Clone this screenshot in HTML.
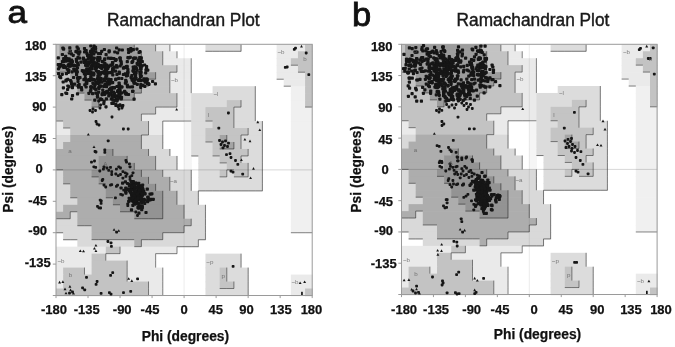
<!DOCTYPE html>
<html><head><meta charset="utf-8"><title>Ramachandran Plot</title>
<style>
html,body{margin:0;padding:0;background:#fff;}
body{width:675px;height:347px;position:relative;overflow:hidden;font-family:"Liberation Sans",sans-serif;color:#111;}
</style></head><body>
<svg width="675" height="347" viewBox="0 0 675 347" style="position:absolute;left:0;top:0;filter:grayscale(1) blur(0.4px)">
<rect x="56.00" y="44.30" width="78.88" height="7.68" fill="#9c9c9c"/>
<rect x="134.28" y="44.30" width="21.95" height="7.68" fill="#c3c3c3"/>
<rect x="155.63" y="44.30" width="14.83" height="7.68" fill="#eaeaea"/>
<rect x="205.45" y="44.30" width="36.18" height="7.68" fill="#dcdcdc"/>
<rect x="276.62" y="44.30" width="29.07" height="7.68" fill="#eaeaea"/>
<rect x="305.08" y="44.30" width="7.72" height="7.68" fill="#c3c3c3"/>
<rect x="56.00" y="51.28" width="86.00" height="7.68" fill="#9c9c9c"/>
<rect x="141.40" y="51.28" width="21.95" height="7.68" fill="#c3c3c3"/>
<rect x="162.75" y="51.28" width="14.83" height="7.68" fill="#eaeaea"/>
<rect x="276.62" y="51.28" width="21.95" height="7.68" fill="#eaeaea"/>
<rect x="297.97" y="51.28" width="14.83" height="7.68" fill="#c3c3c3"/>
<rect x="56.00" y="58.26" width="86.00" height="7.68" fill="#9c9c9c"/>
<rect x="141.40" y="58.26" width="21.95" height="7.68" fill="#c3c3c3"/>
<rect x="162.75" y="58.26" width="29.07" height="7.68" fill="#eaeaea"/>
<rect x="276.62" y="58.26" width="14.83" height="7.68" fill="#eaeaea"/>
<rect x="290.85" y="58.26" width="21.95" height="7.68" fill="#c3c3c3"/>
<rect x="56.00" y="65.23" width="86.00" height="7.68" fill="#9c9c9c"/>
<rect x="141.40" y="65.23" width="36.18" height="7.68" fill="#c3c3c3"/>
<rect x="176.98" y="65.23" width="14.83" height="7.68" fill="#eaeaea"/>
<rect x="276.62" y="65.23" width="21.95" height="7.68" fill="#eaeaea"/>
<rect x="297.97" y="65.23" width="14.83" height="7.68" fill="#c3c3c3"/>
<rect x="56.00" y="72.21" width="14.83" height="7.68" fill="#c3c3c3"/>
<rect x="70.23" y="72.21" width="86.00" height="7.68" fill="#9c9c9c"/>
<rect x="155.63" y="72.21" width="14.83" height="7.68" fill="#c3c3c3"/>
<rect x="169.87" y="72.21" width="21.95" height="7.68" fill="#eaeaea"/>
<rect x="276.62" y="72.21" width="29.07" height="7.68" fill="#eaeaea"/>
<rect x="305.08" y="72.21" width="7.72" height="7.68" fill="#c3c3c3"/>
<rect x="56.00" y="79.19" width="14.83" height="7.68" fill="#c3c3c3"/>
<rect x="70.23" y="79.19" width="78.88" height="7.68" fill="#9c9c9c"/>
<rect x="148.52" y="79.19" width="21.95" height="7.68" fill="#c3c3c3"/>
<rect x="169.87" y="79.19" width="21.95" height="7.68" fill="#eaeaea"/>
<rect x="283.73" y="79.19" width="21.95" height="7.68" fill="#eaeaea"/>
<rect x="305.08" y="79.19" width="7.72" height="7.68" fill="#c3c3c3"/>
<rect x="56.00" y="86.17" width="21.95" height="7.68" fill="#c3c3c3"/>
<rect x="77.35" y="86.17" width="64.65" height="7.68" fill="#9c9c9c"/>
<rect x="141.40" y="86.17" width="29.07" height="7.68" fill="#c3c3c3"/>
<rect x="169.87" y="86.17" width="21.95" height="7.68" fill="#eaeaea"/>
<rect x="212.57" y="86.17" width="43.30" height="7.68" fill="#dcdcdc"/>
<rect x="290.85" y="86.17" width="14.83" height="7.68" fill="#f0f0f0"/>
<rect x="305.08" y="86.17" width="7.72" height="7.68" fill="#c3c3c3"/>
<rect x="56.00" y="93.14" width="29.07" height="7.68" fill="#c3c3c3"/>
<rect x="84.47" y="93.14" width="50.42" height="7.68" fill="#9c9c9c"/>
<rect x="134.28" y="93.14" width="43.30" height="7.68" fill="#c3c3c3"/>
<rect x="176.98" y="93.14" width="14.83" height="7.68" fill="#eaeaea"/>
<rect x="191.22" y="93.14" width="64.65" height="7.68" fill="#dcdcdc"/>
<rect x="290.85" y="93.14" width="14.83" height="7.68" fill="#f0f0f0"/>
<rect x="305.08" y="93.14" width="7.72" height="7.68" fill="#c3c3c3"/>
<rect x="56.00" y="100.12" width="36.18" height="7.68" fill="#c3c3c3"/>
<rect x="91.58" y="100.12" width="7.72" height="7.68" fill="#9c9c9c"/>
<rect x="98.70" y="100.12" width="78.88" height="7.68" fill="#c3c3c3"/>
<rect x="176.98" y="100.12" width="14.83" height="7.68" fill="#eaeaea"/>
<rect x="191.22" y="100.12" width="36.18" height="7.68" fill="#dcdcdc"/>
<rect x="226.80" y="100.12" width="14.83" height="7.68" fill="#c4c4c4"/>
<rect x="241.03" y="100.12" width="14.83" height="7.68" fill="#dcdcdc"/>
<rect x="290.85" y="100.12" width="14.83" height="7.68" fill="#f0f0f0"/>
<rect x="305.08" y="100.12" width="7.72" height="7.68" fill="#c3c3c3"/>
<rect x="56.00" y="107.10" width="100.23" height="7.68" fill="#c3c3c3"/>
<rect x="155.63" y="107.10" width="36.18" height="7.68" fill="#eaeaea"/>
<rect x="191.22" y="107.10" width="14.83" height="7.68" fill="#dcdcdc"/>
<rect x="205.45" y="107.10" width="29.07" height="7.68" fill="#c4c4c4"/>
<rect x="233.92" y="107.10" width="21.95" height="7.68" fill="#dcdcdc"/>
<rect x="290.85" y="107.10" width="21.95" height="7.68" fill="#f0f0f0"/>
<rect x="56.00" y="114.08" width="86.00" height="7.68" fill="#c3c3c3"/>
<rect x="141.40" y="114.08" width="50.42" height="7.68" fill="#eaeaea"/>
<rect x="191.22" y="114.08" width="14.83" height="7.68" fill="#dcdcdc"/>
<rect x="205.45" y="114.08" width="29.07" height="7.68" fill="#c4c4c4"/>
<rect x="233.92" y="114.08" width="21.95" height="7.68" fill="#dcdcdc"/>
<rect x="290.85" y="114.08" width="21.95" height="7.68" fill="#f0f0f0"/>
<rect x="56.00" y="121.06" width="7.72" height="7.68" fill="#eaeaea"/>
<rect x="63.12" y="121.06" width="86.00" height="7.68" fill="#c3c3c3"/>
<rect x="148.52" y="121.06" width="14.83" height="7.68" fill="#eaeaea"/>
<rect x="184.10" y="121.06" width="7.72" height="7.68" fill="#f5f5f5"/>
<rect x="191.22" y="121.06" width="21.95" height="7.68" fill="#dcdcdc"/>
<rect x="212.57" y="121.06" width="21.95" height="7.68" fill="#c4c4c4"/>
<rect x="233.92" y="121.06" width="29.07" height="7.68" fill="#dcdcdc"/>
<rect x="290.85" y="121.06" width="21.95" height="7.68" fill="#f0f0f0"/>
<rect x="56.00" y="128.03" width="14.83" height="7.68" fill="#eaeaea"/>
<rect x="70.23" y="128.03" width="78.88" height="7.68" fill="#c3c3c3"/>
<rect x="148.52" y="128.03" width="14.83" height="7.68" fill="#eaeaea"/>
<rect x="184.10" y="128.03" width="7.72" height="7.68" fill="#f5f5f5"/>
<rect x="191.22" y="128.03" width="14.83" height="7.68" fill="#dcdcdc"/>
<rect x="205.45" y="128.03" width="43.30" height="7.68" fill="#c4c4c4"/>
<rect x="248.15" y="128.03" width="14.83" height="7.68" fill="#dcdcdc"/>
<rect x="290.85" y="128.03" width="21.95" height="7.68" fill="#f0f0f0"/>
<rect x="56.00" y="135.01" width="14.83" height="7.68" fill="#d9d9d9"/>
<rect x="70.23" y="135.01" width="71.77" height="7.68" fill="#adadad"/>
<rect x="141.40" y="135.01" width="21.95" height="7.68" fill="#d9d9d9"/>
<rect x="184.10" y="135.01" width="7.72" height="7.68" fill="#f5f5f5"/>
<rect x="191.22" y="135.01" width="14.83" height="7.68" fill="#dcdcdc"/>
<rect x="205.45" y="135.01" width="14.83" height="7.68" fill="#c4c4c4"/>
<rect x="219.68" y="135.01" width="7.72" height="7.68" fill="#a4a4a4"/>
<rect x="226.80" y="135.01" width="14.83" height="7.68" fill="#c4c4c4"/>
<rect x="241.03" y="135.01" width="21.95" height="7.68" fill="#dcdcdc"/>
<rect x="290.85" y="135.01" width="21.95" height="7.68" fill="#f0f0f0"/>
<rect x="56.00" y="141.99" width="7.72" height="7.68" fill="#d9d9d9"/>
<rect x="63.12" y="141.99" width="78.88" height="7.68" fill="#adadad"/>
<rect x="141.40" y="141.99" width="21.95" height="7.68" fill="#d9d9d9"/>
<rect x="184.10" y="141.99" width="7.72" height="7.68" fill="#f5f5f5"/>
<rect x="191.22" y="141.99" width="21.95" height="7.68" fill="#dcdcdc"/>
<rect x="212.57" y="141.99" width="7.72" height="7.68" fill="#c4c4c4"/>
<rect x="219.68" y="141.99" width="14.83" height="7.68" fill="#a4a4a4"/>
<rect x="233.92" y="141.99" width="7.72" height="7.68" fill="#c4c4c4"/>
<rect x="241.03" y="141.99" width="21.95" height="7.68" fill="#dcdcdc"/>
<rect x="290.85" y="141.99" width="21.95" height="7.68" fill="#f0f0f0"/>
<rect x="56.00" y="148.97" width="50.42" height="7.68" fill="#adadad"/>
<rect x="105.82" y="148.97" width="7.72" height="7.68" fill="#939393"/>
<rect x="112.93" y="148.97" width="36.18" height="7.68" fill="#adadad"/>
<rect x="148.52" y="148.97" width="21.95" height="7.68" fill="#d9d9d9"/>
<rect x="184.10" y="148.97" width="7.72" height="7.68" fill="#f5f5f5"/>
<rect x="191.22" y="148.97" width="21.95" height="7.68" fill="#dcdcdc"/>
<rect x="212.57" y="148.97" width="36.18" height="7.68" fill="#c4c4c4"/>
<rect x="248.15" y="148.97" width="14.83" height="7.68" fill="#dcdcdc"/>
<rect x="290.85" y="148.97" width="21.95" height="7.68" fill="#f0f0f0"/>
<rect x="56.00" y="155.94" width="43.30" height="7.68" fill="#adadad"/>
<rect x="98.70" y="155.94" width="29.07" height="7.68" fill="#939393"/>
<rect x="127.17" y="155.94" width="29.07" height="7.68" fill="#adadad"/>
<rect x="155.63" y="155.94" width="21.95" height="7.68" fill="#d9d9d9"/>
<rect x="184.10" y="155.94" width="7.72" height="7.68" fill="#f5f5f5"/>
<rect x="198.33" y="155.94" width="21.95" height="7.68" fill="#dcdcdc"/>
<rect x="219.68" y="155.94" width="21.95" height="7.68" fill="#c4c4c4"/>
<rect x="241.03" y="155.94" width="21.95" height="7.68" fill="#dcdcdc"/>
<rect x="290.85" y="155.94" width="21.95" height="7.68" fill="#f0f0f0"/>
<rect x="56.00" y="162.92" width="43.30" height="7.68" fill="#adadad"/>
<rect x="98.70" y="162.92" width="36.18" height="7.68" fill="#939393"/>
<rect x="134.28" y="162.92" width="21.95" height="7.68" fill="#adadad"/>
<rect x="155.63" y="162.92" width="21.95" height="7.68" fill="#d9d9d9"/>
<rect x="184.10" y="162.92" width="7.72" height="7.68" fill="#f5f5f5"/>
<rect x="198.33" y="162.92" width="29.07" height="7.68" fill="#dcdcdc"/>
<rect x="226.80" y="162.92" width="21.95" height="7.68" fill="#c4c4c4"/>
<rect x="248.15" y="162.92" width="14.83" height="7.68" fill="#dcdcdc"/>
<rect x="290.85" y="162.92" width="21.95" height="7.68" fill="#f0f0f0"/>
<rect x="56.00" y="169.90" width="7.72" height="7.68" fill="#d9d9d9"/>
<rect x="63.12" y="169.90" width="29.07" height="7.68" fill="#adadad"/>
<rect x="91.58" y="169.90" width="50.42" height="7.68" fill="#939393"/>
<rect x="141.40" y="169.90" width="21.95" height="7.68" fill="#adadad"/>
<rect x="162.75" y="169.90" width="29.07" height="7.68" fill="#d9d9d9"/>
<rect x="198.33" y="169.90" width="21.95" height="7.68" fill="#dcdcdc"/>
<rect x="219.68" y="169.90" width="7.72" height="7.68" fill="#c4c4c4"/>
<rect x="226.80" y="169.90" width="7.72" height="7.68" fill="#dcdcdc"/>
<rect x="233.92" y="169.90" width="14.83" height="7.68" fill="#c4c4c4"/>
<rect x="248.15" y="169.90" width="14.83" height="7.68" fill="#dcdcdc"/>
<rect x="290.85" y="169.90" width="21.95" height="7.68" fill="#f0f0f0"/>
<rect x="56.00" y="176.88" width="7.72" height="7.68" fill="#d9d9d9"/>
<rect x="63.12" y="176.88" width="36.18" height="7.68" fill="#adadad"/>
<rect x="98.70" y="176.88" width="50.42" height="7.68" fill="#939393"/>
<rect x="148.52" y="176.88" width="21.95" height="7.68" fill="#adadad"/>
<rect x="169.87" y="176.88" width="21.95" height="7.68" fill="#d9d9d9"/>
<rect x="198.33" y="176.88" width="64.65" height="7.68" fill="#dcdcdc"/>
<rect x="290.85" y="176.88" width="21.95" height="7.68" fill="#f0f0f0"/>
<rect x="56.00" y="183.86" width="14.83" height="7.68" fill="#d9d9d9"/>
<rect x="70.23" y="183.86" width="36.18" height="7.68" fill="#adadad"/>
<rect x="105.82" y="183.86" width="50.42" height="7.68" fill="#939393"/>
<rect x="155.63" y="183.86" width="14.83" height="7.68" fill="#adadad"/>
<rect x="169.87" y="183.86" width="21.95" height="7.68" fill="#d9d9d9"/>
<rect x="198.33" y="183.86" width="64.65" height="7.68" fill="#dcdcdc"/>
<rect x="290.85" y="183.86" width="21.95" height="7.68" fill="#f0f0f0"/>
<rect x="56.00" y="190.83" width="14.83" height="7.68" fill="#d9d9d9"/>
<rect x="70.23" y="190.83" width="36.18" height="7.68" fill="#adadad"/>
<rect x="105.82" y="190.83" width="57.53" height="7.68" fill="#939393"/>
<rect x="162.75" y="190.83" width="14.83" height="7.68" fill="#adadad"/>
<rect x="176.98" y="190.83" width="21.95" height="7.68" fill="#d9d9d9"/>
<rect x="290.85" y="190.83" width="21.95" height="7.68" fill="#f0f0f0"/>
<rect x="56.00" y="197.81" width="21.95" height="7.68" fill="#d9d9d9"/>
<rect x="77.35" y="197.81" width="36.18" height="7.68" fill="#adadad"/>
<rect x="112.93" y="197.81" width="50.42" height="7.68" fill="#939393"/>
<rect x="162.75" y="197.81" width="14.83" height="7.68" fill="#adadad"/>
<rect x="176.98" y="197.81" width="21.95" height="7.68" fill="#d9d9d9"/>
<rect x="290.85" y="197.81" width="21.95" height="7.68" fill="#f0f0f0"/>
<rect x="56.00" y="204.79" width="7.72" height="7.68" fill="#d9d9d9"/>
<rect x="63.12" y="204.79" width="57.53" height="7.68" fill="#adadad"/>
<rect x="120.05" y="204.79" width="43.30" height="7.68" fill="#939393"/>
<rect x="162.75" y="204.79" width="21.95" height="7.68" fill="#adadad"/>
<rect x="184.10" y="204.79" width="21.95" height="7.68" fill="#d9d9d9"/>
<rect x="290.85" y="204.79" width="21.95" height="7.68" fill="#f0f0f0"/>
<rect x="56.00" y="211.77" width="14.83" height="7.68" fill="#adadad"/>
<rect x="70.23" y="211.77" width="7.72" height="7.68" fill="#d9d9d9"/>
<rect x="77.35" y="211.77" width="57.53" height="7.68" fill="#adadad"/>
<rect x="134.28" y="211.77" width="29.07" height="7.68" fill="#939393"/>
<rect x="162.75" y="211.77" width="21.95" height="7.68" fill="#adadad"/>
<rect x="184.10" y="211.77" width="21.95" height="7.68" fill="#d9d9d9"/>
<rect x="290.85" y="211.77" width="21.95" height="7.68" fill="#f0f0f0"/>
<rect x="56.00" y="218.74" width="21.95" height="7.68" fill="#d9d9d9"/>
<rect x="77.35" y="218.74" width="114.47" height="7.68" fill="#adadad"/>
<rect x="191.22" y="218.74" width="14.83" height="7.68" fill="#d9d9d9"/>
<rect x="290.85" y="218.74" width="21.95" height="7.68" fill="#f0f0f0"/>
<rect x="56.00" y="225.72" width="36.18" height="7.68" fill="#d9d9d9"/>
<rect x="91.58" y="225.72" width="93.12" height="7.68" fill="#adadad"/>
<rect x="184.10" y="225.72" width="21.95" height="7.68" fill="#d9d9d9"/>
<rect x="290.85" y="225.72" width="21.95" height="7.68" fill="#f0f0f0"/>
<rect x="63.12" y="232.70" width="29.07" height="7.68" fill="#d9d9d9"/>
<rect x="91.58" y="232.70" width="71.77" height="7.68" fill="#adadad"/>
<rect x="162.75" y="232.70" width="43.30" height="7.68" fill="#d9d9d9"/>
<rect x="77.35" y="239.68" width="57.53" height="7.68" fill="#d9d9d9"/>
<rect x="134.28" y="239.68" width="7.72" height="7.68" fill="#adadad"/>
<rect x="141.40" y="239.68" width="57.53" height="7.68" fill="#d9d9d9"/>
<rect x="56.00" y="246.66" width="50.42" height="7.68" fill="#eaeaea"/>
<rect x="105.82" y="246.66" width="14.83" height="7.68" fill="#c3c3c3"/>
<rect x="120.05" y="246.66" width="57.53" height="7.68" fill="#eaeaea"/>
<rect x="56.00" y="253.63" width="36.18" height="7.68" fill="#eaeaea"/>
<rect x="91.58" y="253.63" width="14.83" height="7.68" fill="#c3c3c3"/>
<rect x="105.82" y="253.63" width="50.42" height="7.68" fill="#eaeaea"/>
<rect x="205.45" y="253.63" width="36.18" height="7.68" fill="#dcdcdc"/>
<rect x="56.00" y="260.61" width="36.18" height="7.68" fill="#eaeaea"/>
<rect x="91.58" y="260.61" width="36.18" height="7.68" fill="#c3c3c3"/>
<rect x="127.17" y="260.61" width="29.07" height="7.68" fill="#eaeaea"/>
<rect x="205.45" y="260.61" width="36.18" height="7.68" fill="#dcdcdc"/>
<rect x="56.00" y="267.59" width="7.72" height="7.68" fill="#eaeaea"/>
<rect x="63.12" y="267.59" width="21.95" height="7.68" fill="#c3c3c3"/>
<rect x="84.47" y="267.59" width="7.72" height="7.68" fill="#eaeaea"/>
<rect x="91.58" y="267.59" width="36.18" height="7.68" fill="#c3c3c3"/>
<rect x="127.17" y="267.59" width="36.18" height="7.68" fill="#eaeaea"/>
<rect x="205.45" y="267.59" width="14.83" height="7.68" fill="#dcdcdc"/>
<rect x="219.68" y="267.59" width="7.72" height="7.68" fill="#c4c4c4"/>
<rect x="226.80" y="267.59" width="21.95" height="7.68" fill="#dcdcdc"/>
<rect x="56.00" y="274.57" width="7.72" height="7.68" fill="#eaeaea"/>
<rect x="63.12" y="274.57" width="64.65" height="7.68" fill="#c3c3c3"/>
<rect x="127.17" y="274.57" width="36.18" height="7.68" fill="#eaeaea"/>
<rect x="205.45" y="274.57" width="14.83" height="7.68" fill="#dcdcdc"/>
<rect x="219.68" y="274.57" width="7.72" height="7.68" fill="#c4c4c4"/>
<rect x="226.80" y="274.57" width="21.95" height="7.68" fill="#dcdcdc"/>
<rect x="290.85" y="274.57" width="21.95" height="7.68" fill="#eaeaea"/>
<rect x="56.00" y="281.54" width="7.72" height="7.68" fill="#eaeaea"/>
<rect x="63.12" y="281.54" width="86.00" height="7.68" fill="#c3c3c3"/>
<rect x="148.52" y="281.54" width="14.83" height="7.68" fill="#eaeaea"/>
<rect x="205.45" y="281.54" width="14.83" height="7.68" fill="#dcdcdc"/>
<rect x="219.68" y="281.54" width="14.83" height="7.68" fill="#c4c4c4"/>
<rect x="233.92" y="281.54" width="14.83" height="7.68" fill="#dcdcdc"/>
<rect x="290.85" y="281.54" width="21.95" height="7.68" fill="#eaeaea"/>
<rect x="56.00" y="288.52" width="93.12" height="7.68" fill="#c3c3c3"/>
<rect x="148.52" y="288.52" width="14.83" height="7.68" fill="#eaeaea"/>
<rect x="205.45" y="288.52" width="43.30" height="7.68" fill="#dcdcdc"/>
<rect x="290.85" y="288.52" width="14.83" height="7.68" fill="#eaeaea"/>
<rect x="305.08" y="288.52" width="7.72" height="7.68" fill="#c3c3c3"/>
<rect x="56.00" y="44.30" width="3.5" height="27.91" fill="#c3c3c3"/>
<path d="M134.28 44.30L134.28 51.28M155.63 44.30L155.63 51.28M169.87 44.30L169.87 51.28M205.45 51.28L212.57 51.28M212.57 51.28L219.68 51.28M219.68 51.28L226.80 51.28M226.80 51.28L233.92 51.28M241.03 44.30L241.03 51.28M233.92 51.28L241.03 51.28M141.40 51.28L141.40 58.26M162.75 51.28L162.75 58.26M176.98 51.28L176.98 58.26M141.40 58.26L141.40 65.23M162.75 58.26L162.75 65.23M191.22 58.26L191.22 65.23M290.85 65.23L297.97 65.23M56.00 72.21L63.12 72.21M63.12 72.21L70.23 72.21M141.40 65.23L141.40 72.21M176.98 65.23L176.98 72.21M169.87 72.21L176.98 72.21M191.22 65.23L191.22 72.21M297.97 72.21L305.08 72.21M155.63 72.21L155.63 79.19M148.52 79.19L155.63 79.19M169.87 72.21L169.87 79.19M191.22 72.21L191.22 79.19M276.62 79.19L283.73 79.19M70.23 86.17L77.35 86.17M148.52 79.19L148.52 86.17M141.40 86.17L148.52 86.17M169.87 79.19L169.87 86.17M191.22 79.19L191.22 86.17M283.73 86.17L290.85 86.17M77.35 93.14L84.47 93.14M141.40 86.17L141.40 93.14M134.28 93.14L141.40 93.14M169.87 86.17L169.87 93.14M191.22 86.17L191.22 93.14M255.27 86.17L255.27 93.14M84.47 100.12L91.58 100.12M98.70 100.12L105.82 100.12M105.82 100.12L112.93 100.12M112.93 100.12L120.05 100.12M120.05 100.12L127.17 100.12M134.28 93.14L134.28 100.12M127.17 100.12L134.28 100.12M176.98 93.14L176.98 100.12M255.27 93.14L255.27 100.12M98.70 100.12L98.70 107.10M91.58 107.10L98.70 107.10M155.63 107.10L162.75 107.10M162.75 107.10L169.87 107.10M176.98 100.12L176.98 107.10M169.87 107.10L176.98 107.10M241.03 100.12L241.03 107.10M233.92 107.10L241.03 107.10M255.27 100.12L255.27 107.10M305.08 107.10L312.20 107.10M141.40 114.08L148.52 114.08M155.63 107.10L155.63 114.08M148.52 114.08L155.63 114.08M233.92 107.10L233.92 114.08M255.27 107.10L255.27 114.08M56.00 121.06L63.12 121.06M141.40 114.08L141.40 121.06M162.75 121.06L169.87 121.06M169.87 121.06L176.98 121.06M176.98 121.06L184.10 121.06M184.10 121.06L191.22 121.06M205.45 121.06L212.57 121.06M233.92 114.08L233.92 121.06M255.27 114.08L255.27 121.06M63.12 128.03L70.23 128.03M148.52 121.06L148.52 128.03M162.75 121.06L162.75 128.03M233.92 121.06L233.92 128.03M262.38 121.06L262.38 128.03M148.52 128.03L148.52 135.01M141.40 135.01L148.52 135.01M162.75 128.03L162.75 135.01M248.15 128.03L248.15 135.01M241.03 135.01L248.15 135.01M262.38 128.03L262.38 135.01M141.40 135.01L141.40 141.99M162.75 135.01L162.75 141.99M205.45 141.99L212.57 141.99M226.80 135.01L226.80 141.99M241.03 135.01L241.03 141.99M262.38 135.01L262.38 141.99M141.40 141.99L141.40 148.97M162.75 141.99L162.75 148.97M219.68 148.97L226.80 148.97M233.92 141.99L233.92 148.97M226.80 148.97L233.92 148.97M241.03 141.99L241.03 148.97M262.38 141.99L262.38 148.97M112.93 148.97L112.93 155.94M148.52 148.97L148.52 155.94M169.87 148.97L169.87 155.94M191.22 155.94L198.33 155.94M212.57 155.94L219.68 155.94M248.15 148.97L248.15 155.94M241.03 155.94L248.15 155.94M262.38 148.97L262.38 155.94M127.17 155.94L127.17 162.92M155.63 155.94L155.63 162.92M176.98 155.94L176.98 162.92M219.68 162.92L226.80 162.92M241.03 155.94L241.03 162.92M262.38 155.94L262.38 162.92M56.00 169.90L63.12 169.90M134.28 162.92L134.28 169.90M155.63 162.92L155.63 169.90M176.98 162.92L176.98 169.90M226.80 169.90L233.92 169.90M248.15 162.92L248.15 169.90M262.38 162.92L262.38 169.90M91.58 176.88L98.70 176.88M141.40 169.90L141.40 176.88M162.75 169.90L162.75 176.88M191.22 169.90L191.22 176.88M226.80 169.90L226.80 176.88M219.68 176.88L226.80 176.88M233.92 176.88L241.03 176.88M248.15 169.90L248.15 176.88M241.03 176.88L248.15 176.88M262.38 169.90L262.38 176.88M63.12 183.86L70.23 183.86M98.70 183.86L105.82 183.86M148.52 176.88L148.52 183.86M169.87 176.88L169.87 183.86M191.22 176.88L191.22 183.86M262.38 176.88L262.38 183.86M155.63 183.86L155.63 190.83M169.87 183.86L169.87 190.83M191.22 183.86L191.22 190.83M198.33 190.83L205.45 190.83M205.45 190.83L212.57 190.83M212.57 190.83L219.68 190.83M219.68 190.83L226.80 190.83M226.80 190.83L233.92 190.83M233.92 190.83L241.03 190.83M241.03 190.83L248.15 190.83M248.15 190.83L255.27 190.83M262.38 183.86L262.38 190.83M255.27 190.83L262.38 190.83M70.23 197.81L77.35 197.81M105.82 197.81L112.93 197.81M162.75 190.83L162.75 197.81M176.98 190.83L176.98 197.81M198.33 190.83L198.33 197.81M112.93 204.79L120.05 204.79M162.75 197.81L162.75 204.79M176.98 197.81L176.98 204.79M198.33 197.81L198.33 204.79M70.23 211.77L77.35 211.77M120.05 211.77L127.17 211.77M127.17 211.77L134.28 211.77M162.75 204.79L162.75 211.77M184.10 204.79L184.10 211.77M205.45 204.79L205.45 211.77M56.00 218.74L63.12 218.74M70.23 211.77L70.23 218.74M63.12 218.74L70.23 218.74M134.28 218.74L141.40 218.74M141.40 218.74L148.52 218.74M148.52 218.74L155.63 218.74M162.75 211.77L162.75 218.74M155.63 218.74L162.75 218.74M184.10 211.77L184.10 218.74M205.45 211.77L205.45 218.74M77.35 225.72L84.47 225.72M84.47 225.72L91.58 225.72M191.22 218.74L191.22 225.72M184.10 225.72L191.22 225.72M205.45 218.74L205.45 225.72M56.00 232.70L63.12 232.70M162.75 232.70L169.87 232.70M169.87 232.70L176.98 232.70M184.10 225.72L184.10 232.70M176.98 232.70L184.10 232.70M205.45 225.72L205.45 232.70M290.85 232.70L297.97 232.70M297.97 232.70L305.08 232.70M305.08 232.70L312.20 232.70M63.12 239.68L70.23 239.68M70.23 239.68L77.35 239.68M91.58 239.68L98.70 239.68M98.70 239.68L105.82 239.68M105.82 239.68L112.93 239.68M112.93 239.68L120.05 239.68M120.05 239.68L127.17 239.68M127.17 239.68L134.28 239.68M141.40 239.68L148.52 239.68M148.52 239.68L155.63 239.68M162.75 232.70L162.75 239.68M155.63 239.68L162.75 239.68M205.45 232.70L205.45 239.68M198.33 239.68L205.45 239.68M141.40 239.68L141.40 246.66M134.28 246.66L141.40 246.66M176.98 246.66L184.10 246.66M184.10 246.66L191.22 246.66M198.33 239.68L198.33 246.66M191.22 246.66L198.33 246.66M105.82 253.63L112.93 253.63M120.05 246.66L120.05 253.63M112.93 253.63L120.05 253.63M155.63 253.63L162.75 253.63M162.75 253.63L169.87 253.63M176.98 246.66L176.98 253.63M169.87 253.63L176.98 253.63M105.82 253.63L105.82 260.61M155.63 253.63L155.63 260.61M241.03 253.63L241.03 260.61M127.17 260.61L127.17 267.59M155.63 260.61L155.63 267.59M241.03 260.61L241.03 267.59M84.47 267.59L84.47 274.57M127.17 267.59L127.17 274.57M162.75 267.59L162.75 274.57M226.80 267.59L226.80 274.57M248.15 267.59L248.15 274.57M127.17 274.57L127.17 281.54M162.75 274.57L162.75 281.54M226.80 274.57L226.80 281.54M248.15 274.57L248.15 281.54M148.52 281.54L148.52 288.52M162.75 281.54L162.75 288.52M219.68 288.52L226.80 288.52M233.92 281.54L233.92 288.52M226.80 288.52L233.92 288.52M248.15 281.54L248.15 288.52M148.52 288.52L148.52 295.50M162.75 288.52L162.75 295.50M248.15 288.52L248.15 295.50" stroke="#000" stroke-opacity="0.5" stroke-width="0.9" fill="none"/>
<path d="M184.10 44.30V295.50" stroke="#000" stroke-opacity="0.10" stroke-width="0.8" fill="none"/>
<path d="M56.00 169.90H312.20" stroke="#000" stroke-opacity="0.20" stroke-width="0.8" fill="none"/>
<rect x="56.00" y="44.30" width="256.20" height="251.20" fill="none" stroke="#9a9a9a" stroke-width="1"/>
<path d="M56.00 44.30h-3.2M56.00 295.50v2.6M56.00 75.70h-3.2M88.03 295.50v2.6M56.00 107.10h-3.2M120.05 295.50v2.6M56.00 138.50h-3.2M152.07 295.50v2.6M56.00 169.90h-3.2M184.10 295.50v2.6M56.00 201.30h-3.2M216.12 295.50v2.6M56.00 232.70h-3.2M248.15 295.50v2.6M56.00 264.10h-3.2M280.17 295.50v2.6M56.00 295.50h-3.2M312.20 295.50v2.6" stroke="#9a9a9a" stroke-width="1" fill="none"/>
<g fill="#161616">
<rect x="62.0" y="47.5" width="3.2" height="3.2" rx=".8"/>
<rect x="61.3" y="46.5" width="3.2" height="3.2" rx=".8"/>
<rect x="68.2" y="46.3" width="3.2" height="3.2" rx=".8"/>
<rect x="75.5" y="45.6" width="3.2" height="3.2" rx=".8"/>
<rect x="76.7" y="47.3" width="3.2" height="3.2" rx=".8"/>
<rect x="82.9" y="46.9" width="3.2" height="3.2" rx=".8"/>
<rect x="78.2" y="50.3" width="3.2" height="3.2" rx=".8"/>
<rect x="89.2" y="44.4" width="3.2" height="3.2" rx=".8"/>
<rect x="84.5" y="49.0" width="3.2" height="3.2" rx=".8"/>
<rect x="93.9" y="47.4" width="3.2" height="3.2" rx=".8"/>
<rect x="92.1" y="46.6" width="3.2" height="3.2" rx=".8"/>
<rect x="90.6" y="47.8" width="3.2" height="3.2" rx=".8"/>
<rect x="92.5" y="44.6" width="3.2" height="3.2" rx=".8"/>
<rect x="93.9" y="45.8" width="3.2" height="3.2" rx=".8"/>
<rect x="102.8" y="47.9" width="3.2" height="3.2" rx=".8"/>
<rect x="115.0" y="46.4" width="3.2" height="3.2" rx=".8"/>
<rect x="117.6" y="48.2" width="3.2" height="3.2" rx=".8"/>
<rect x="120.7" y="48.4" width="3.2" height="3.2" rx=".8"/>
<rect x="129.9" y="48.5" width="3.2" height="3.2" rx=".8"/>
<rect x="129.1" y="49.5" width="3.2" height="3.2" rx=".8"/>
<rect x="126.8" y="47.9" width="3.2" height="3.2" rx=".8"/>
<rect x="129.2" y="46.9" width="3.2" height="3.2" rx=".8"/>
<rect x="138.4" y="50.1" width="3.2" height="3.2" rx=".8"/>
<rect x="135.3" y="47.6" width="3.2" height="3.2" rx=".8"/>
<rect x="131.7" y="48.0" width="3.2" height="3.2" rx=".8"/>
<rect x="67.8" y="51.4" width="3.2" height="3.2" rx=".8"/>
<rect x="64.0" y="54.7" width="3.2" height="3.2" rx=".8"/>
<rect x="60.8" y="52.9" width="3.2" height="3.2" rx=".8"/>
<rect x="68.7" y="49.5" width="3.2" height="3.2" rx=".8"/>
<rect x="74.3" y="50.1" width="3.2" height="3.2" rx=".8"/>
<rect x="69.8" y="52.3" width="3.2" height="3.2" rx=".8"/>
<rect x="75.2" y="49.6" width="3.2" height="3.2" rx=".8"/>
<rect x="71.6" y="53.7" width="3.2" height="3.2" rx=".8"/>
<rect x="81.8" y="56.4" width="3.2" height="3.2" rx=".8"/>
<rect x="77.2" y="52.5" width="3.2" height="3.2" rx=".8"/>
<rect x="77.9" y="56.6" width="3.2" height="3.2" rx=".8"/>
<rect x="83.0" y="50.3" width="3.2" height="3.2" rx=".8"/>
<rect x="76.3" y="51.0" width="3.2" height="3.2" rx=".8"/>
<rect x="86.0" y="54.0" width="3.2" height="3.2" rx=".8"/>
<rect x="84.1" y="49.0" width="3.2" height="3.2" rx=".8"/>
<rect x="85.4" y="52.1" width="3.2" height="3.2" rx=".8"/>
<rect x="86.7" y="57.2" width="3.2" height="3.2" rx=".8"/>
<rect x="87.8" y="53.4" width="3.2" height="3.2" rx=".8"/>
<rect x="87.1" y="54.8" width="3.2" height="3.2" rx=".8"/>
<rect x="96.6" y="55.7" width="3.2" height="3.2" rx=".8"/>
<rect x="96.4" y="55.9" width="3.2" height="3.2" rx=".8"/>
<rect x="92.2" y="52.4" width="3.2" height="3.2" rx=".8"/>
<rect x="89.7" y="54.4" width="3.2" height="3.2" rx=".8"/>
<rect x="89.4" y="49.5" width="3.2" height="3.2" rx=".8"/>
<rect x="90.7" y="50.4" width="3.2" height="3.2" rx=".8"/>
<rect x="91.8" y="49.4" width="3.2" height="3.2" rx=".8"/>
<rect x="88.9" y="50.3" width="3.2" height="3.2" rx=".8"/>
<rect x="89.7" y="52.1" width="3.2" height="3.2" rx=".8"/>
<rect x="89.1" y="56.5" width="3.2" height="3.2" rx=".8"/>
<rect x="94.2" y="50.2" width="3.2" height="3.2" rx=".8"/>
<rect x="98.9" y="52.1" width="3.2" height="3.2" rx=".8"/>
<rect x="97.0" y="56.3" width="3.2" height="3.2" rx=".8"/>
<rect x="104.5" y="53.0" width="3.2" height="3.2" rx=".8"/>
<rect x="100.1" y="49.7" width="3.2" height="3.2" rx=".8"/>
<rect x="96.8" y="51.9" width="3.2" height="3.2" rx=".8"/>
<rect x="98.2" y="56.1" width="3.2" height="3.2" rx=".8"/>
<rect x="103.1" y="57.2" width="3.2" height="3.2" rx=".8"/>
<rect x="107.5" y="50.2" width="3.2" height="3.2" rx=".8"/>
<rect x="107.6" y="49.2" width="3.2" height="3.2" rx=".8"/>
<rect x="118.5" y="56.4" width="3.2" height="3.2" rx=".8"/>
<rect x="116.0" y="51.2" width="3.2" height="3.2" rx=".8"/>
<rect x="113.2" y="50.4" width="3.2" height="3.2" rx=".8"/>
<rect x="128.7" y="55.7" width="3.2" height="3.2" rx=".8"/>
<rect x="127.0" y="50.9" width="3.2" height="3.2" rx=".8"/>
<rect x="139.7" y="56.3" width="3.2" height="3.2" rx=".8"/>
<rect x="138.1" y="56.0" width="3.2" height="3.2" rx=".8"/>
<rect x="137.5" y="50.9" width="3.2" height="3.2" rx=".8"/>
<rect x="56.7" y="56.3" width="3.2" height="3.2" rx=".8"/>
<rect x="61.9" y="59.9" width="3.2" height="3.2" rx=".8"/>
<rect x="61.7" y="64.5" width="3.2" height="3.2" rx=".8"/>
<rect x="61.9" y="59.2" width="3.2" height="3.2" rx=".8"/>
<rect x="59.0" y="63.8" width="3.2" height="3.2" rx=".8"/>
<rect x="60.9" y="60.1" width="3.2" height="3.2" rx=".8"/>
<rect x="59.2" y="62.9" width="3.2" height="3.2" rx=".8"/>
<rect x="66.4" y="63.9" width="3.2" height="3.2" rx=".8"/>
<rect x="67.4" y="62.5" width="3.2" height="3.2" rx=".8"/>
<rect x="64.8" y="57.5" width="3.2" height="3.2" rx=".8"/>
<rect x="67.5" y="58.9" width="3.2" height="3.2" rx=".8"/>
<rect x="67.6" y="64.4" width="3.2" height="3.2" rx=".8"/>
<rect x="64.1" y="59.5" width="3.2" height="3.2" rx=".8"/>
<rect x="68.8" y="62.3" width="3.2" height="3.2" rx=".8"/>
<rect x="62.1" y="57.1" width="3.2" height="3.2" rx=".8"/>
<rect x="62.0" y="63.8" width="3.2" height="3.2" rx=".8"/>
<rect x="67.6" y="57.3" width="3.2" height="3.2" rx=".8"/>
<rect x="67.8" y="64.5" width="3.2" height="3.2" rx=".8"/>
<rect x="66.3" y="59.0" width="3.2" height="3.2" rx=".8"/>
<rect x="65.4" y="57.1" width="3.2" height="3.2" rx=".8"/>
<rect x="76.1" y="61.6" width="3.2" height="3.2" rx=".8"/>
<rect x="72.3" y="64.1" width="3.2" height="3.2" rx=".8"/>
<rect x="71.5" y="63.5" width="3.2" height="3.2" rx=".8"/>
<rect x="74.8" y="57.8" width="3.2" height="3.2" rx=".8"/>
<rect x="69.9" y="58.5" width="3.2" height="3.2" rx=".8"/>
<rect x="69.8" y="61.1" width="3.2" height="3.2" rx=".8"/>
<rect x="69.9" y="59.6" width="3.2" height="3.2" rx=".8"/>
<rect x="68.8" y="63.9" width="3.2" height="3.2" rx=".8"/>
<rect x="70.8" y="60.0" width="3.2" height="3.2" rx=".8"/>
<rect x="72.7" y="63.8" width="3.2" height="3.2" rx=".8"/>
<rect x="82.7" y="60.3" width="3.2" height="3.2" rx=".8"/>
<rect x="79.4" y="60.5" width="3.2" height="3.2" rx=".8"/>
<rect x="74.9" y="59.8" width="3.2" height="3.2" rx=".8"/>
<rect x="76.3" y="56.0" width="3.2" height="3.2" rx=".8"/>
<rect x="81.7" y="57.5" width="3.2" height="3.2" rx=".8"/>
<rect x="88.1" y="60.8" width="3.2" height="3.2" rx=".8"/>
<rect x="84.6" y="60.5" width="3.2" height="3.2" rx=".8"/>
<rect x="86.6" y="62.8" width="3.2" height="3.2" rx=".8"/>
<rect x="82.7" y="60.8" width="3.2" height="3.2" rx=".8"/>
<rect x="83.9" y="58.4" width="3.2" height="3.2" rx=".8"/>
<rect x="88.5" y="60.4" width="3.2" height="3.2" rx=".8"/>
<rect x="86.7" y="62.6" width="3.2" height="3.2" rx=".8"/>
<rect x="89.7" y="59.8" width="3.2" height="3.2" rx=".8"/>
<rect x="87.1" y="60.4" width="3.2" height="3.2" rx=".8"/>
<rect x="86.2" y="62.0" width="3.2" height="3.2" rx=".8"/>
<rect x="85.7" y="60.6" width="3.2" height="3.2" rx=".8"/>
<rect x="85.9" y="64.1" width="3.2" height="3.2" rx=".8"/>
<rect x="96.4" y="64.1" width="3.2" height="3.2" rx=".8"/>
<rect x="91.1" y="60.8" width="3.2" height="3.2" rx=".8"/>
<rect x="97.0" y="63.3" width="3.2" height="3.2" rx=".8"/>
<rect x="90.0" y="57.1" width="3.2" height="3.2" rx=".8"/>
<rect x="92.7" y="56.6" width="3.2" height="3.2" rx=".8"/>
<rect x="90.9" y="56.6" width="3.2" height="3.2" rx=".8"/>
<rect x="94.6" y="62.8" width="3.2" height="3.2" rx=".8"/>
<rect x="96.6" y="57.3" width="3.2" height="3.2" rx=".8"/>
<rect x="95.0" y="61.7" width="3.2" height="3.2" rx=".8"/>
<rect x="90.1" y="63.6" width="3.2" height="3.2" rx=".8"/>
<rect x="97.2" y="57.9" width="3.2" height="3.2" rx=".8"/>
<rect x="97.1" y="59.4" width="3.2" height="3.2" rx=".8"/>
<rect x="93.1" y="64.6" width="3.2" height="3.2" rx=".8"/>
<rect x="96.1" y="57.4" width="3.2" height="3.2" rx=".8"/>
<rect x="92.6" y="60.5" width="3.2" height="3.2" rx=".8"/>
<rect x="91.8" y="57.7" width="3.2" height="3.2" rx=".8"/>
<rect x="91.6" y="62.2" width="3.2" height="3.2" rx=".8"/>
<rect x="100.7" y="59.8" width="3.2" height="3.2" rx=".8"/>
<rect x="96.1" y="58.9" width="3.2" height="3.2" rx=".8"/>
<rect x="101.3" y="60.4" width="3.2" height="3.2" rx=".8"/>
<rect x="96.5" y="64.5" width="3.2" height="3.2" rx=".8"/>
<rect x="102.7" y="64.4" width="3.2" height="3.2" rx=".8"/>
<rect x="96.8" y="58.3" width="3.2" height="3.2" rx=".8"/>
<rect x="96.2" y="62.7" width="3.2" height="3.2" rx=".8"/>
<rect x="98.2" y="57.1" width="3.2" height="3.2" rx=".8"/>
<rect x="99.6" y="63.9" width="3.2" height="3.2" rx=".8"/>
<rect x="103.0" y="58.2" width="3.2" height="3.2" rx=".8"/>
<rect x="110.9" y="60.9" width="3.2" height="3.2" rx=".8"/>
<rect x="109.0" y="56.8" width="3.2" height="3.2" rx=".8"/>
<rect x="103.4" y="62.0" width="3.2" height="3.2" rx=".8"/>
<rect x="106.6" y="56.6" width="3.2" height="3.2" rx=".8"/>
<rect x="111.1" y="61.5" width="3.2" height="3.2" rx=".8"/>
<rect x="109.9" y="56.7" width="3.2" height="3.2" rx=".8"/>
<rect x="110.6" y="63.5" width="3.2" height="3.2" rx=".8"/>
<rect x="113.9" y="58.9" width="3.2" height="3.2" rx=".8"/>
<rect x="114.8" y="64.0" width="3.2" height="3.2" rx=".8"/>
<rect x="112.3" y="57.1" width="3.2" height="3.2" rx=".8"/>
<rect x="114.6" y="58.1" width="3.2" height="3.2" rx=".8"/>
<rect x="118.4" y="56.4" width="3.2" height="3.2" rx=".8"/>
<rect x="118.8" y="58.7" width="3.2" height="3.2" rx=".8"/>
<rect x="119.7" y="62.6" width="3.2" height="3.2" rx=".8"/>
<rect x="119.6" y="60.3" width="3.2" height="3.2" rx=".8"/>
<rect x="127.1" y="56.2" width="3.2" height="3.2" rx=".8"/>
<rect x="126.3" y="56.1" width="3.2" height="3.2" rx=".8"/>
<rect x="130.4" y="60.8" width="3.2" height="3.2" rx=".8"/>
<rect x="125.7" y="60.1" width="3.2" height="3.2" rx=".8"/>
<rect x="132.2" y="56.9" width="3.2" height="3.2" rx=".8"/>
<rect x="131.2" y="59.7" width="3.2" height="3.2" rx=".8"/>
<rect x="138.4" y="59.4" width="3.2" height="3.2" rx=".8"/>
<rect x="135.5" y="61.9" width="3.2" height="3.2" rx=".8"/>
<rect x="139.6" y="59.0" width="3.2" height="3.2" rx=".8"/>
<rect x="138.3" y="62.1" width="3.2" height="3.2" rx=".8"/>
<rect x="136.7" y="59.5" width="3.2" height="3.2" rx=".8"/>
<rect x="134.2" y="56.5" width="3.2" height="3.2" rx=".8"/>
<rect x="132.3" y="56.6" width="3.2" height="3.2" rx=".8"/>
<rect x="137.6" y="58.2" width="3.2" height="3.2" rx=".8"/>
<rect x="132.6" y="56.7" width="3.2" height="3.2" rx=".8"/>
<rect x="138.4" y="63.5" width="3.2" height="3.2" rx=".8"/>
<rect x="137.0" y="58.4" width="3.2" height="3.2" rx=".8"/>
<rect x="140.7" y="60.0" width="3.2" height="3.2" rx=".8"/>
<rect x="139.6" y="59.9" width="3.2" height="3.2" rx=".8"/>
<rect x="140.5" y="64.3" width="3.2" height="3.2" rx=".8"/>
<rect x="58.3" y="65.2" width="3.2" height="3.2" rx=".8"/>
<rect x="62.0" y="65.7" width="3.2" height="3.2" rx=".8"/>
<rect x="56.7" y="63.1" width="3.2" height="3.2" rx=".8"/>
<rect x="56.9" y="67.2" width="3.2" height="3.2" rx=".8"/>
<rect x="57.9" y="64.8" width="3.2" height="3.2" rx=".8"/>
<rect x="58.0" y="63.1" width="3.2" height="3.2" rx=".8"/>
<rect x="57.1" y="63.4" width="3.2" height="3.2" rx=".8"/>
<rect x="63.3" y="65.1" width="3.2" height="3.2" rx=".8"/>
<rect x="65.7" y="67.6" width="3.2" height="3.2" rx=".8"/>
<rect x="67.1" y="68.7" width="3.2" height="3.2" rx=".8"/>
<rect x="66.8" y="70.7" width="3.2" height="3.2" rx=".8"/>
<rect x="64.0" y="65.9" width="3.2" height="3.2" rx=".8"/>
<rect x="69.2" y="64.3" width="3.2" height="3.2" rx=".8"/>
<rect x="66.9" y="68.6" width="3.2" height="3.2" rx=".8"/>
<rect x="74.9" y="70.8" width="3.2" height="3.2" rx=".8"/>
<rect x="73.1" y="69.4" width="3.2" height="3.2" rx=".8"/>
<rect x="74.7" y="64.3" width="3.2" height="3.2" rx=".8"/>
<rect x="72.2" y="67.4" width="3.2" height="3.2" rx=".8"/>
<rect x="74.9" y="70.0" width="3.2" height="3.2" rx=".8"/>
<rect x="74.8" y="68.1" width="3.2" height="3.2" rx=".8"/>
<rect x="80.7" y="69.0" width="3.2" height="3.2" rx=".8"/>
<rect x="76.7" y="63.3" width="3.2" height="3.2" rx=".8"/>
<rect x="75.9" y="66.2" width="3.2" height="3.2" rx=".8"/>
<rect x="75.7" y="70.3" width="3.2" height="3.2" rx=".8"/>
<rect x="87.2" y="68.5" width="3.2" height="3.2" rx=".8"/>
<rect x="87.7" y="67.3" width="3.2" height="3.2" rx=".8"/>
<rect x="81.8" y="70.0" width="3.2" height="3.2" rx=".8"/>
<rect x="88.3" y="67.4" width="3.2" height="3.2" rx=".8"/>
<rect x="86.4" y="68.8" width="3.2" height="3.2" rx=".8"/>
<rect x="82.4" y="69.4" width="3.2" height="3.2" rx=".8"/>
<rect x="84.0" y="63.7" width="3.2" height="3.2" rx=".8"/>
<rect x="84.1" y="69.4" width="3.2" height="3.2" rx=".8"/>
<rect x="83.6" y="69.4" width="3.2" height="3.2" rx=".8"/>
<rect x="90.2" y="67.3" width="3.2" height="3.2" rx=".8"/>
<rect x="85.1" y="67.2" width="3.2" height="3.2" rx=".8"/>
<rect x="87.7" y="69.7" width="3.2" height="3.2" rx=".8"/>
<rect x="94.4" y="63.7" width="3.2" height="3.2" rx=".8"/>
<rect x="90.1" y="65.2" width="3.2" height="3.2" rx=".8"/>
<rect x="95.3" y="65.7" width="3.2" height="3.2" rx=".8"/>
<rect x="93.8" y="63.2" width="3.2" height="3.2" rx=".8"/>
<rect x="89.4" y="65.4" width="3.2" height="3.2" rx=".8"/>
<rect x="94.7" y="69.0" width="3.2" height="3.2" rx=".8"/>
<rect x="94.7" y="65.6" width="3.2" height="3.2" rx=".8"/>
<rect x="93.3" y="67.1" width="3.2" height="3.2" rx=".8"/>
<rect x="92.9" y="64.1" width="3.2" height="3.2" rx=".8"/>
<rect x="96.6" y="64.8" width="3.2" height="3.2" rx=".8"/>
<rect x="97.3" y="71.1" width="3.2" height="3.2" rx=".8"/>
<rect x="89.0" y="67.0" width="3.2" height="3.2" rx=".8"/>
<rect x="104.3" y="66.9" width="3.2" height="3.2" rx=".8"/>
<rect x="98.2" y="64.9" width="3.2" height="3.2" rx=".8"/>
<rect x="104.1" y="64.9" width="3.2" height="3.2" rx=".8"/>
<rect x="100.9" y="64.3" width="3.2" height="3.2" rx=".8"/>
<rect x="100.4" y="71.3" width="3.2" height="3.2" rx=".8"/>
<rect x="97.0" y="70.1" width="3.2" height="3.2" rx=".8"/>
<rect x="100.3" y="70.7" width="3.2" height="3.2" rx=".8"/>
<rect x="102.0" y="65.1" width="3.2" height="3.2" rx=".8"/>
<rect x="103.7" y="67.3" width="3.2" height="3.2" rx=".8"/>
<rect x="96.1" y="63.1" width="3.2" height="3.2" rx=".8"/>
<rect x="100.2" y="66.9" width="3.2" height="3.2" rx=".8"/>
<rect x="98.5" y="64.3" width="3.2" height="3.2" rx=".8"/>
<rect x="98.9" y="65.8" width="3.2" height="3.2" rx=".8"/>
<rect x="103.2" y="63.1" width="3.2" height="3.2" rx=".8"/>
<rect x="102.4" y="70.3" width="3.2" height="3.2" rx=".8"/>
<rect x="96.9" y="71.1" width="3.2" height="3.2" rx=".8"/>
<rect x="102.1" y="70.8" width="3.2" height="3.2" rx=".8"/>
<rect x="106.2" y="66.4" width="3.2" height="3.2" rx=".8"/>
<rect x="111.6" y="68.1" width="3.2" height="3.2" rx=".8"/>
<rect x="106.1" y="66.8" width="3.2" height="3.2" rx=".8"/>
<rect x="105.3" y="63.5" width="3.2" height="3.2" rx=".8"/>
<rect x="103.8" y="70.3" width="3.2" height="3.2" rx=".8"/>
<rect x="105.4" y="71.1" width="3.2" height="3.2" rx=".8"/>
<rect x="105.1" y="65.3" width="3.2" height="3.2" rx=".8"/>
<rect x="107.4" y="64.7" width="3.2" height="3.2" rx=".8"/>
<rect x="106.2" y="71.3" width="3.2" height="3.2" rx=".8"/>
<rect x="110.6" y="70.1" width="3.2" height="3.2" rx=".8"/>
<rect x="108.4" y="71.0" width="3.2" height="3.2" rx=".8"/>
<rect x="111.1" y="67.8" width="3.2" height="3.2" rx=".8"/>
<rect x="109.2" y="63.5" width="3.2" height="3.2" rx=".8"/>
<rect x="113.9" y="69.6" width="3.2" height="3.2" rx=".8"/>
<rect x="115.6" y="65.5" width="3.2" height="3.2" rx=".8"/>
<rect x="110.4" y="71.1" width="3.2" height="3.2" rx=".8"/>
<rect x="111.1" y="67.1" width="3.2" height="3.2" rx=".8"/>
<rect x="113.0" y="65.6" width="3.2" height="3.2" rx=".8"/>
<rect x="125.5" y="65.3" width="3.2" height="3.2" rx=".8"/>
<rect x="122.7" y="65.7" width="3.2" height="3.2" rx=".8"/>
<rect x="121.9" y="66.5" width="3.2" height="3.2" rx=".8"/>
<rect x="118.5" y="64.4" width="3.2" height="3.2" rx=".8"/>
<rect x="131.9" y="67.3" width="3.2" height="3.2" rx=".8"/>
<rect x="126.0" y="70.9" width="3.2" height="3.2" rx=".8"/>
<rect x="132.7" y="66.9" width="3.2" height="3.2" rx=".8"/>
<rect x="125.3" y="64.7" width="3.2" height="3.2" rx=".8"/>
<rect x="124.9" y="66.0" width="3.2" height="3.2" rx=".8"/>
<rect x="124.9" y="65.1" width="3.2" height="3.2" rx=".8"/>
<rect x="126.3" y="68.0" width="3.2" height="3.2" rx=".8"/>
<rect x="131.8" y="69.5" width="3.2" height="3.2" rx=".8"/>
<rect x="134.7" y="67.6" width="3.2" height="3.2" rx=".8"/>
<rect x="134.4" y="66.0" width="3.2" height="3.2" rx=".8"/>
<rect x="131.7" y="65.5" width="3.2" height="3.2" rx=".8"/>
<rect x="139.5" y="64.1" width="3.2" height="3.2" rx=".8"/>
<rect x="135.5" y="68.5" width="3.2" height="3.2" rx=".8"/>
<rect x="138.6" y="64.9" width="3.2" height="3.2" rx=".8"/>
<rect x="133.5" y="65.2" width="3.2" height="3.2" rx=".8"/>
<rect x="134.6" y="66.9" width="3.2" height="3.2" rx=".8"/>
<rect x="139.4" y="70.4" width="3.2" height="3.2" rx=".8"/>
<rect x="138.7" y="63.2" width="3.2" height="3.2" rx=".8"/>
<rect x="131.4" y="69.2" width="3.2" height="3.2" rx=".8"/>
<rect x="138.9" y="67.1" width="3.2" height="3.2" rx=".8"/>
<rect x="136.2" y="63.1" width="3.2" height="3.2" rx=".8"/>
<rect x="134.5" y="71.1" width="3.2" height="3.2" rx=".8"/>
<rect x="138.3" y="70.4" width="3.2" height="3.2" rx=".8"/>
<rect x="139.6" y="65.2" width="3.2" height="3.2" rx=".8"/>
<rect x="139.5" y="67.6" width="3.2" height="3.2" rx=".8"/>
<rect x="144.1" y="71.2" width="3.2" height="3.2" rx=".8"/>
<rect x="144.4" y="68.6" width="3.2" height="3.2" rx=".8"/>
<rect x="144.8" y="67.0" width="3.2" height="3.2" rx=".8"/>
<rect x="143.0" y="63.4" width="3.2" height="3.2" rx=".8"/>
<rect x="145.0" y="65.1" width="3.2" height="3.2" rx=".8"/>
<rect x="146.2" y="68.6" width="3.2" height="3.2" rx=".8"/>
<rect x="59.1" y="76.1" width="3.2" height="3.2" rx=".8"/>
<rect x="58.1" y="75.1" width="3.2" height="3.2" rx=".8"/>
<rect x="57.0" y="72.0" width="3.2" height="3.2" rx=".8"/>
<rect x="60.7" y="72.7" width="3.2" height="3.2" rx=".8"/>
<rect x="64.6" y="78.4" width="3.2" height="3.2" rx=".8"/>
<rect x="66.2" y="77.7" width="3.2" height="3.2" rx=".8"/>
<rect x="64.8" y="72.1" width="3.2" height="3.2" rx=".8"/>
<rect x="76.0" y="76.2" width="3.2" height="3.2" rx=".8"/>
<rect x="70.4" y="70.3" width="3.2" height="3.2" rx=".8"/>
<rect x="72.0" y="75.9" width="3.2" height="3.2" rx=".8"/>
<rect x="77.0" y="75.9" width="3.2" height="3.2" rx=".8"/>
<rect x="82.8" y="72.1" width="3.2" height="3.2" rx=".8"/>
<rect x="75.0" y="73.0" width="3.2" height="3.2" rx=".8"/>
<rect x="78.4" y="76.0" width="3.2" height="3.2" rx=".8"/>
<rect x="76.5" y="77.0" width="3.2" height="3.2" rx=".8"/>
<rect x="86.2" y="71.9" width="3.2" height="3.2" rx=".8"/>
<rect x="90.2" y="72.8" width="3.2" height="3.2" rx=".8"/>
<rect x="88.9" y="72.1" width="3.2" height="3.2" rx=".8"/>
<rect x="83.7" y="76.7" width="3.2" height="3.2" rx=".8"/>
<rect x="84.4" y="78.3" width="3.2" height="3.2" rx=".8"/>
<rect x="86.1" y="71.7" width="3.2" height="3.2" rx=".8"/>
<rect x="83.7" y="73.7" width="3.2" height="3.2" rx=".8"/>
<rect x="97.1" y="71.4" width="3.2" height="3.2" rx=".8"/>
<rect x="92.3" y="71.9" width="3.2" height="3.2" rx=".8"/>
<rect x="97.3" y="71.3" width="3.2" height="3.2" rx=".8"/>
<rect x="89.3" y="70.6" width="3.2" height="3.2" rx=".8"/>
<rect x="92.3" y="77.9" width="3.2" height="3.2" rx=".8"/>
<rect x="96.5" y="76.4" width="3.2" height="3.2" rx=".8"/>
<rect x="97.5" y="78.2" width="3.2" height="3.2" rx=".8"/>
<rect x="91.7" y="71.7" width="3.2" height="3.2" rx=".8"/>
<rect x="96.9" y="76.6" width="3.2" height="3.2" rx=".8"/>
<rect x="89.1" y="75.8" width="3.2" height="3.2" rx=".8"/>
<rect x="92.1" y="73.3" width="3.2" height="3.2" rx=".8"/>
<rect x="91.7" y="71.6" width="3.2" height="3.2" rx=".8"/>
<rect x="88.9" y="72.5" width="3.2" height="3.2" rx=".8"/>
<rect x="91.9" y="78.4" width="3.2" height="3.2" rx=".8"/>
<rect x="89.9" y="78.4" width="3.2" height="3.2" rx=".8"/>
<rect x="90.6" y="73.2" width="3.2" height="3.2" rx=".8"/>
<rect x="96.0" y="77.2" width="3.2" height="3.2" rx=".8"/>
<rect x="96.3" y="74.2" width="3.2" height="3.2" rx=".8"/>
<rect x="99.1" y="78.1" width="3.2" height="3.2" rx=".8"/>
<rect x="97.6" y="73.3" width="3.2" height="3.2" rx=".8"/>
<rect x="103.7" y="70.4" width="3.2" height="3.2" rx=".8"/>
<rect x="99.5" y="77.1" width="3.2" height="3.2" rx=".8"/>
<rect x="102.5" y="70.5" width="3.2" height="3.2" rx=".8"/>
<rect x="96.2" y="70.6" width="3.2" height="3.2" rx=".8"/>
<rect x="103.9" y="72.3" width="3.2" height="3.2" rx=".8"/>
<rect x="102.4" y="77.9" width="3.2" height="3.2" rx=".8"/>
<rect x="98.8" y="72.5" width="3.2" height="3.2" rx=".8"/>
<rect x="104.2" y="75.4" width="3.2" height="3.2" rx=".8"/>
<rect x="98.2" y="76.3" width="3.2" height="3.2" rx=".8"/>
<rect x="105.3" y="70.1" width="3.2" height="3.2" rx=".8"/>
<rect x="109.5" y="78.0" width="3.2" height="3.2" rx=".8"/>
<rect x="108.4" y="78.3" width="3.2" height="3.2" rx=".8"/>
<rect x="103.2" y="72.1" width="3.2" height="3.2" rx=".8"/>
<rect x="107.1" y="78.4" width="3.2" height="3.2" rx=".8"/>
<rect x="111.2" y="73.4" width="3.2" height="3.2" rx=".8"/>
<rect x="105.1" y="73.8" width="3.2" height="3.2" rx=".8"/>
<rect x="107.2" y="78.1" width="3.2" height="3.2" rx=".8"/>
<rect x="104.5" y="77.0" width="3.2" height="3.2" rx=".8"/>
<rect x="117.1" y="76.8" width="3.2" height="3.2" rx=".8"/>
<rect x="115.3" y="72.9" width="3.2" height="3.2" rx=".8"/>
<rect x="120.2" y="76.9" width="3.2" height="3.2" rx=".8"/>
<rect x="117.7" y="71.8" width="3.2" height="3.2" rx=".8"/>
<rect x="123.6" y="72.2" width="3.2" height="3.2" rx=".8"/>
<rect x="117.6" y="70.4" width="3.2" height="3.2" rx=".8"/>
<rect x="121.8" y="72.9" width="3.2" height="3.2" rx=".8"/>
<rect x="131.7" y="78.6" width="3.2" height="3.2" rx=".8"/>
<rect x="126.4" y="70.8" width="3.2" height="3.2" rx=".8"/>
<rect x="124.9" y="74.4" width="3.2" height="3.2" rx=".8"/>
<rect x="130.2" y="74.0" width="3.2" height="3.2" rx=".8"/>
<rect x="126.1" y="73.7" width="3.2" height="3.2" rx=".8"/>
<rect x="129.5" y="75.9" width="3.2" height="3.2" rx=".8"/>
<rect x="130.6" y="77.4" width="3.2" height="3.2" rx=".8"/>
<rect x="132.2" y="77.4" width="3.2" height="3.2" rx=".8"/>
<rect x="133.7" y="75.0" width="3.2" height="3.2" rx=".8"/>
<rect x="134.4" y="76.5" width="3.2" height="3.2" rx=".8"/>
<rect x="132.9" y="72.2" width="3.2" height="3.2" rx=".8"/>
<rect x="133.3" y="71.4" width="3.2" height="3.2" rx=".8"/>
<rect x="138.8" y="75.1" width="3.2" height="3.2" rx=".8"/>
<rect x="134.0" y="73.5" width="3.2" height="3.2" rx=".8"/>
<rect x="139.7" y="74.5" width="3.2" height="3.2" rx=".8"/>
<rect x="133.2" y="77.1" width="3.2" height="3.2" rx=".8"/>
<rect x="136.8" y="78.7" width="3.2" height="3.2" rx=".8"/>
<rect x="142.3" y="77.2" width="3.2" height="3.2" rx=".8"/>
<rect x="145.5" y="78.0" width="3.2" height="3.2" rx=".8"/>
<rect x="138.5" y="72.6" width="3.2" height="3.2" rx=".8"/>
<rect x="139.2" y="71.7" width="3.2" height="3.2" rx=".8"/>
<rect x="61.6" y="80.4" width="3.2" height="3.2" rx=".8"/>
<rect x="64.5" y="79.4" width="3.2" height="3.2" rx=".8"/>
<rect x="67.4" y="85.3" width="3.2" height="3.2" rx=".8"/>
<rect x="72.9" y="82.5" width="3.2" height="3.2" rx=".8"/>
<rect x="69.6" y="80.3" width="3.2" height="3.2" rx=".8"/>
<rect x="68.9" y="78.9" width="3.2" height="3.2" rx=".8"/>
<rect x="69.9" y="82.3" width="3.2" height="3.2" rx=".8"/>
<rect x="76.5" y="77.2" width="3.2" height="3.2" rx=".8"/>
<rect x="77.6" y="83.0" width="3.2" height="3.2" rx=".8"/>
<rect x="76.4" y="79.9" width="3.2" height="3.2" rx=".8"/>
<rect x="76.5" y="84.0" width="3.2" height="3.2" rx=".8"/>
<rect x="82.3" y="78.0" width="3.2" height="3.2" rx=".8"/>
<rect x="85.2" y="81.9" width="3.2" height="3.2" rx=".8"/>
<rect x="87.3" y="77.9" width="3.2" height="3.2" rx=".8"/>
<rect x="83.2" y="83.2" width="3.2" height="3.2" rx=".8"/>
<rect x="85.3" y="79.6" width="3.2" height="3.2" rx=".8"/>
<rect x="84.5" y="85.4" width="3.2" height="3.2" rx=".8"/>
<rect x="84.5" y="82.1" width="3.2" height="3.2" rx=".8"/>
<rect x="84.9" y="80.8" width="3.2" height="3.2" rx=".8"/>
<rect x="89.3" y="85.8" width="3.2" height="3.2" rx=".8"/>
<rect x="84.9" y="78.9" width="3.2" height="3.2" rx=".8"/>
<rect x="88.1" y="78.9" width="3.2" height="3.2" rx=".8"/>
<rect x="96.6" y="80.8" width="3.2" height="3.2" rx=".8"/>
<rect x="95.9" y="80.7" width="3.2" height="3.2" rx=".8"/>
<rect x="96.5" y="81.1" width="3.2" height="3.2" rx=".8"/>
<rect x="90.3" y="77.3" width="3.2" height="3.2" rx=".8"/>
<rect x="93.6" y="82.7" width="3.2" height="3.2" rx=".8"/>
<rect x="96.7" y="77.9" width="3.2" height="3.2" rx=".8"/>
<rect x="94.2" y="80.4" width="3.2" height="3.2" rx=".8"/>
<rect x="93.2" y="78.4" width="3.2" height="3.2" rx=".8"/>
<rect x="91.3" y="81.7" width="3.2" height="3.2" rx=".8"/>
<rect x="96.9" y="78.1" width="3.2" height="3.2" rx=".8"/>
<rect x="93.1" y="84.1" width="3.2" height="3.2" rx=".8"/>
<rect x="97.2" y="78.9" width="3.2" height="3.2" rx=".8"/>
<rect x="89.9" y="85.3" width="3.2" height="3.2" rx=".8"/>
<rect x="97.3" y="81.3" width="3.2" height="3.2" rx=".8"/>
<rect x="89.3" y="85.2" width="3.2" height="3.2" rx=".8"/>
<rect x="103.7" y="82.5" width="3.2" height="3.2" rx=".8"/>
<rect x="103.0" y="78.5" width="3.2" height="3.2" rx=".8"/>
<rect x="102.7" y="79.1" width="3.2" height="3.2" rx=".8"/>
<rect x="99.4" y="84.5" width="3.2" height="3.2" rx=".8"/>
<rect x="103.1" y="78.7" width="3.2" height="3.2" rx=".8"/>
<rect x="97.8" y="80.6" width="3.2" height="3.2" rx=".8"/>
<rect x="100.4" y="80.5" width="3.2" height="3.2" rx=".8"/>
<rect x="97.0" y="79.3" width="3.2" height="3.2" rx=".8"/>
<rect x="102.2" y="84.9" width="3.2" height="3.2" rx=".8"/>
<rect x="96.3" y="82.0" width="3.2" height="3.2" rx=".8"/>
<rect x="102.5" y="77.5" width="3.2" height="3.2" rx=".8"/>
<rect x="103.2" y="78.2" width="3.2" height="3.2" rx=".8"/>
<rect x="107.7" y="82.6" width="3.2" height="3.2" rx=".8"/>
<rect x="105.6" y="80.8" width="3.2" height="3.2" rx=".8"/>
<rect x="108.0" y="80.8" width="3.2" height="3.2" rx=".8"/>
<rect x="108.6" y="81.0" width="3.2" height="3.2" rx=".8"/>
<rect x="106.7" y="77.4" width="3.2" height="3.2" rx=".8"/>
<rect x="108.3" y="81.4" width="3.2" height="3.2" rx=".8"/>
<rect x="105.0" y="83.8" width="3.2" height="3.2" rx=".8"/>
<rect x="109.7" y="81.1" width="3.2" height="3.2" rx=".8"/>
<rect x="114.1" y="78.1" width="3.2" height="3.2" rx=".8"/>
<rect x="111.1" y="80.9" width="3.2" height="3.2" rx=".8"/>
<rect x="110.8" y="81.0" width="3.2" height="3.2" rx=".8"/>
<rect x="114.4" y="77.5" width="3.2" height="3.2" rx=".8"/>
<rect x="117.8" y="83.5" width="3.2" height="3.2" rx=".8"/>
<rect x="123.8" y="81.6" width="3.2" height="3.2" rx=".8"/>
<rect x="117.5" y="81.5" width="3.2" height="3.2" rx=".8"/>
<rect x="120.3" y="85.4" width="3.2" height="3.2" rx=".8"/>
<rect x="118.2" y="84.6" width="3.2" height="3.2" rx=".8"/>
<rect x="125.7" y="83.5" width="3.2" height="3.2" rx=".8"/>
<rect x="124.1" y="78.8" width="3.2" height="3.2" rx=".8"/>
<rect x="128.4" y="85.4" width="3.2" height="3.2" rx=".8"/>
<rect x="132.0" y="78.6" width="3.2" height="3.2" rx=".8"/>
<rect x="130.9" y="85.2" width="3.2" height="3.2" rx=".8"/>
<rect x="124.7" y="80.2" width="3.2" height="3.2" rx=".8"/>
<rect x="130.6" y="78.5" width="3.2" height="3.2" rx=".8"/>
<rect x="131.9" y="79.5" width="3.2" height="3.2" rx=".8"/>
<rect x="132.4" y="81.5" width="3.2" height="3.2" rx=".8"/>
<rect x="139.1" y="79.0" width="3.2" height="3.2" rx=".8"/>
<rect x="133.4" y="81.5" width="3.2" height="3.2" rx=".8"/>
<rect x="133.9" y="77.5" width="3.2" height="3.2" rx=".8"/>
<rect x="132.7" y="78.5" width="3.2" height="3.2" rx=".8"/>
<rect x="139.2" y="83.0" width="3.2" height="3.2" rx=".8"/>
<rect x="138.9" y="78.6" width="3.2" height="3.2" rx=".8"/>
<rect x="137.9" y="78.1" width="3.2" height="3.2" rx=".8"/>
<rect x="135.7" y="82.7" width="3.2" height="3.2" rx=".8"/>
<rect x="145.8" y="82.0" width="3.2" height="3.2" rx=".8"/>
<rect x="143.2" y="84.8" width="3.2" height="3.2" rx=".8"/>
<rect x="139.1" y="85.7" width="3.2" height="3.2" rx=".8"/>
<rect x="143.6" y="80.6" width="3.2" height="3.2" rx=".8"/>
<rect x="145.1" y="79.4" width="3.2" height="3.2" rx=".8"/>
<rect x="146.8" y="82.1" width="3.2" height="3.2" rx=".8"/>
<rect x="141.3" y="83.8" width="3.2" height="3.2" rx=".8"/>
<rect x="142.0" y="78.7" width="3.2" height="3.2" rx=".8"/>
<rect x="144.6" y="77.6" width="3.2" height="3.2" rx=".8"/>
<rect x="147.4" y="82.7" width="3.2" height="3.2" rx=".8"/>
<rect x="153.8" y="82.2" width="3.2" height="3.2" rx=".8"/>
<rect x="151.0" y="79.9" width="3.2" height="3.2" rx=".8"/>
<rect x="145.3" y="77.4" width="3.2" height="3.2" rx=".8"/>
<rect x="66.0" y="87.9" width="3.2" height="3.2" rx=".8"/>
<rect x="65.1" y="91.9" width="3.2" height="3.2" rx=".8"/>
<rect x="61.8" y="86.2" width="3.2" height="3.2" rx=".8"/>
<rect x="66.3" y="84.4" width="3.2" height="3.2" rx=".8"/>
<rect x="70.8" y="85.1" width="3.2" height="3.2" rx=".8"/>
<rect x="70.8" y="86.1" width="3.2" height="3.2" rx=".8"/>
<rect x="79.8" y="86.0" width="3.2" height="3.2" rx=".8"/>
<rect x="80.1" y="88.3" width="3.2" height="3.2" rx=".8"/>
<rect x="75.9" y="92.3" width="3.2" height="3.2" rx=".8"/>
<rect x="76.9" y="85.5" width="3.2" height="3.2" rx=".8"/>
<rect x="87.3" y="91.7" width="3.2" height="3.2" rx=".8"/>
<rect x="92.3" y="86.5" width="3.2" height="3.2" rx=".8"/>
<rect x="88.9" y="89.8" width="3.2" height="3.2" rx=".8"/>
<rect x="93.7" y="87.2" width="3.2" height="3.2" rx=".8"/>
<rect x="94.4" y="88.0" width="3.2" height="3.2" rx=".8"/>
<rect x="97.0" y="90.5" width="3.2" height="3.2" rx=".8"/>
<rect x="91.0" y="92.0" width="3.2" height="3.2" rx=".8"/>
<rect x="89.2" y="88.8" width="3.2" height="3.2" rx=".8"/>
<rect x="98.0" y="84.7" width="3.2" height="3.2" rx=".8"/>
<rect x="102.6" y="84.3" width="3.2" height="3.2" rx=".8"/>
<rect x="100.7" y="92.3" width="3.2" height="3.2" rx=".8"/>
<rect x="97.1" y="85.9" width="3.2" height="3.2" rx=".8"/>
<rect x="101.2" y="88.6" width="3.2" height="3.2" rx=".8"/>
<rect x="101.4" y="91.2" width="3.2" height="3.2" rx=".8"/>
<rect x="97.4" y="86.9" width="3.2" height="3.2" rx=".8"/>
<rect x="98.5" y="84.6" width="3.2" height="3.2" rx=".8"/>
<rect x="103.6" y="91.0" width="3.2" height="3.2" rx=".8"/>
<rect x="103.0" y="91.5" width="3.2" height="3.2" rx=".8"/>
<rect x="109.4" y="88.2" width="3.2" height="3.2" rx=".8"/>
<rect x="109.4" y="88.1" width="3.2" height="3.2" rx=".8"/>
<rect x="104.9" y="85.1" width="3.2" height="3.2" rx=".8"/>
<rect x="105.0" y="84.5" width="3.2" height="3.2" rx=".8"/>
<rect x="105.9" y="90.7" width="3.2" height="3.2" rx=".8"/>
<rect x="109.0" y="91.5" width="3.2" height="3.2" rx=".8"/>
<rect x="109.1" y="86.5" width="3.2" height="3.2" rx=".8"/>
<rect x="107.7" y="88.0" width="3.2" height="3.2" rx=".8"/>
<rect x="109.8" y="88.7" width="3.2" height="3.2" rx=".8"/>
<rect x="105.2" y="89.8" width="3.2" height="3.2" rx=".8"/>
<rect x="111.3" y="86.1" width="3.2" height="3.2" rx=".8"/>
<rect x="110.1" y="86.5" width="3.2" height="3.2" rx=".8"/>
<rect x="112.0" y="90.6" width="3.2" height="3.2" rx=".8"/>
<rect x="118.2" y="90.7" width="3.2" height="3.2" rx=".8"/>
<rect x="112.8" y="91.8" width="3.2" height="3.2" rx=".8"/>
<rect x="112.8" y="86.3" width="3.2" height="3.2" rx=".8"/>
<rect x="117.9" y="89.7" width="3.2" height="3.2" rx=".8"/>
<rect x="116.0" y="90.0" width="3.2" height="3.2" rx=".8"/>
<rect x="118.5" y="88.3" width="3.2" height="3.2" rx=".8"/>
<rect x="117.3" y="90.2" width="3.2" height="3.2" rx=".8"/>
<rect x="117.4" y="88.0" width="3.2" height="3.2" rx=".8"/>
<rect x="116.3" y="89.1" width="3.2" height="3.2" rx=".8"/>
<rect x="112.7" y="86.0" width="3.2" height="3.2" rx=".8"/>
<rect x="115.4" y="84.9" width="3.2" height="3.2" rx=".8"/>
<rect x="117.9" y="85.5" width="3.2" height="3.2" rx=".8"/>
<rect x="118.0" y="92.2" width="3.2" height="3.2" rx=".8"/>
<rect x="120.0" y="85.4" width="3.2" height="3.2" rx=".8"/>
<rect x="117.3" y="84.6" width="3.2" height="3.2" rx=".8"/>
<rect x="123.0" y="89.7" width="3.2" height="3.2" rx=".8"/>
<rect x="123.1" y="90.6" width="3.2" height="3.2" rx=".8"/>
<rect x="117.6" y="89.3" width="3.2" height="3.2" rx=".8"/>
<rect x="120.2" y="91.3" width="3.2" height="3.2" rx=".8"/>
<rect x="124.1" y="91.9" width="3.2" height="3.2" rx=".8"/>
<rect x="117.6" y="91.7" width="3.2" height="3.2" rx=".8"/>
<rect x="125.0" y="92.4" width="3.2" height="3.2" rx=".8"/>
<rect x="125.9" y="85.2" width="3.2" height="3.2" rx=".8"/>
<rect x="124.4" y="91.5" width="3.2" height="3.2" rx=".8"/>
<rect x="131.1" y="89.7" width="3.2" height="3.2" rx=".8"/>
<rect x="131.2" y="89.7" width="3.2" height="3.2" rx=".8"/>
<rect x="60.2" y="93.0" width="3.2" height="3.2" rx=".8"/>
<rect x="64.3" y="91.4" width="3.2" height="3.2" rx=".8"/>
<rect x="70.1" y="97.4" width="3.2" height="3.2" rx=".8"/>
<rect x="70.9" y="94.0" width="3.2" height="3.2" rx=".8"/>
<rect x="93.2" y="98.6" width="3.2" height="3.2" rx=".8"/>
<rect x="94.2" y="91.5" width="3.2" height="3.2" rx=".8"/>
<rect x="99.7" y="97.9" width="3.2" height="3.2" rx=".8"/>
<rect x="98.9" y="97.3" width="3.2" height="3.2" rx=".8"/>
<rect x="100.6" y="93.1" width="3.2" height="3.2" rx=".8"/>
<rect x="103.4" y="92.0" width="3.2" height="3.2" rx=".8"/>
<rect x="103.0" y="92.7" width="3.2" height="3.2" rx=".8"/>
<rect x="95.9" y="93.0" width="3.2" height="3.2" rx=".8"/>
<rect x="102.5" y="99.7" width="3.2" height="3.2" rx=".8"/>
<rect x="95.9" y="95.5" width="3.2" height="3.2" rx=".8"/>
<rect x="100.2" y="98.1" width="3.2" height="3.2" rx=".8"/>
<rect x="107.2" y="94.3" width="3.2" height="3.2" rx=".8"/>
<rect x="110.1" y="93.5" width="3.2" height="3.2" rx=".8"/>
<rect x="111.1" y="93.7" width="3.2" height="3.2" rx=".8"/>
<rect x="104.8" y="97.3" width="3.2" height="3.2" rx=".8"/>
<rect x="107.3" y="92.2" width="3.2" height="3.2" rx=".8"/>
<rect x="108.5" y="91.9" width="3.2" height="3.2" rx=".8"/>
<rect x="109.8" y="97.3" width="3.2" height="3.2" rx=".8"/>
<rect x="115.4" y="94.3" width="3.2" height="3.2" rx=".8"/>
<rect x="113.5" y="94.7" width="3.2" height="3.2" rx=".8"/>
<rect x="117.7" y="92.0" width="3.2" height="3.2" rx=".8"/>
<rect x="117.7" y="91.5" width="3.2" height="3.2" rx=".8"/>
<rect x="111.8" y="93.5" width="3.2" height="3.2" rx=".8"/>
<rect x="117.8" y="95.6" width="3.2" height="3.2" rx=".8"/>
<rect x="113.3" y="98.9" width="3.2" height="3.2" rx=".8"/>
<rect x="112.0" y="95.2" width="3.2" height="3.2" rx=".8"/>
<rect x="114.6" y="97.8" width="3.2" height="3.2" rx=".8"/>
<rect x="116.5" y="96.8" width="3.2" height="3.2" rx=".8"/>
<rect x="113.0" y="94.1" width="3.2" height="3.2" rx=".8"/>
<rect x="111.3" y="98.5" width="3.2" height="3.2" rx=".8"/>
<rect x="115.7" y="97.7" width="3.2" height="3.2" rx=".8"/>
<rect x="111.5" y="95.0" width="3.2" height="3.2" rx=".8"/>
<rect x="116.7" y="96.3" width="3.2" height="3.2" rx=".8"/>
<rect x="111.1" y="95.2" width="3.2" height="3.2" rx=".8"/>
<rect x="117.7" y="93.3" width="3.2" height="3.2" rx=".8"/>
<rect x="119.7" y="97.3" width="3.2" height="3.2" rx=".8"/>
<rect x="124.3" y="92.6" width="3.2" height="3.2" rx=".8"/>
<rect x="118.4" y="93.4" width="3.2" height="3.2" rx=".8"/>
<rect x="119.9" y="95.8" width="3.2" height="3.2" rx=".8"/>
<rect x="126.9" y="92.9" width="3.2" height="3.2" rx=".8"/>
<rect x="132.5" y="97.6" width="3.2" height="3.2" rx=".8"/>
<rect x="97.2" y="99.2" width="3.2" height="3.2" rx=".8"/>
<rect x="104.4" y="105.2" width="3.2" height="3.2" rx=".8"/>
<rect x="102.2" y="102.1" width="3.2" height="3.2" rx=".8"/>
<rect x="115.5" y="99.2" width="3.2" height="3.2" rx=".8"/>
<rect x="111.8" y="101.7" width="3.2" height="3.2" rx=".8"/>
<rect x="110.3" y="101.8" width="3.2" height="3.2" rx=".8"/>
<rect x="116.8" y="104.3" width="3.2" height="3.2" rx=".8"/>
<rect x="114.3" y="103.8" width="3.2" height="3.2" rx=".8"/>
<rect x="118.3" y="103.5" width="3.2" height="3.2" rx=".8"/>
<rect x="120.6" y="104.7" width="3.2" height="3.2" rx=".8"/>
<rect x="139.4" y="192.7" width="3.2" height="3.2" rx=".8"/>
<rect x="129.5" y="187.8" width="3.2" height="3.2" rx=".8"/>
<rect x="133.0" y="196.0" width="3.2" height="3.2" rx=".8"/>
<rect x="134.2" y="181.6" width="3.2" height="3.2" rx=".8"/>
<rect x="136.7" y="185.6" width="3.2" height="3.2" rx=".8"/>
<rect x="139.5" y="188.8" width="3.2" height="3.2" rx=".8"/>
<rect x="132.8" y="188.4" width="3.2" height="3.2" rx=".8"/>
<rect x="133.4" y="202.2" width="3.2" height="3.2" rx=".8"/>
<rect x="139.3" y="200.1" width="3.2" height="3.2" rx=".8"/>
<rect x="137.0" y="185.7" width="3.2" height="3.2" rx=".8"/>
<rect x="133.5" y="190.6" width="3.2" height="3.2" rx=".8"/>
<rect x="131.6" y="196.5" width="3.2" height="3.2" rx=".8"/>
<rect x="132.6" y="189.2" width="3.2" height="3.2" rx=".8"/>
<rect x="131.3" y="180.3" width="3.2" height="3.2" rx=".8"/>
<rect x="138.2" y="204.2" width="3.2" height="3.2" rx=".8"/>
<rect x="136.4" y="189.0" width="3.2" height="3.2" rx=".8"/>
<rect x="124.3" y="191.6" width="3.2" height="3.2" rx=".8"/>
<rect x="140.8" y="198.7" width="3.2" height="3.2" rx=".8"/>
<rect x="139.6" y="205.7" width="3.2" height="3.2" rx=".8"/>
<rect x="140.4" y="194.0" width="3.2" height="3.2" rx=".8"/>
<rect x="140.1" y="201.5" width="3.2" height="3.2" rx=".8"/>
<rect x="129.2" y="189.9" width="3.2" height="3.2" rx=".8"/>
<rect x="129.7" y="191.9" width="3.2" height="3.2" rx=".8"/>
<rect x="138.1" y="189.1" width="3.2" height="3.2" rx=".8"/>
<rect x="127.1" y="199.7" width="3.2" height="3.2" rx=".8"/>
<rect x="137.3" y="204.8" width="3.2" height="3.2" rx=".8"/>
<rect x="130.1" y="199.4" width="3.2" height="3.2" rx=".8"/>
<rect x="144.4" y="210.9" width="3.2" height="3.2" rx=".8"/>
<rect x="134.8" y="196.3" width="3.2" height="3.2" rx=".8"/>
<rect x="135.1" y="200.9" width="3.2" height="3.2" rx=".8"/>
<rect x="140.1" y="197.1" width="3.2" height="3.2" rx=".8"/>
<rect x="130.0" y="197.4" width="3.2" height="3.2" rx=".8"/>
<rect x="133.7" y="198.1" width="3.2" height="3.2" rx=".8"/>
<rect x="136.8" y="205.5" width="3.2" height="3.2" rx=".8"/>
<rect x="140.5" y="193.9" width="3.2" height="3.2" rx=".8"/>
<rect x="137.2" y="206.6" width="3.2" height="3.2" rx=".8"/>
<rect x="133.4" y="196.8" width="3.2" height="3.2" rx=".8"/>
<rect x="140.7" y="204.7" width="3.2" height="3.2" rx=".8"/>
<rect x="137.9" y="187.4" width="3.2" height="3.2" rx=".8"/>
<rect x="130.4" y="194.4" width="3.2" height="3.2" rx=".8"/>
<rect x="137.3" y="211.6" width="3.2" height="3.2" rx=".8"/>
<rect x="132.1" y="200.7" width="3.2" height="3.2" rx=".8"/>
<rect x="138.9" y="185.6" width="3.2" height="3.2" rx=".8"/>
<rect x="132.3" y="194.6" width="3.2" height="3.2" rx=".8"/>
<rect x="133.6" y="193.1" width="3.2" height="3.2" rx=".8"/>
<rect x="137.7" y="190.6" width="3.2" height="3.2" rx=".8"/>
<rect x="137.7" y="191.7" width="3.2" height="3.2" rx=".8"/>
<rect x="133.4" y="197.4" width="3.2" height="3.2" rx=".8"/>
<rect x="133.3" y="195.8" width="3.2" height="3.2" rx=".8"/>
<rect x="142.4" y="197.7" width="3.2" height="3.2" rx=".8"/>
<rect x="135.1" y="199.3" width="3.2" height="3.2" rx=".8"/>
<rect x="134.2" y="201.1" width="3.2" height="3.2" rx=".8"/>
<rect x="130.3" y="196.7" width="3.2" height="3.2" rx=".8"/>
<rect x="133.5" y="189.0" width="3.2" height="3.2" rx=".8"/>
<rect x="143.1" y="192.4" width="3.2" height="3.2" rx=".8"/>
<rect x="143.1" y="201.9" width="3.2" height="3.2" rx=".8"/>
<rect x="141.8" y="191.1" width="3.2" height="3.2" rx=".8"/>
<rect x="140.7" y="206.0" width="3.2" height="3.2" rx=".8"/>
<rect x="135.2" y="193.9" width="3.2" height="3.2" rx=".8"/>
<rect x="146.0" y="200.0" width="3.2" height="3.2" rx=".8"/>
<rect x="133.9" y="190.2" width="3.2" height="3.2" rx=".8"/>
<rect x="137.6" y="197.7" width="3.2" height="3.2" rx=".8"/>
<rect x="136.4" y="206.0" width="3.2" height="3.2" rx=".8"/>
<rect x="134.3" y="197.3" width="3.2" height="3.2" rx=".8"/>
<rect x="141.8" y="191.0" width="3.2" height="3.2" rx=".8"/>
<rect x="140.1" y="208.1" width="3.2" height="3.2" rx=".8"/>
<rect x="130.0" y="185.8" width="3.2" height="3.2" rx=".8"/>
<rect x="131.3" y="181.6" width="3.2" height="3.2" rx=".8"/>
<rect x="137.6" y="184.0" width="3.2" height="3.2" rx=".8"/>
<rect x="137.8" y="204.9" width="3.2" height="3.2" rx=".8"/>
<rect x="128.9" y="190.3" width="3.2" height="3.2" rx=".8"/>
<rect x="127.6" y="196.7" width="3.2" height="3.2" rx=".8"/>
<rect x="132.6" y="192.0" width="3.2" height="3.2" rx=".8"/>
<rect x="135.9" y="198.4" width="3.2" height="3.2" rx=".8"/>
<rect x="134.2" y="194.4" width="3.2" height="3.2" rx=".8"/>
<rect x="133.4" y="194.7" width="3.2" height="3.2" rx=".8"/>
<rect x="130.8" y="193.4" width="3.2" height="3.2" rx=".8"/>
<rect x="127.6" y="188.7" width="3.2" height="3.2" rx=".8"/>
<rect x="143.7" y="198.5" width="3.2" height="3.2" rx=".8"/>
<rect x="130.4" y="194.5" width="3.2" height="3.2" rx=".8"/>
<rect x="131.6" y="182.9" width="3.2" height="3.2" rx=".8"/>
<rect x="132.6" y="198.3" width="3.2" height="3.2" rx=".8"/>
<rect x="137.3" y="194.9" width="3.2" height="3.2" rx=".8"/>
<rect x="131.8" y="186.6" width="3.2" height="3.2" rx=".8"/>
<rect x="141.4" y="198.6" width="3.2" height="3.2" rx=".8"/>
<rect x="131.7" y="180.1" width="3.2" height="3.2" rx=".8"/>
<rect x="129.9" y="208.3" width="3.2" height="3.2" rx=".8"/>
<rect x="130.9" y="192.5" width="3.2" height="3.2" rx=".8"/>
<rect x="136.6" y="194.2" width="3.2" height="3.2" rx=".8"/>
<rect x="134.5" y="185.8" width="3.2" height="3.2" rx=".8"/>
<rect x="131.3" y="203.8" width="3.2" height="3.2" rx=".8"/>
<rect x="132.5" y="199.0" width="3.2" height="3.2" rx=".8"/>
<rect x="128.6" y="190.4" width="3.2" height="3.2" rx=".8"/>
<rect x="136.8" y="201.8" width="3.2" height="3.2" rx=".8"/>
<rect x="131.0" y="196.8" width="3.2" height="3.2" rx=".8"/>
<rect x="137.3" y="190.9" width="3.2" height="3.2" rx=".8"/>
<rect x="137.7" y="190.0" width="3.2" height="3.2" rx=".8"/>
<rect x="132.4" y="193.5" width="3.2" height="3.2" rx=".8"/>
<rect x="124.3" y="189.8" width="3.2" height="3.2" rx=".8"/>
<rect x="131.5" y="184.1" width="3.2" height="3.2" rx=".8"/>
<rect x="133.9" y="199.0" width="3.2" height="3.2" rx=".8"/>
<rect x="134.0" y="202.2" width="3.2" height="3.2" rx=".8"/>
<rect x="130.8" y="184.8" width="3.2" height="3.2" rx=".8"/>
<rect x="142.2" y="199.9" width="3.2" height="3.2" rx=".8"/>
<rect x="139.7" y="191.2" width="3.2" height="3.2" rx=".8"/>
<rect x="139.1" y="197.8" width="3.2" height="3.2" rx=".8"/>
<rect x="138.4" y="196.1" width="3.2" height="3.2" rx=".8"/>
<rect x="140.8" y="192.8" width="3.2" height="3.2" rx=".8"/>
<rect x="131.7" y="184.0" width="3.2" height="3.2" rx=".8"/>
<rect x="140.6" y="192.1" width="3.2" height="3.2" rx=".8"/>
<rect x="131.3" y="187.3" width="3.2" height="3.2" rx=".8"/>
<rect x="133.8" y="186.2" width="3.2" height="3.2" rx=".8"/>
<rect x="134.5" y="190.5" width="3.2" height="3.2" rx=".8"/>
<rect x="133.4" y="188.0" width="3.2" height="3.2" rx=".8"/>
<rect x="135.9" y="192.1" width="3.2" height="3.2" rx=".8"/>
<rect x="136.2" y="196.7" width="3.2" height="3.2" rx=".8"/>
<rect x="137.1" y="181.7" width="3.2" height="3.2" rx=".8"/>
<rect x="133.5" y="189.0" width="3.2" height="3.2" rx=".8"/>
<rect x="139.0" y="186.2" width="3.2" height="3.2" rx=".8"/>
<rect x="132.7" y="191.9" width="3.2" height="3.2" rx=".8"/>
<rect x="130.1" y="187.5" width="3.2" height="3.2" rx=".8"/>
<rect x="129.5" y="187.4" width="3.2" height="3.2" rx=".8"/>
<rect x="123.8" y="180.2" width="3.2" height="3.2" rx=".8"/>
<rect x="138.6" y="186.0" width="3.2" height="3.2" rx=".8"/>
<rect x="134.6" y="185.2" width="3.2" height="3.2" rx=".8"/>
<rect x="134.6" y="181.7" width="3.2" height="3.2" rx=".8"/>
<rect x="137.1" y="183.5" width="3.2" height="3.2" rx=".8"/>
<rect x="137.3" y="185.1" width="3.2" height="3.2" rx=".8"/>
<rect x="121.0" y="181.6" width="3.2" height="3.2" rx=".8"/>
<rect x="138.1" y="184.5" width="3.2" height="3.2" rx=".8"/>
<rect x="129.7" y="185.5" width="3.2" height="3.2" rx=".8"/>
<rect x="129.6" y="183.5" width="3.2" height="3.2" rx=".8"/>
<rect x="132.5" y="185.3" width="3.2" height="3.2" rx=".8"/>
<rect x="140.2" y="185.0" width="3.2" height="3.2" rx=".8"/>
<rect x="142.2" y="189.6" width="3.2" height="3.2" rx=".8"/>
<rect x="141.3" y="187.7" width="3.2" height="3.2" rx=".8"/>
<rect x="132.6" y="185.3" width="3.2" height="3.2" rx=".8"/>
<rect x="131.1" y="183.0" width="3.2" height="3.2" rx=".8"/>
<rect x="131.5" y="183.2" width="3.2" height="3.2" rx=".8"/>
<rect x="140.9" y="186.3" width="3.2" height="3.2" rx=".8"/>
<rect x="129.4" y="179.9" width="3.2" height="3.2" rx=".8"/>
<rect x="131.6" y="183.8" width="3.2" height="3.2" rx=".8"/>
<rect x="125.9" y="181.9" width="3.2" height="3.2" rx=".8"/>
<rect x="119.5" y="186.4" width="3.2" height="3.2" rx=".8"/>
<rect x="131.5" y="191.6" width="3.2" height="3.2" rx=".8"/>
<rect x="131.7" y="184.5" width="3.2" height="3.2" rx=".8"/>
<rect x="139.8" y="185.2" width="3.2" height="3.2" rx=".8"/>
<rect x="132.8" y="183.9" width="3.2" height="3.2" rx=".8"/>
<rect x="128.6" y="188.8" width="3.2" height="3.2" rx=".8"/>
<rect x="137.4" y="189.4" width="3.2" height="3.2" rx=".8"/>
<rect x="130.0" y="185.0" width="3.2" height="3.2" rx=".8"/>
<rect x="127.1" y="187.4" width="3.2" height="3.2" rx=".8"/>
<rect x="124.2" y="186.4" width="3.2" height="3.2" rx=".8"/>
<rect x="137.9" y="188.6" width="3.2" height="3.2" rx=".8"/>
<rect x="126.7" y="187.7" width="3.2" height="3.2" rx=".8"/>
<rect x="128.0" y="182.9" width="3.2" height="3.2" rx=".8"/>
<rect x="124.6" y="187.9" width="3.2" height="3.2" rx=".8"/>
<rect x="141.0" y="183.4" width="3.2" height="3.2" rx=".8"/>
<rect x="127.7" y="184.0" width="3.2" height="3.2" rx=".8"/>
<rect x="145.7" y="187.5" width="3.2" height="3.2" rx=".8"/>
<rect x="149.4" y="197.7" width="3.2" height="3.2" rx=".8"/>
<rect x="146.2" y="195.5" width="3.2" height="3.2" rx=".8"/>
<rect x="151.7" y="197.7" width="3.2" height="3.2" rx=".8"/>
<rect x="148.5" y="192.5" width="3.2" height="3.2" rx=".8"/>
<rect x="147.0" y="198.3" width="3.2" height="3.2" rx=".8"/>
<rect x="146.6" y="196.2" width="3.2" height="3.2" rx=".8"/>
<rect x="148.5" y="198.4" width="3.2" height="3.2" rx=".8"/>
<rect x="150.3" y="192.2" width="3.2" height="3.2" rx=".8"/>
<rect x="143.4" y="192.0" width="3.2" height="3.2" rx=".8"/>
<rect x="88.6" y="109.1" width="2.8" height="2.8" rx=".8"/>
<rect x="91.1" y="110.6" width="2.8" height="2.8" rx=".8"/>
<rect x="94.1" y="109.1" width="2.8" height="2.8" rx=".8"/>
<rect x="91.6" y="107.6" width="2.8" height="2.8" rx=".8"/>
<rect x="99.2" y="103.6" width="2.8" height="2.8" rx=".8"/>
<rect x="98.6" y="106.6" width="2.8" height="2.8" rx=".8"/>
<rect x="110.6" y="115.6" width="2.8" height="2.8" rx=".8"/>
<rect x="94.6" y="120.1" width="2.8" height="2.8" rx=".8"/>
<rect x="97.6" y="123.6" width="2.8" height="2.8" rx=".8"/>
<rect x="95.6" y="122.6" width="2.8" height="2.8" rx=".8"/>
<rect x="114.6" y="102.6" width="2.8" height="2.8" rx=".8"/>
<rect x="116.6" y="105.1" width="2.8" height="2.8" rx=".8"/>
<rect x="118.6" y="103.6" width="2.8" height="2.8" rx=".8"/>
<rect x="120.6" y="106.6" width="2.8" height="2.8" rx=".8"/>
<rect x="117.6" y="107.6" width="2.8" height="2.8" rx=".8"/>
<rect x="121.6" y="104.1" width="2.8" height="2.8" rx=".8"/>
<rect x="122.0" y="127.6" width="2.8" height="2.8" rx=".8"/>
<rect x="126.8" y="127.6" width="2.8" height="2.8" rx=".8"/>
<rect x="106.8" y="139.5" width="2.8" height="2.8" rx=".8"/>
<rect x="93.6" y="150.1" width="2.8" height="2.8" rx=".8"/>
<rect x="94.6" y="150.6" width="2.8" height="2.8" rx=".8"/>
<rect x="103.4" y="148.6" width="2.8" height="2.8" rx=".8"/>
<rect x="103.4" y="151.0" width="2.8" height="2.8" rx=".8"/>
<rect x="90.1" y="160.7" width="2.8" height="2.8" rx=".8"/>
<rect x="93.1" y="159.6" width="2.8" height="2.8" rx=".8"/>
<rect x="92.5" y="165.4" width="2.8" height="2.8" rx=".8"/>
<rect x="94.3" y="166.0" width="2.8" height="2.8" rx=".8"/>
<rect x="98.4" y="169.6" width="2.8" height="2.8" rx=".8"/>
<rect x="102.0" y="167.8" width="2.8" height="2.8" rx=".8"/>
<rect x="102.6" y="165.4" width="2.8" height="2.8" rx=".8"/>
<rect x="105.6" y="166.6" width="2.8" height="2.8" rx=".8"/>
<rect x="109.1" y="166.0" width="2.8" height="2.8" rx=".8"/>
<rect x="107.3" y="169.0" width="2.8" height="2.8" rx=".8"/>
<rect x="110.3" y="170.2" width="2.8" height="2.8" rx=".8"/>
<rect x="110.3" y="173.1" width="2.8" height="2.8" rx=".8"/>
<rect x="115.0" y="167.8" width="2.8" height="2.8" rx=".8"/>
<rect x="117.4" y="165.4" width="2.8" height="2.8" rx=".8"/>
<rect x="119.1" y="166.6" width="2.8" height="2.8" rx=".8"/>
<rect x="114.4" y="172.6" width="2.8" height="2.8" rx=".8"/>
<rect x="116.8" y="174.3" width="2.8" height="2.8" rx=".8"/>
<rect x="119.1" y="173.1" width="2.8" height="2.8" rx=".8"/>
<rect x="121.5" y="170.2" width="2.8" height="2.8" rx=".8"/>
<rect x="123.9" y="171.4" width="2.8" height="2.8" rx=".8"/>
<rect x="125.6" y="172.6" width="2.8" height="2.8" rx=".8"/>
<rect x="124.5" y="174.9" width="2.8" height="2.8" rx=".8"/>
<rect x="121.5" y="176.7" width="2.8" height="2.8" rx=".8"/>
<rect x="128.6" y="175.5" width="2.8" height="2.8" rx=".8"/>
<rect x="130.4" y="174.3" width="2.8" height="2.8" rx=".8"/>
<rect x="131.6" y="171.4" width="2.8" height="2.8" rx=".8"/>
<rect x="128.6" y="177.9" width="2.8" height="2.8" rx=".8"/>
<rect x="124.5" y="158.9" width="2.8" height="2.8" rx=".8"/>
<rect x="125.1" y="160.7" width="2.8" height="2.8" rx=".8"/>
<rect x="128.0" y="162.5" width="2.8" height="2.8" rx=".8"/>
<rect x="128.6" y="165.4" width="2.8" height="2.8" rx=".8"/>
<rect x="101.4" y="177.9" width="2.8" height="2.8" rx=".8"/>
<rect x="100.8" y="179.1" width="2.8" height="2.8" rx=".8"/>
<rect x="102.6" y="183.8" width="2.8" height="2.8" rx=".8"/>
<rect x="104.3" y="185.6" width="2.8" height="2.8" rx=".8"/>
<rect x="109.1" y="183.8" width="2.8" height="2.8" rx=".8"/>
<rect x="110.3" y="183.2" width="2.8" height="2.8" rx=".8"/>
<rect x="115.0" y="185.0" width="2.8" height="2.8" rx=".8"/>
<rect x="116.2" y="183.8" width="2.8" height="2.8" rx=".8"/>
<rect x="114.0" y="196.5" width="2.8" height="2.8" rx=".8"/>
<rect x="119.3" y="193.0" width="2.8" height="2.8" rx=".8"/>
<rect x="121.1" y="193.6" width="2.8" height="2.8" rx=".8"/>
<rect x="126.4" y="202.4" width="2.8" height="2.8" rx=".8"/>
<rect x="126.4" y="204.2" width="2.8" height="2.8" rx=".8"/>
<rect x="122.3" y="188.8" width="2.8" height="2.8" rx=".8"/>
<rect x="124.1" y="190.0" width="2.8" height="2.8" rx=".8"/>
<rect x="99.8" y="199.5" width="2.8" height="2.8" rx=".8"/>
<rect x="99.2" y="206.6" width="2.8" height="2.8" rx=".8"/>
<rect x="134.4" y="210.6" width="2.8" height="2.8" rx=".8"/>
<rect x="136.1" y="214.1" width="2.8" height="2.8" rx=".8"/>
<rect x="98.8" y="198.8" width="2.8" height="2.8" rx=".8"/>
<rect x="99.7" y="201.9" width="2.8" height="2.8" rx=".8"/>
<rect x="96.1" y="205.0" width="2.8" height="2.8" rx=".8"/>
<rect x="97.6" y="206.5" width="2.8" height="2.8" rx=".8"/>
<rect x="115.2" y="230.7" width="2.8" height="2.8" rx=".8"/>
<rect x="106.5" y="240.1" width="2.8" height="2.8" rx=".8"/>
<rect x="109.6" y="241.4" width="2.8" height="2.8" rx=".8"/>
<rect x="110.0" y="245.0" width="2.8" height="2.8" rx=".8"/>
<rect x="111.3" y="271.2" width="2.8" height="2.8" rx=".8"/>
<rect x="109.2" y="273.9" width="2.8" height="2.8" rx=".8"/>
<rect x="85.1" y="276.0" width="2.8" height="2.8" rx=".8"/>
<rect x="95.7" y="280.1" width="2.8" height="2.8" rx=".8"/>
<rect x="94.7" y="283.0" width="2.8" height="2.8" rx=".8"/>
<rect x="136.2" y="277.4" width="2.8" height="2.8" rx=".8"/>
<rect x="81.2" y="286.4" width="2.8" height="2.8" rx=".8"/>
<rect x="83.3" y="288.4" width="2.8" height="2.8" rx=".8"/>
<rect x="99.7" y="292.0" width="2.8" height="2.8" rx=".8"/>
<rect x="108.0" y="291.3" width="2.8" height="2.8" rx=".8"/>
<rect x="109.6" y="292.8" width="2.8" height="2.8" rx=".8"/>
<rect x="122.1" y="291.3" width="2.8" height="2.8" rx=".8"/>
<rect x="129.3" y="289.9" width="2.8" height="2.8" rx=".8"/>
<rect x="68.1" y="291.8" width="2.8" height="2.8" rx=".8"/>
<rect x="71.1" y="290.6" width="2.8" height="2.8" rx=".8"/>
<rect x="227.0" y="111.6" width="2.8" height="2.8" rx=".8"/>
<rect x="217.4" y="126.7" width="2.8" height="2.8" rx=".8"/>
<rect x="218.1" y="139.1" width="2.8" height="2.8" rx=".8"/>
<rect x="221.1" y="140.6" width="2.8" height="2.8" rx=".8"/>
<rect x="224.1" y="139.4" width="2.8" height="2.8" rx=".8"/>
<rect x="219.6" y="143.1" width="2.8" height="2.8" rx=".8"/>
<rect x="223.1" y="144.1" width="2.8" height="2.8" rx=".8"/>
<rect x="226.1" y="145.1" width="2.8" height="2.8" rx=".8"/>
<rect x="227.1" y="141.8" width="2.8" height="2.8" rx=".8"/>
<rect x="221.6" y="146.4" width="2.8" height="2.8" rx=".8"/>
<rect x="225.1" y="153.2" width="2.8" height="2.8" rx=".8"/>
<rect x="228.6" y="152.2" width="2.8" height="2.8" rx=".8"/>
<rect x="229.6" y="156.1" width="2.8" height="2.8" rx=".8"/>
<rect x="234.1" y="159.1" width="2.8" height="2.8" rx=".8"/>
<rect x="236.4" y="163.0" width="2.8" height="2.8" rx=".8"/>
<rect x="229.6" y="169.8" width="2.8" height="2.8" rx=".8"/>
<rect x="231.6" y="170.8" width="2.8" height="2.8" rx=".8"/>
<rect x="241.3" y="172.8" width="2.8" height="2.8" rx=".8"/>
<rect x="292.9" y="47.9" width="2.8" height="2.8" rx=".8"/>
<rect x="294.1" y="46.8" width="2.8" height="2.8" rx=".8"/>
<rect x="304.8" y="51.6" width="2.8" height="2.8" rx=".8"/>
<rect x="283.9" y="66.0" width="2.8" height="2.8" rx=".8"/>
<rect x="285.8" y="65.6" width="2.8" height="2.8" rx=".8"/>
<rect x="307.4" y="73.3" width="2.8" height="2.8" rx=".8"/>
<rect x="231.7" y="264.9" width="2.8" height="2.8" rx=".8"/>
<path d="M88.3 133.0L89.8 135.6L86.8 135.6Z"/>
<path d="M176.7 107.9L178.1 110.5L175.2 110.5Z"/>
<path d="M94.0 145.4L95.5 148.0L92.5 148.0Z"/>
<path d="M114.1 228.2L115.5 230.8L112.6 230.8Z"/>
<path d="M118.8 229.2L120.2 231.8L117.3 231.8Z"/>
<path d="M95.9 243.9L97.4 246.5L94.5 246.5Z"/>
<path d="M94.4 247.0L95.9 249.6L93.0 249.6Z"/>
<path d="M95.9 249.5L97.4 252.1L94.5 252.1Z"/>
<path d="M80.3 249.5L81.8 252.1L78.8 252.1Z"/>
<path d="M83.5 249.7L85.0 252.3L82.0 252.3Z"/>
<path d="M128.7 277.2L130.1 279.8L127.2 279.8Z"/>
<path d="M131.8 279.3L133.2 281.9L130.4 281.9Z"/>
<path d="M59.6 280.8L61.1 283.4L58.1 283.4Z"/>
<path d="M62.9 280.3L64.3 282.9L61.4 282.9Z"/>
<path d="M65.0 287.6L66.5 290.2L63.5 290.2Z"/>
<path d="M69.9 285.1L71.4 287.7L68.5 287.7Z"/>
<path d="M70.6 288.6L72.0 291.2L69.1 291.2Z"/>
<path d="M66.0 291.7L67.5 294.3L64.5 294.3Z"/>
<path d="M73.5 292.0L75.0 294.6L72.0 294.6Z"/>
<path d="M257.8 120.6L259.2 123.2L256.4 123.2Z"/>
<path d="M259.8 128.4L261.2 131.0L258.4 131.0Z"/>
<path d="M244.9 137.9L246.3 140.5L243.5 140.5Z"/>
<path d="M250.0 139.6L251.4 142.2L248.6 142.2Z"/>
<path d="M241.4 158.5L242.8 161.1L240.0 161.1Z"/>
<path d="M253.5 167.1L254.9 169.7L252.1 169.7Z"/>
<path d="M250.6 176.5L252.0 179.1L249.2 179.1Z"/>
<path d="M301.5 44.8L302.9 47.4L300.1 47.4Z"/>
<path d="M300.1 281.4L301.6 284.0L298.7 284.0Z"/>
<path d="M304.6 280.4L306.1 283.0L303.2 283.0Z"/>
<rect x="301.1" y="291.8" width="1.7" height="3.2" fill="#161616"/>
</g>
<rect x="401.50" y="44.30" width="78.70" height="7.65" fill="#9c9c9c"/>
<rect x="479.60" y="44.30" width="21.90" height="7.65" fill="#c3c3c3"/>
<rect x="500.90" y="44.30" width="14.80" height="7.65" fill="#eaeaea"/>
<rect x="550.60" y="44.30" width="36.10" height="7.65" fill="#dcdcdc"/>
<rect x="621.60" y="44.30" width="29.00" height="7.65" fill="#eaeaea"/>
<rect x="650.00" y="44.30" width="7.70" height="7.65" fill="#c3c3c3"/>
<rect x="401.50" y="51.25" width="85.80" height="7.65" fill="#9c9c9c"/>
<rect x="486.70" y="51.25" width="21.90" height="7.65" fill="#c3c3c3"/>
<rect x="508.00" y="51.25" width="14.80" height="7.65" fill="#eaeaea"/>
<rect x="621.60" y="51.25" width="21.90" height="7.65" fill="#eaeaea"/>
<rect x="642.90" y="51.25" width="14.80" height="7.65" fill="#c3c3c3"/>
<rect x="401.50" y="58.20" width="85.80" height="7.65" fill="#9c9c9c"/>
<rect x="486.70" y="58.20" width="21.90" height="7.65" fill="#c3c3c3"/>
<rect x="508.00" y="58.20" width="29.00" height="7.65" fill="#eaeaea"/>
<rect x="621.60" y="58.20" width="14.80" height="7.65" fill="#eaeaea"/>
<rect x="635.80" y="58.20" width="21.90" height="7.65" fill="#c3c3c3"/>
<rect x="401.50" y="65.15" width="85.80" height="7.65" fill="#9c9c9c"/>
<rect x="486.70" y="65.15" width="36.10" height="7.65" fill="#c3c3c3"/>
<rect x="522.20" y="65.15" width="14.80" height="7.65" fill="#eaeaea"/>
<rect x="621.60" y="65.15" width="21.90" height="7.65" fill="#eaeaea"/>
<rect x="642.90" y="65.15" width="14.80" height="7.65" fill="#c3c3c3"/>
<rect x="401.50" y="72.10" width="14.80" height="7.65" fill="#c3c3c3"/>
<rect x="415.70" y="72.10" width="85.80" height="7.65" fill="#9c9c9c"/>
<rect x="500.90" y="72.10" width="14.80" height="7.65" fill="#c3c3c3"/>
<rect x="515.10" y="72.10" width="21.90" height="7.65" fill="#eaeaea"/>
<rect x="621.60" y="72.10" width="29.00" height="7.65" fill="#eaeaea"/>
<rect x="650.00" y="72.10" width="7.70" height="7.65" fill="#c3c3c3"/>
<rect x="401.50" y="79.05" width="14.80" height="7.65" fill="#c3c3c3"/>
<rect x="415.70" y="79.05" width="78.70" height="7.65" fill="#9c9c9c"/>
<rect x="493.80" y="79.05" width="21.90" height="7.65" fill="#c3c3c3"/>
<rect x="515.10" y="79.05" width="21.90" height="7.65" fill="#eaeaea"/>
<rect x="628.70" y="79.05" width="21.90" height="7.65" fill="#eaeaea"/>
<rect x="650.00" y="79.05" width="7.70" height="7.65" fill="#c3c3c3"/>
<rect x="401.50" y="86.00" width="21.90" height="7.65" fill="#c3c3c3"/>
<rect x="422.80" y="86.00" width="64.50" height="7.65" fill="#9c9c9c"/>
<rect x="486.70" y="86.00" width="29.00" height="7.65" fill="#c3c3c3"/>
<rect x="515.10" y="86.00" width="21.90" height="7.65" fill="#eaeaea"/>
<rect x="557.70" y="86.00" width="43.20" height="7.65" fill="#dcdcdc"/>
<rect x="635.80" y="86.00" width="14.80" height="7.65" fill="#f0f0f0"/>
<rect x="650.00" y="86.00" width="7.70" height="7.65" fill="#c3c3c3"/>
<rect x="401.50" y="92.95" width="29.00" height="7.65" fill="#c3c3c3"/>
<rect x="429.90" y="92.95" width="50.30" height="7.65" fill="#9c9c9c"/>
<rect x="479.60" y="92.95" width="43.20" height="7.65" fill="#c3c3c3"/>
<rect x="522.20" y="92.95" width="14.80" height="7.65" fill="#eaeaea"/>
<rect x="536.40" y="92.95" width="64.50" height="7.65" fill="#dcdcdc"/>
<rect x="635.80" y="92.95" width="14.80" height="7.65" fill="#f0f0f0"/>
<rect x="650.00" y="92.95" width="7.70" height="7.65" fill="#c3c3c3"/>
<rect x="401.50" y="99.90" width="36.10" height="7.65" fill="#c3c3c3"/>
<rect x="437.00" y="99.90" width="7.70" height="7.65" fill="#9c9c9c"/>
<rect x="444.10" y="99.90" width="78.70" height="7.65" fill="#c3c3c3"/>
<rect x="522.20" y="99.90" width="14.80" height="7.65" fill="#eaeaea"/>
<rect x="536.40" y="99.90" width="36.10" height="7.65" fill="#dcdcdc"/>
<rect x="571.90" y="99.90" width="14.80" height="7.65" fill="#c4c4c4"/>
<rect x="586.10" y="99.90" width="14.80" height="7.65" fill="#dcdcdc"/>
<rect x="635.80" y="99.90" width="14.80" height="7.65" fill="#f0f0f0"/>
<rect x="650.00" y="99.90" width="7.70" height="7.65" fill="#c3c3c3"/>
<rect x="401.50" y="106.85" width="100.00" height="7.65" fill="#c3c3c3"/>
<rect x="500.90" y="106.85" width="36.10" height="7.65" fill="#eaeaea"/>
<rect x="536.40" y="106.85" width="14.80" height="7.65" fill="#dcdcdc"/>
<rect x="550.60" y="106.85" width="29.00" height="7.65" fill="#c4c4c4"/>
<rect x="579.00" y="106.85" width="21.90" height="7.65" fill="#dcdcdc"/>
<rect x="635.80" y="106.85" width="21.90" height="7.65" fill="#f0f0f0"/>
<rect x="401.50" y="113.80" width="85.80" height="7.65" fill="#c3c3c3"/>
<rect x="486.70" y="113.80" width="50.30" height="7.65" fill="#eaeaea"/>
<rect x="536.40" y="113.80" width="14.80" height="7.65" fill="#dcdcdc"/>
<rect x="550.60" y="113.80" width="29.00" height="7.65" fill="#c4c4c4"/>
<rect x="579.00" y="113.80" width="21.90" height="7.65" fill="#dcdcdc"/>
<rect x="635.80" y="113.80" width="21.90" height="7.65" fill="#f0f0f0"/>
<rect x="401.50" y="120.75" width="7.70" height="7.65" fill="#eaeaea"/>
<rect x="408.60" y="120.75" width="85.80" height="7.65" fill="#c3c3c3"/>
<rect x="493.80" y="120.75" width="14.80" height="7.65" fill="#eaeaea"/>
<rect x="529.30" y="120.75" width="7.70" height="7.65" fill="#f5f5f5"/>
<rect x="536.40" y="120.75" width="21.90" height="7.65" fill="#dcdcdc"/>
<rect x="557.70" y="120.75" width="21.90" height="7.65" fill="#c4c4c4"/>
<rect x="579.00" y="120.75" width="29.00" height="7.65" fill="#dcdcdc"/>
<rect x="635.80" y="120.75" width="21.90" height="7.65" fill="#f0f0f0"/>
<rect x="401.50" y="127.70" width="14.80" height="7.65" fill="#eaeaea"/>
<rect x="415.70" y="127.70" width="78.70" height="7.65" fill="#c3c3c3"/>
<rect x="493.80" y="127.70" width="14.80" height="7.65" fill="#eaeaea"/>
<rect x="529.30" y="127.70" width="7.70" height="7.65" fill="#f5f5f5"/>
<rect x="536.40" y="127.70" width="14.80" height="7.65" fill="#dcdcdc"/>
<rect x="550.60" y="127.70" width="43.20" height="7.65" fill="#c4c4c4"/>
<rect x="593.20" y="127.70" width="14.80" height="7.65" fill="#dcdcdc"/>
<rect x="635.80" y="127.70" width="21.90" height="7.65" fill="#f0f0f0"/>
<rect x="401.50" y="134.65" width="14.80" height="7.65" fill="#d9d9d9"/>
<rect x="415.70" y="134.65" width="71.60" height="7.65" fill="#adadad"/>
<rect x="486.70" y="134.65" width="21.90" height="7.65" fill="#d9d9d9"/>
<rect x="529.30" y="134.65" width="7.70" height="7.65" fill="#f5f5f5"/>
<rect x="536.40" y="134.65" width="14.80" height="7.65" fill="#dcdcdc"/>
<rect x="550.60" y="134.65" width="14.80" height="7.65" fill="#c4c4c4"/>
<rect x="564.80" y="134.65" width="7.70" height="7.65" fill="#a4a4a4"/>
<rect x="571.90" y="134.65" width="14.80" height="7.65" fill="#c4c4c4"/>
<rect x="586.10" y="134.65" width="21.90" height="7.65" fill="#dcdcdc"/>
<rect x="635.80" y="134.65" width="21.90" height="7.65" fill="#f0f0f0"/>
<rect x="401.50" y="141.60" width="7.70" height="7.65" fill="#d9d9d9"/>
<rect x="408.60" y="141.60" width="78.70" height="7.65" fill="#adadad"/>
<rect x="486.70" y="141.60" width="21.90" height="7.65" fill="#d9d9d9"/>
<rect x="529.30" y="141.60" width="7.70" height="7.65" fill="#f5f5f5"/>
<rect x="536.40" y="141.60" width="21.90" height="7.65" fill="#dcdcdc"/>
<rect x="557.70" y="141.60" width="7.70" height="7.65" fill="#c4c4c4"/>
<rect x="564.80" y="141.60" width="14.80" height="7.65" fill="#a4a4a4"/>
<rect x="579.00" y="141.60" width="7.70" height="7.65" fill="#c4c4c4"/>
<rect x="586.10" y="141.60" width="21.90" height="7.65" fill="#dcdcdc"/>
<rect x="635.80" y="141.60" width="21.90" height="7.65" fill="#f0f0f0"/>
<rect x="401.50" y="148.55" width="50.30" height="7.65" fill="#adadad"/>
<rect x="451.20" y="148.55" width="7.70" height="7.65" fill="#939393"/>
<rect x="458.30" y="148.55" width="36.10" height="7.65" fill="#adadad"/>
<rect x="493.80" y="148.55" width="21.90" height="7.65" fill="#d9d9d9"/>
<rect x="529.30" y="148.55" width="7.70" height="7.65" fill="#f5f5f5"/>
<rect x="536.40" y="148.55" width="21.90" height="7.65" fill="#dcdcdc"/>
<rect x="557.70" y="148.55" width="36.10" height="7.65" fill="#c4c4c4"/>
<rect x="593.20" y="148.55" width="14.80" height="7.65" fill="#dcdcdc"/>
<rect x="635.80" y="148.55" width="21.90" height="7.65" fill="#f0f0f0"/>
<rect x="401.50" y="155.50" width="43.20" height="7.65" fill="#adadad"/>
<rect x="444.10" y="155.50" width="29.00" height="7.65" fill="#939393"/>
<rect x="472.50" y="155.50" width="29.00" height="7.65" fill="#adadad"/>
<rect x="500.90" y="155.50" width="21.90" height="7.65" fill="#d9d9d9"/>
<rect x="529.30" y="155.50" width="7.70" height="7.65" fill="#f5f5f5"/>
<rect x="543.50" y="155.50" width="21.90" height="7.65" fill="#dcdcdc"/>
<rect x="564.80" y="155.50" width="21.90" height="7.65" fill="#c4c4c4"/>
<rect x="586.10" y="155.50" width="21.90" height="7.65" fill="#dcdcdc"/>
<rect x="635.80" y="155.50" width="21.90" height="7.65" fill="#f0f0f0"/>
<rect x="401.50" y="162.45" width="43.20" height="7.65" fill="#adadad"/>
<rect x="444.10" y="162.45" width="36.10" height="7.65" fill="#939393"/>
<rect x="479.60" y="162.45" width="21.90" height="7.65" fill="#adadad"/>
<rect x="500.90" y="162.45" width="21.90" height="7.65" fill="#d9d9d9"/>
<rect x="529.30" y="162.45" width="7.70" height="7.65" fill="#f5f5f5"/>
<rect x="543.50" y="162.45" width="29.00" height="7.65" fill="#dcdcdc"/>
<rect x="571.90" y="162.45" width="21.90" height="7.65" fill="#c4c4c4"/>
<rect x="593.20" y="162.45" width="14.80" height="7.65" fill="#dcdcdc"/>
<rect x="635.80" y="162.45" width="21.90" height="7.65" fill="#f0f0f0"/>
<rect x="401.50" y="169.40" width="7.70" height="7.65" fill="#d9d9d9"/>
<rect x="408.60" y="169.40" width="29.00" height="7.65" fill="#adadad"/>
<rect x="437.00" y="169.40" width="50.30" height="7.65" fill="#939393"/>
<rect x="486.70" y="169.40" width="21.90" height="7.65" fill="#adadad"/>
<rect x="508.00" y="169.40" width="29.00" height="7.65" fill="#d9d9d9"/>
<rect x="543.50" y="169.40" width="21.90" height="7.65" fill="#dcdcdc"/>
<rect x="564.80" y="169.40" width="7.70" height="7.65" fill="#c4c4c4"/>
<rect x="571.90" y="169.40" width="7.70" height="7.65" fill="#dcdcdc"/>
<rect x="579.00" y="169.40" width="14.80" height="7.65" fill="#c4c4c4"/>
<rect x="593.20" y="169.40" width="14.80" height="7.65" fill="#dcdcdc"/>
<rect x="635.80" y="169.40" width="21.90" height="7.65" fill="#f0f0f0"/>
<rect x="401.50" y="176.35" width="7.70" height="7.65" fill="#d9d9d9"/>
<rect x="408.60" y="176.35" width="36.10" height="7.65" fill="#adadad"/>
<rect x="444.10" y="176.35" width="50.30" height="7.65" fill="#939393"/>
<rect x="493.80" y="176.35" width="21.90" height="7.65" fill="#adadad"/>
<rect x="515.10" y="176.35" width="21.90" height="7.65" fill="#d9d9d9"/>
<rect x="543.50" y="176.35" width="64.50" height="7.65" fill="#dcdcdc"/>
<rect x="635.80" y="176.35" width="21.90" height="7.65" fill="#f0f0f0"/>
<rect x="401.50" y="183.30" width="14.80" height="7.65" fill="#d9d9d9"/>
<rect x="415.70" y="183.30" width="36.10" height="7.65" fill="#adadad"/>
<rect x="451.20" y="183.30" width="50.30" height="7.65" fill="#939393"/>
<rect x="500.90" y="183.30" width="14.80" height="7.65" fill="#adadad"/>
<rect x="515.10" y="183.30" width="21.90" height="7.65" fill="#d9d9d9"/>
<rect x="543.50" y="183.30" width="64.50" height="7.65" fill="#dcdcdc"/>
<rect x="635.80" y="183.30" width="21.90" height="7.65" fill="#f0f0f0"/>
<rect x="401.50" y="190.25" width="14.80" height="7.65" fill="#d9d9d9"/>
<rect x="415.70" y="190.25" width="36.10" height="7.65" fill="#adadad"/>
<rect x="451.20" y="190.25" width="57.40" height="7.65" fill="#939393"/>
<rect x="508.00" y="190.25" width="14.80" height="7.65" fill="#adadad"/>
<rect x="522.20" y="190.25" width="21.90" height="7.65" fill="#d9d9d9"/>
<rect x="635.80" y="190.25" width="21.90" height="7.65" fill="#f0f0f0"/>
<rect x="401.50" y="197.20" width="21.90" height="7.65" fill="#d9d9d9"/>
<rect x="422.80" y="197.20" width="36.10" height="7.65" fill="#adadad"/>
<rect x="458.30" y="197.20" width="50.30" height="7.65" fill="#939393"/>
<rect x="508.00" y="197.20" width="14.80" height="7.65" fill="#adadad"/>
<rect x="522.20" y="197.20" width="21.90" height="7.65" fill="#d9d9d9"/>
<rect x="635.80" y="197.20" width="21.90" height="7.65" fill="#f0f0f0"/>
<rect x="401.50" y="204.15" width="7.70" height="7.65" fill="#d9d9d9"/>
<rect x="408.60" y="204.15" width="57.40" height="7.65" fill="#adadad"/>
<rect x="465.40" y="204.15" width="43.20" height="7.65" fill="#939393"/>
<rect x="508.00" y="204.15" width="21.90" height="7.65" fill="#adadad"/>
<rect x="529.30" y="204.15" width="21.90" height="7.65" fill="#d9d9d9"/>
<rect x="635.80" y="204.15" width="21.90" height="7.65" fill="#f0f0f0"/>
<rect x="401.50" y="211.10" width="14.80" height="7.65" fill="#adadad"/>
<rect x="415.70" y="211.10" width="7.70" height="7.65" fill="#d9d9d9"/>
<rect x="422.80" y="211.10" width="57.40" height="7.65" fill="#adadad"/>
<rect x="479.60" y="211.10" width="29.00" height="7.65" fill="#939393"/>
<rect x="508.00" y="211.10" width="21.90" height="7.65" fill="#adadad"/>
<rect x="529.30" y="211.10" width="21.90" height="7.65" fill="#d9d9d9"/>
<rect x="635.80" y="211.10" width="21.90" height="7.65" fill="#f0f0f0"/>
<rect x="401.50" y="218.05" width="21.90" height="7.65" fill="#d9d9d9"/>
<rect x="422.80" y="218.05" width="114.20" height="7.65" fill="#adadad"/>
<rect x="536.40" y="218.05" width="14.80" height="7.65" fill="#d9d9d9"/>
<rect x="635.80" y="218.05" width="21.90" height="7.65" fill="#f0f0f0"/>
<rect x="401.50" y="225.00" width="36.10" height="7.65" fill="#d9d9d9"/>
<rect x="437.00" y="225.00" width="92.90" height="7.65" fill="#adadad"/>
<rect x="529.30" y="225.00" width="21.90" height="7.65" fill="#d9d9d9"/>
<rect x="635.80" y="225.00" width="21.90" height="7.65" fill="#f0f0f0"/>
<rect x="408.60" y="231.95" width="29.00" height="7.65" fill="#d9d9d9"/>
<rect x="437.00" y="231.95" width="71.60" height="7.65" fill="#adadad"/>
<rect x="508.00" y="231.95" width="43.20" height="7.65" fill="#d9d9d9"/>
<rect x="422.80" y="238.90" width="57.40" height="7.65" fill="#d9d9d9"/>
<rect x="479.60" y="238.90" width="7.70" height="7.65" fill="#adadad"/>
<rect x="486.70" y="238.90" width="57.40" height="7.65" fill="#d9d9d9"/>
<rect x="401.50" y="245.85" width="50.30" height="7.65" fill="#eaeaea"/>
<rect x="451.20" y="245.85" width="14.80" height="7.65" fill="#c3c3c3"/>
<rect x="465.40" y="245.85" width="57.40" height="7.65" fill="#eaeaea"/>
<rect x="401.50" y="252.80" width="36.10" height="7.65" fill="#eaeaea"/>
<rect x="437.00" y="252.80" width="14.80" height="7.65" fill="#c3c3c3"/>
<rect x="451.20" y="252.80" width="50.30" height="7.65" fill="#eaeaea"/>
<rect x="550.60" y="252.80" width="36.10" height="7.65" fill="#dcdcdc"/>
<rect x="401.50" y="259.75" width="36.10" height="7.65" fill="#eaeaea"/>
<rect x="437.00" y="259.75" width="36.10" height="7.65" fill="#c3c3c3"/>
<rect x="472.50" y="259.75" width="29.00" height="7.65" fill="#eaeaea"/>
<rect x="550.60" y="259.75" width="36.10" height="7.65" fill="#dcdcdc"/>
<rect x="401.50" y="266.70" width="7.70" height="7.65" fill="#eaeaea"/>
<rect x="408.60" y="266.70" width="21.90" height="7.65" fill="#c3c3c3"/>
<rect x="429.90" y="266.70" width="7.70" height="7.65" fill="#eaeaea"/>
<rect x="437.00" y="266.70" width="36.10" height="7.65" fill="#c3c3c3"/>
<rect x="472.50" y="266.70" width="36.10" height="7.65" fill="#eaeaea"/>
<rect x="550.60" y="266.70" width="14.80" height="7.65" fill="#dcdcdc"/>
<rect x="564.80" y="266.70" width="7.70" height="7.65" fill="#c4c4c4"/>
<rect x="571.90" y="266.70" width="21.90" height="7.65" fill="#dcdcdc"/>
<rect x="401.50" y="273.65" width="7.70" height="7.65" fill="#eaeaea"/>
<rect x="408.60" y="273.65" width="64.50" height="7.65" fill="#c3c3c3"/>
<rect x="472.50" y="273.65" width="36.10" height="7.65" fill="#eaeaea"/>
<rect x="550.60" y="273.65" width="14.80" height="7.65" fill="#dcdcdc"/>
<rect x="564.80" y="273.65" width="7.70" height="7.65" fill="#c4c4c4"/>
<rect x="571.90" y="273.65" width="21.90" height="7.65" fill="#dcdcdc"/>
<rect x="635.80" y="273.65" width="21.90" height="7.65" fill="#eaeaea"/>
<rect x="401.50" y="280.60" width="7.70" height="7.65" fill="#eaeaea"/>
<rect x="408.60" y="280.60" width="85.80" height="7.65" fill="#c3c3c3"/>
<rect x="493.80" y="280.60" width="14.80" height="7.65" fill="#eaeaea"/>
<rect x="550.60" y="280.60" width="14.80" height="7.65" fill="#dcdcdc"/>
<rect x="564.80" y="280.60" width="14.80" height="7.65" fill="#c4c4c4"/>
<rect x="579.00" y="280.60" width="14.80" height="7.65" fill="#dcdcdc"/>
<rect x="635.80" y="280.60" width="21.90" height="7.65" fill="#eaeaea"/>
<rect x="401.50" y="287.55" width="92.90" height="7.65" fill="#c3c3c3"/>
<rect x="493.80" y="287.55" width="14.80" height="7.65" fill="#eaeaea"/>
<rect x="550.60" y="287.55" width="43.20" height="7.65" fill="#dcdcdc"/>
<rect x="635.80" y="287.55" width="14.80" height="7.65" fill="#eaeaea"/>
<rect x="650.00" y="287.55" width="7.70" height="7.65" fill="#c3c3c3"/>
<rect x="401.50" y="44.30" width="3.5" height="27.80" fill="#c3c3c3"/>
<path d="M479.60 44.30L479.60 51.25M500.90 44.30L500.90 51.25M515.10 44.30L515.10 51.25M550.60 51.25L557.70 51.25M557.70 51.25L564.80 51.25M564.80 51.25L571.90 51.25M571.90 51.25L579.00 51.25M586.10 44.30L586.10 51.25M579.00 51.25L586.10 51.25M486.70 51.25L486.70 58.20M508.00 51.25L508.00 58.20M522.20 51.25L522.20 58.20M486.70 58.20L486.70 65.15M508.00 58.20L508.00 65.15M536.40 58.20L536.40 65.15M635.80 65.15L642.90 65.15M401.50 72.10L408.60 72.10M408.60 72.10L415.70 72.10M486.70 65.15L486.70 72.10M522.20 65.15L522.20 72.10M515.10 72.10L522.20 72.10M536.40 65.15L536.40 72.10M642.90 72.10L650.00 72.10M500.90 72.10L500.90 79.05M493.80 79.05L500.90 79.05M515.10 72.10L515.10 79.05M536.40 72.10L536.40 79.05M621.60 79.05L628.70 79.05M415.70 86.00L422.80 86.00M493.80 79.05L493.80 86.00M486.70 86.00L493.80 86.00M515.10 79.05L515.10 86.00M536.40 79.05L536.40 86.00M628.70 86.00L635.80 86.00M422.80 92.95L429.90 92.95M486.70 86.00L486.70 92.95M479.60 92.95L486.70 92.95M515.10 86.00L515.10 92.95M536.40 86.00L536.40 92.95M600.30 86.00L600.30 92.95M429.90 99.90L437.00 99.90M444.10 99.90L451.20 99.90M451.20 99.90L458.30 99.90M458.30 99.90L465.40 99.90M465.40 99.90L472.50 99.90M479.60 92.95L479.60 99.90M472.50 99.90L479.60 99.90M522.20 92.95L522.20 99.90M600.30 92.95L600.30 99.90M444.10 99.90L444.10 106.85M437.00 106.85L444.10 106.85M500.90 106.85L508.00 106.85M508.00 106.85L515.10 106.85M522.20 99.90L522.20 106.85M515.10 106.85L522.20 106.85M586.10 99.90L586.10 106.85M579.00 106.85L586.10 106.85M600.30 99.90L600.30 106.85M650.00 106.85L657.10 106.85M486.70 113.80L493.80 113.80M500.90 106.85L500.90 113.80M493.80 113.80L500.90 113.80M579.00 106.85L579.00 113.80M600.30 106.85L600.30 113.80M401.50 120.75L408.60 120.75M486.70 113.80L486.70 120.75M508.00 120.75L515.10 120.75M515.10 120.75L522.20 120.75M522.20 120.75L529.30 120.75M529.30 120.75L536.40 120.75M550.60 120.75L557.70 120.75M579.00 113.80L579.00 120.75M600.30 113.80L600.30 120.75M408.60 127.70L415.70 127.70M493.80 120.75L493.80 127.70M508.00 120.75L508.00 127.70M579.00 120.75L579.00 127.70M607.40 120.75L607.40 127.70M493.80 127.70L493.80 134.65M486.70 134.65L493.80 134.65M508.00 127.70L508.00 134.65M593.20 127.70L593.20 134.65M586.10 134.65L593.20 134.65M607.40 127.70L607.40 134.65M486.70 134.65L486.70 141.60M508.00 134.65L508.00 141.60M550.60 141.60L557.70 141.60M571.90 134.65L571.90 141.60M586.10 134.65L586.10 141.60M607.40 134.65L607.40 141.60M486.70 141.60L486.70 148.55M508.00 141.60L508.00 148.55M564.80 148.55L571.90 148.55M579.00 141.60L579.00 148.55M571.90 148.55L579.00 148.55M586.10 141.60L586.10 148.55M607.40 141.60L607.40 148.55M458.30 148.55L458.30 155.50M493.80 148.55L493.80 155.50M515.10 148.55L515.10 155.50M536.40 155.50L543.50 155.50M557.70 155.50L564.80 155.50M593.20 148.55L593.20 155.50M586.10 155.50L593.20 155.50M607.40 148.55L607.40 155.50M472.50 155.50L472.50 162.45M500.90 155.50L500.90 162.45M522.20 155.50L522.20 162.45M564.80 162.45L571.90 162.45M586.10 155.50L586.10 162.45M607.40 155.50L607.40 162.45M401.50 169.40L408.60 169.40M479.60 162.45L479.60 169.40M500.90 162.45L500.90 169.40M522.20 162.45L522.20 169.40M571.90 169.40L579.00 169.40M593.20 162.45L593.20 169.40M607.40 162.45L607.40 169.40M437.00 176.35L444.10 176.35M486.70 169.40L486.70 176.35M508.00 169.40L508.00 176.35M536.40 169.40L536.40 176.35M571.90 169.40L571.90 176.35M564.80 176.35L571.90 176.35M579.00 176.35L586.10 176.35M593.20 169.40L593.20 176.35M586.10 176.35L593.20 176.35M607.40 169.40L607.40 176.35M408.60 183.30L415.70 183.30M444.10 183.30L451.20 183.30M493.80 176.35L493.80 183.30M515.10 176.35L515.10 183.30M536.40 176.35L536.40 183.30M607.40 176.35L607.40 183.30M500.90 183.30L500.90 190.25M515.10 183.30L515.10 190.25M536.40 183.30L536.40 190.25M543.50 190.25L550.60 190.25M550.60 190.25L557.70 190.25M557.70 190.25L564.80 190.25M564.80 190.25L571.90 190.25M571.90 190.25L579.00 190.25M579.00 190.25L586.10 190.25M586.10 190.25L593.20 190.25M593.20 190.25L600.30 190.25M607.40 183.30L607.40 190.25M600.30 190.25L607.40 190.25M415.70 197.20L422.80 197.20M451.20 197.20L458.30 197.20M508.00 190.25L508.00 197.20M522.20 190.25L522.20 197.20M543.50 190.25L543.50 197.20M458.30 204.15L465.40 204.15M508.00 197.20L508.00 204.15M522.20 197.20L522.20 204.15M543.50 197.20L543.50 204.15M415.70 211.10L422.80 211.10M465.40 211.10L472.50 211.10M472.50 211.10L479.60 211.10M508.00 204.15L508.00 211.10M529.30 204.15L529.30 211.10M550.60 204.15L550.60 211.10M401.50 218.05L408.60 218.05M415.70 211.10L415.70 218.05M408.60 218.05L415.70 218.05M479.60 218.05L486.70 218.05M486.70 218.05L493.80 218.05M493.80 218.05L500.90 218.05M508.00 211.10L508.00 218.05M500.90 218.05L508.00 218.05M529.30 211.10L529.30 218.05M550.60 211.10L550.60 218.05M422.80 225.00L429.90 225.00M429.90 225.00L437.00 225.00M536.40 218.05L536.40 225.00M529.30 225.00L536.40 225.00M550.60 218.05L550.60 225.00M401.50 231.95L408.60 231.95M508.00 231.95L515.10 231.95M515.10 231.95L522.20 231.95M529.30 225.00L529.30 231.95M522.20 231.95L529.30 231.95M550.60 225.00L550.60 231.95M635.80 231.95L642.90 231.95M642.90 231.95L650.00 231.95M650.00 231.95L657.10 231.95M408.60 238.90L415.70 238.90M415.70 238.90L422.80 238.90M437.00 238.90L444.10 238.90M444.10 238.90L451.20 238.90M451.20 238.90L458.30 238.90M458.30 238.90L465.40 238.90M465.40 238.90L472.50 238.90M472.50 238.90L479.60 238.90M486.70 238.90L493.80 238.90M493.80 238.90L500.90 238.90M508.00 231.95L508.00 238.90M500.90 238.90L508.00 238.90M550.60 231.95L550.60 238.90M543.50 238.90L550.60 238.90M486.70 238.90L486.70 245.85M479.60 245.85L486.70 245.85M522.20 245.85L529.30 245.85M529.30 245.85L536.40 245.85M543.50 238.90L543.50 245.85M536.40 245.85L543.50 245.85M451.20 252.80L458.30 252.80M465.40 245.85L465.40 252.80M458.30 252.80L465.40 252.80M500.90 252.80L508.00 252.80M508.00 252.80L515.10 252.80M522.20 245.85L522.20 252.80M515.10 252.80L522.20 252.80M451.20 252.80L451.20 259.75M500.90 252.80L500.90 259.75M586.10 252.80L586.10 259.75M472.50 259.75L472.50 266.70M500.90 259.75L500.90 266.70M586.10 259.75L586.10 266.70M429.90 266.70L429.90 273.65M472.50 266.70L472.50 273.65M508.00 266.70L508.00 273.65M571.90 266.70L571.90 273.65M593.20 266.70L593.20 273.65M472.50 273.65L472.50 280.60M508.00 273.65L508.00 280.60M571.90 273.65L571.90 280.60M593.20 273.65L593.20 280.60M493.80 280.60L493.80 287.55M508.00 280.60L508.00 287.55M564.80 287.55L571.90 287.55M579.00 280.60L579.00 287.55M571.90 287.55L579.00 287.55M593.20 280.60L593.20 287.55M493.80 287.55L493.80 294.50M508.00 287.55L508.00 294.50M593.20 287.55L593.20 294.50" stroke="#000" stroke-opacity="0.5" stroke-width="0.9" fill="none"/>
<path d="M529.30 44.30V294.50" stroke="#000" stroke-opacity="0.10" stroke-width="0.8" fill="none"/>
<path d="M401.50 169.40H657.10" stroke="#000" stroke-opacity="0.20" stroke-width="0.8" fill="none"/>
<rect x="401.50" y="44.30" width="255.60" height="250.20" fill="none" stroke="#9a9a9a" stroke-width="1"/>
<path d="M401.50 44.30h-3.2M401.50 294.50v2.6M401.50 75.57h-3.2M433.45 294.50v2.6M401.50 106.85h-3.2M465.40 294.50v2.6M401.50 138.12h-3.2M497.35 294.50v2.6M401.50 169.40h-3.2M529.30 294.50v2.6M401.50 200.68h-3.2M561.25 294.50v2.6M401.50 231.95h-3.2M593.20 294.50v2.6M401.50 263.22h-3.2M625.15 294.50v2.6M401.50 294.50h-3.2M657.10 294.50v2.6" stroke="#9a9a9a" stroke-width="1" fill="none"/>
<g fill="#161616">
<rect x="414.2" y="45.9" width="3.2" height="3.2" rx=".8"/>
<rect x="410.6" y="47.0" width="3.2" height="3.2" rx=".8"/>
<rect x="407.8" y="46.3" width="3.2" height="3.2" rx=".8"/>
<rect x="420.2" y="47.9" width="3.2" height="3.2" rx=".8"/>
<rect x="413.6" y="50.4" width="3.2" height="3.2" rx=".8"/>
<rect x="425.9" y="47.2" width="3.2" height="3.2" rx=".8"/>
<rect x="421.9" y="44.0" width="3.2" height="3.2" rx=".8"/>
<rect x="420.5" y="45.9" width="3.2" height="3.2" rx=".8"/>
<rect x="424.1" y="49.2" width="3.2" height="3.2" rx=".8"/>
<rect x="424.8" y="47.4" width="3.2" height="3.2" rx=".8"/>
<rect x="433.0" y="45.8" width="3.2" height="3.2" rx=".8"/>
<rect x="429.7" y="50.5" width="3.2" height="3.2" rx=".8"/>
<rect x="441.6" y="48.0" width="3.2" height="3.2" rx=".8"/>
<rect x="441.0" y="45.4" width="3.2" height="3.2" rx=".8"/>
<rect x="441.7" y="45.2" width="3.2" height="3.2" rx=".8"/>
<rect x="443.2" y="49.8" width="3.2" height="3.2" rx=".8"/>
<rect x="456.9" y="45.3" width="3.2" height="3.2" rx=".8"/>
<rect x="460.9" y="48.6" width="3.2" height="3.2" rx=".8"/>
<rect x="458.3" y="50.2" width="3.2" height="3.2" rx=".8"/>
<rect x="456.0" y="48.8" width="3.2" height="3.2" rx=".8"/>
<rect x="474.3" y="45.8" width="3.2" height="3.2" rx=".8"/>
<rect x="471.1" y="48.2" width="3.2" height="3.2" rx=".8"/>
<rect x="470.6" y="47.5" width="3.2" height="3.2" rx=".8"/>
<rect x="478.9" y="50.3" width="3.2" height="3.2" rx=".8"/>
<rect x="483.5" y="44.5" width="3.2" height="3.2" rx=".8"/>
<rect x="479.9" y="49.3" width="3.2" height="3.2" rx=".8"/>
<rect x="478.8" y="48.6" width="3.2" height="3.2" rx=".8"/>
<rect x="479.4" y="44.5" width="3.2" height="3.2" rx=".8"/>
<rect x="402.4" y="52.8" width="3.2" height="3.2" rx=".8"/>
<rect x="410.4" y="53.9" width="3.2" height="3.2" rx=".8"/>
<rect x="413.7" y="50.5" width="3.2" height="3.2" rx=".8"/>
<rect x="421.1" y="56.0" width="3.2" height="3.2" rx=".8"/>
<rect x="415.4" y="50.6" width="3.2" height="3.2" rx=".8"/>
<rect x="419.6" y="57.0" width="3.2" height="3.2" rx=".8"/>
<rect x="415.0" y="57.1" width="3.2" height="3.2" rx=".8"/>
<rect x="425.5" y="52.6" width="3.2" height="3.2" rx=".8"/>
<rect x="421.2" y="49.3" width="3.2" height="3.2" rx=".8"/>
<rect x="428.6" y="51.0" width="3.2" height="3.2" rx=".8"/>
<rect x="426.4" y="51.1" width="3.2" height="3.2" rx=".8"/>
<rect x="427.4" y="54.1" width="3.2" height="3.2" rx=".8"/>
<rect x="428.8" y="55.1" width="3.2" height="3.2" rx=".8"/>
<rect x="427.9" y="50.9" width="3.2" height="3.2" rx=".8"/>
<rect x="432.1" y="56.3" width="3.2" height="3.2" rx=".8"/>
<rect x="432.6" y="51.3" width="3.2" height="3.2" rx=".8"/>
<rect x="435.2" y="50.7" width="3.2" height="3.2" rx=".8"/>
<rect x="427.5" y="51.3" width="3.2" height="3.2" rx=".8"/>
<rect x="431.2" y="49.5" width="3.2" height="3.2" rx=".8"/>
<rect x="437.5" y="53.9" width="3.2" height="3.2" rx=".8"/>
<rect x="435.5" y="52.1" width="3.2" height="3.2" rx=".8"/>
<rect x="442.0" y="57.4" width="3.2" height="3.2" rx=".8"/>
<rect x="440.0" y="54.9" width="3.2" height="3.2" rx=".8"/>
<rect x="439.4" y="50.1" width="3.2" height="3.2" rx=".8"/>
<rect x="434.7" y="49.1" width="3.2" height="3.2" rx=".8"/>
<rect x="442.2" y="55.0" width="3.2" height="3.2" rx=".8"/>
<rect x="442.7" y="49.1" width="3.2" height="3.2" rx=".8"/>
<rect x="439.8" y="53.1" width="3.2" height="3.2" rx=".8"/>
<rect x="444.1" y="57.6" width="3.2" height="3.2" rx=".8"/>
<rect x="442.0" y="53.6" width="3.2" height="3.2" rx=".8"/>
<rect x="447.7" y="56.7" width="3.2" height="3.2" rx=".8"/>
<rect x="447.7" y="55.0" width="3.2" height="3.2" rx=".8"/>
<rect x="456.3" y="52.0" width="3.2" height="3.2" rx=".8"/>
<rect x="454.3" y="56.7" width="3.2" height="3.2" rx=".8"/>
<rect x="455.9" y="52.5" width="3.2" height="3.2" rx=".8"/>
<rect x="455.2" y="56.4" width="3.2" height="3.2" rx=".8"/>
<rect x="460.8" y="52.2" width="3.2" height="3.2" rx=".8"/>
<rect x="460.5" y="54.2" width="3.2" height="3.2" rx=".8"/>
<rect x="456.1" y="54.4" width="3.2" height="3.2" rx=".8"/>
<rect x="464.0" y="56.5" width="3.2" height="3.2" rx=".8"/>
<rect x="472.9" y="55.3" width="3.2" height="3.2" rx=".8"/>
<rect x="474.5" y="52.7" width="3.2" height="3.2" rx=".8"/>
<rect x="476.7" y="49.7" width="3.2" height="3.2" rx=".8"/>
<rect x="476.0" y="49.2" width="3.2" height="3.2" rx=".8"/>
<rect x="480.7" y="50.9" width="3.2" height="3.2" rx=".8"/>
<rect x="482.6" y="53.2" width="3.2" height="3.2" rx=".8"/>
<rect x="407.1" y="58.2" width="3.2" height="3.2" rx=".8"/>
<rect x="405.1" y="57.7" width="3.2" height="3.2" rx=".8"/>
<rect x="404.9" y="59.8" width="3.2" height="3.2" rx=".8"/>
<rect x="406.9" y="58.8" width="3.2" height="3.2" rx=".8"/>
<rect x="404.9" y="57.7" width="3.2" height="3.2" rx=".8"/>
<rect x="413.2" y="63.8" width="3.2" height="3.2" rx=".8"/>
<rect x="413.8" y="59.3" width="3.2" height="3.2" rx=".8"/>
<rect x="411.3" y="58.7" width="3.2" height="3.2" rx=".8"/>
<rect x="407.4" y="60.2" width="3.2" height="3.2" rx=".8"/>
<rect x="413.5" y="63.3" width="3.2" height="3.2" rx=".8"/>
<rect x="412.4" y="64.2" width="3.2" height="3.2" rx=".8"/>
<rect x="408.6" y="57.4" width="3.2" height="3.2" rx=".8"/>
<rect x="410.1" y="58.3" width="3.2" height="3.2" rx=".8"/>
<rect x="408.1" y="59.5" width="3.2" height="3.2" rx=".8"/>
<rect x="411.6" y="60.2" width="3.2" height="3.2" rx=".8"/>
<rect x="409.0" y="63.2" width="3.2" height="3.2" rx=".8"/>
<rect x="414.7" y="59.9" width="3.2" height="3.2" rx=".8"/>
<rect x="413.5" y="63.5" width="3.2" height="3.2" rx=".8"/>
<rect x="413.6" y="62.1" width="3.2" height="3.2" rx=".8"/>
<rect x="418.2" y="58.6" width="3.2" height="3.2" rx=".8"/>
<rect x="420.1" y="56.1" width="3.2" height="3.2" rx=".8"/>
<rect x="414.4" y="59.9" width="3.2" height="3.2" rx=".8"/>
<rect x="413.5" y="63.1" width="3.2" height="3.2" rx=".8"/>
<rect x="415.3" y="57.2" width="3.2" height="3.2" rx=".8"/>
<rect x="413.7" y="61.4" width="3.2" height="3.2" rx=".8"/>
<rect x="417.1" y="61.4" width="3.2" height="3.2" rx=".8"/>
<rect x="418.9" y="62.9" width="3.2" height="3.2" rx=".8"/>
<rect x="426.2" y="57.7" width="3.2" height="3.2" rx=".8"/>
<rect x="424.4" y="57.5" width="3.2" height="3.2" rx=".8"/>
<rect x="420.4" y="60.0" width="3.2" height="3.2" rx=".8"/>
<rect x="426.5" y="57.5" width="3.2" height="3.2" rx=".8"/>
<rect x="422.6" y="58.9" width="3.2" height="3.2" rx=".8"/>
<rect x="426.3" y="60.5" width="3.2" height="3.2" rx=".8"/>
<rect x="425.6" y="62.5" width="3.2" height="3.2" rx=".8"/>
<rect x="434.2" y="63.8" width="3.2" height="3.2" rx=".8"/>
<rect x="428.1" y="64.0" width="3.2" height="3.2" rx=".8"/>
<rect x="433.6" y="57.1" width="3.2" height="3.2" rx=".8"/>
<rect x="431.2" y="61.4" width="3.2" height="3.2" rx=".8"/>
<rect x="435.2" y="59.2" width="3.2" height="3.2" rx=".8"/>
<rect x="432.2" y="63.5" width="3.2" height="3.2" rx=".8"/>
<rect x="434.2" y="64.1" width="3.2" height="3.2" rx=".8"/>
<rect x="431.3" y="61.6" width="3.2" height="3.2" rx=".8"/>
<rect x="429.1" y="62.2" width="3.2" height="3.2" rx=".8"/>
<rect x="434.4" y="61.5" width="3.2" height="3.2" rx=".8"/>
<rect x="433.5" y="57.8" width="3.2" height="3.2" rx=".8"/>
<rect x="435.1" y="64.4" width="3.2" height="3.2" rx=".8"/>
<rect x="435.8" y="60.6" width="3.2" height="3.2" rx=".8"/>
<rect x="434.1" y="58.7" width="3.2" height="3.2" rx=".8"/>
<rect x="435.2" y="63.3" width="3.2" height="3.2" rx=".8"/>
<rect x="435.1" y="59.8" width="3.2" height="3.2" rx=".8"/>
<rect x="439.1" y="62.6" width="3.2" height="3.2" rx=".8"/>
<rect x="438.6" y="56.2" width="3.2" height="3.2" rx=".8"/>
<rect x="441.3" y="56.5" width="3.2" height="3.2" rx=".8"/>
<rect x="441.3" y="57.5" width="3.2" height="3.2" rx=".8"/>
<rect x="437.2" y="62.8" width="3.2" height="3.2" rx=".8"/>
<rect x="435.6" y="57.2" width="3.2" height="3.2" rx=".8"/>
<rect x="438.8" y="62.2" width="3.2" height="3.2" rx=".8"/>
<rect x="441.6" y="61.9" width="3.2" height="3.2" rx=".8"/>
<rect x="442.5" y="60.2" width="3.2" height="3.2" rx=".8"/>
<rect x="442.5" y="56.7" width="3.2" height="3.2" rx=".8"/>
<rect x="436.3" y="60.5" width="3.2" height="3.2" rx=".8"/>
<rect x="447.7" y="61.5" width="3.2" height="3.2" rx=".8"/>
<rect x="445.9" y="63.2" width="3.2" height="3.2" rx=".8"/>
<rect x="446.2" y="58.6" width="3.2" height="3.2" rx=".8"/>
<rect x="444.7" y="63.3" width="3.2" height="3.2" rx=".8"/>
<rect x="449.2" y="57.8" width="3.2" height="3.2" rx=".8"/>
<rect x="448.7" y="64.3" width="3.2" height="3.2" rx=".8"/>
<rect x="445.9" y="60.9" width="3.2" height="3.2" rx=".8"/>
<rect x="443.1" y="60.6" width="3.2" height="3.2" rx=".8"/>
<rect x="445.7" y="61.2" width="3.2" height="3.2" rx=".8"/>
<rect x="441.6" y="64.3" width="3.2" height="3.2" rx=".8"/>
<rect x="445.8" y="59.4" width="3.2" height="3.2" rx=".8"/>
<rect x="448.3" y="60.8" width="3.2" height="3.2" rx=".8"/>
<rect x="445.6" y="61.9" width="3.2" height="3.2" rx=".8"/>
<rect x="441.9" y="60.6" width="3.2" height="3.2" rx=".8"/>
<rect x="445.0" y="64.2" width="3.2" height="3.2" rx=".8"/>
<rect x="450.7" y="60.0" width="3.2" height="3.2" rx=".8"/>
<rect x="449.5" y="59.7" width="3.2" height="3.2" rx=".8"/>
<rect x="455.4" y="63.7" width="3.2" height="3.2" rx=".8"/>
<rect x="452.5" y="58.7" width="3.2" height="3.2" rx=".8"/>
<rect x="450.1" y="61.3" width="3.2" height="3.2" rx=".8"/>
<rect x="456.4" y="57.1" width="3.2" height="3.2" rx=".8"/>
<rect x="455.1" y="56.2" width="3.2" height="3.2" rx=".8"/>
<rect x="450.1" y="57.9" width="3.2" height="3.2" rx=".8"/>
<rect x="454.3" y="58.7" width="3.2" height="3.2" rx=".8"/>
<rect x="451.5" y="61.3" width="3.2" height="3.2" rx=".8"/>
<rect x="449.3" y="62.3" width="3.2" height="3.2" rx=".8"/>
<rect x="449.5" y="60.4" width="3.2" height="3.2" rx=".8"/>
<rect x="457.1" y="60.5" width="3.2" height="3.2" rx=".8"/>
<rect x="459.2" y="59.2" width="3.2" height="3.2" rx=".8"/>
<rect x="459.0" y="60.5" width="3.2" height="3.2" rx=".8"/>
<rect x="456.8" y="57.7" width="3.2" height="3.2" rx=".8"/>
<rect x="468.0" y="60.5" width="3.2" height="3.2" rx=".8"/>
<rect x="469.8" y="61.2" width="3.2" height="3.2" rx=".8"/>
<rect x="469.9" y="58.0" width="3.2" height="3.2" rx=".8"/>
<rect x="468.9" y="63.0" width="3.2" height="3.2" rx=".8"/>
<rect x="472.2" y="58.7" width="3.2" height="3.2" rx=".8"/>
<rect x="477.5" y="57.8" width="3.2" height="3.2" rx=".8"/>
<rect x="478.1" y="63.6" width="3.2" height="3.2" rx=".8"/>
<rect x="478.6" y="62.2" width="3.2" height="3.2" rx=".8"/>
<rect x="478.8" y="56.8" width="3.2" height="3.2" rx=".8"/>
<rect x="483.7" y="59.6" width="3.2" height="3.2" rx=".8"/>
<rect x="483.3" y="57.0" width="3.2" height="3.2" rx=".8"/>
<rect x="480.0" y="61.9" width="3.2" height="3.2" rx=".8"/>
<rect x="476.7" y="57.7" width="3.2" height="3.2" rx=".8"/>
<rect x="482.4" y="63.8" width="3.2" height="3.2" rx=".8"/>
<rect x="484.9" y="57.0" width="3.2" height="3.2" rx=".8"/>
<rect x="480.9" y="62.5" width="3.2" height="3.2" rx=".8"/>
<rect x="480.9" y="61.9" width="3.2" height="3.2" rx=".8"/>
<rect x="478.2" y="56.6" width="3.2" height="3.2" rx=".8"/>
<rect x="477.4" y="56.3" width="3.2" height="3.2" rx=".8"/>
<rect x="481.3" y="60.4" width="3.2" height="3.2" rx=".8"/>
<rect x="484.8" y="57.6" width="3.2" height="3.2" rx=".8"/>
<rect x="406.5" y="71.5" width="3.2" height="3.2" rx=".8"/>
<rect x="407.2" y="63.8" width="3.2" height="3.2" rx=".8"/>
<rect x="403.2" y="69.6" width="3.2" height="3.2" rx=".8"/>
<rect x="402.0" y="67.0" width="3.2" height="3.2" rx=".8"/>
<rect x="403.6" y="66.7" width="3.2" height="3.2" rx=".8"/>
<rect x="404.4" y="63.1" width="3.2" height="3.2" rx=".8"/>
<rect x="413.5" y="64.6" width="3.2" height="3.2" rx=".8"/>
<rect x="410.1" y="69.4" width="3.2" height="3.2" rx=".8"/>
<rect x="409.7" y="64.7" width="3.2" height="3.2" rx=".8"/>
<rect x="407.7" y="67.4" width="3.2" height="3.2" rx=".8"/>
<rect x="406.4" y="70.7" width="3.2" height="3.2" rx=".8"/>
<rect x="413.1" y="69.1" width="3.2" height="3.2" rx=".8"/>
<rect x="413.7" y="68.4" width="3.2" height="3.2" rx=".8"/>
<rect x="418.4" y="67.3" width="3.2" height="3.2" rx=".8"/>
<rect x="421.7" y="69.9" width="3.2" height="3.2" rx=".8"/>
<rect x="415.5" y="70.9" width="3.2" height="3.2" rx=".8"/>
<rect x="419.7" y="69.7" width="3.2" height="3.2" rx=".8"/>
<rect x="420.3" y="66.5" width="3.2" height="3.2" rx=".8"/>
<rect x="427.9" y="69.0" width="3.2" height="3.2" rx=".8"/>
<rect x="426.9" y="69.6" width="3.2" height="3.2" rx=".8"/>
<rect x="423.8" y="69.2" width="3.2" height="3.2" rx=".8"/>
<rect x="430.3" y="67.0" width="3.2" height="3.2" rx=".8"/>
<rect x="427.4" y="66.1" width="3.2" height="3.2" rx=".8"/>
<rect x="432.8" y="68.4" width="3.2" height="3.2" rx=".8"/>
<rect x="429.3" y="71.1" width="3.2" height="3.2" rx=".8"/>
<rect x="433.1" y="65.9" width="3.2" height="3.2" rx=".8"/>
<rect x="433.0" y="67.9" width="3.2" height="3.2" rx=".8"/>
<rect x="431.9" y="66.4" width="3.2" height="3.2" rx=".8"/>
<rect x="435.9" y="68.5" width="3.2" height="3.2" rx=".8"/>
<rect x="433.4" y="69.6" width="3.2" height="3.2" rx=".8"/>
<rect x="435.8" y="63.2" width="3.2" height="3.2" rx=".8"/>
<rect x="432.6" y="69.4" width="3.2" height="3.2" rx=".8"/>
<rect x="429.5" y="66.5" width="3.2" height="3.2" rx=".8"/>
<rect x="427.8" y="64.7" width="3.2" height="3.2" rx=".8"/>
<rect x="435.2" y="65.2" width="3.2" height="3.2" rx=".8"/>
<rect x="442.2" y="67.7" width="3.2" height="3.2" rx=".8"/>
<rect x="438.7" y="71.3" width="3.2" height="3.2" rx=".8"/>
<rect x="439.3" y="71.6" width="3.2" height="3.2" rx=".8"/>
<rect x="439.9" y="70.0" width="3.2" height="3.2" rx=".8"/>
<rect x="435.0" y="68.1" width="3.2" height="3.2" rx=".8"/>
<rect x="440.9" y="63.4" width="3.2" height="3.2" rx=".8"/>
<rect x="442.4" y="64.4" width="3.2" height="3.2" rx=".8"/>
<rect x="438.4" y="64.4" width="3.2" height="3.2" rx=".8"/>
<rect x="438.6" y="68.3" width="3.2" height="3.2" rx=".8"/>
<rect x="434.9" y="71.1" width="3.2" height="3.2" rx=".8"/>
<rect x="438.0" y="67.5" width="3.2" height="3.2" rx=".8"/>
<rect x="444.5" y="65.5" width="3.2" height="3.2" rx=".8"/>
<rect x="447.0" y="67.8" width="3.2" height="3.2" rx=".8"/>
<rect x="443.8" y="69.2" width="3.2" height="3.2" rx=".8"/>
<rect x="443.9" y="63.1" width="3.2" height="3.2" rx=".8"/>
<rect x="443.5" y="63.4" width="3.2" height="3.2" rx=".8"/>
<rect x="442.7" y="69.5" width="3.2" height="3.2" rx=".8"/>
<rect x="444.7" y="70.7" width="3.2" height="3.2" rx=".8"/>
<rect x="447.8" y="63.4" width="3.2" height="3.2" rx=".8"/>
<rect x="449.9" y="71.1" width="3.2" height="3.2" rx=".8"/>
<rect x="442.0" y="70.8" width="3.2" height="3.2" rx=".8"/>
<rect x="445.1" y="67.1" width="3.2" height="3.2" rx=".8"/>
<rect x="449.8" y="65.1" width="3.2" height="3.2" rx=".8"/>
<rect x="445.9" y="71.1" width="3.2" height="3.2" rx=".8"/>
<rect x="447.6" y="67.0" width="3.2" height="3.2" rx=".8"/>
<rect x="449.8" y="70.0" width="3.2" height="3.2" rx=".8"/>
<rect x="446.6" y="64.0" width="3.2" height="3.2" rx=".8"/>
<rect x="446.8" y="66.9" width="3.2" height="3.2" rx=".8"/>
<rect x="443.1" y="63.4" width="3.2" height="3.2" rx=".8"/>
<rect x="445.9" y="64.1" width="3.2" height="3.2" rx=".8"/>
<rect x="445.2" y="68.8" width="3.2" height="3.2" rx=".8"/>
<rect x="445.3" y="65.3" width="3.2" height="3.2" rx=".8"/>
<rect x="446.4" y="66.6" width="3.2" height="3.2" rx=".8"/>
<rect x="448.1" y="67.6" width="3.2" height="3.2" rx=".8"/>
<rect x="456.6" y="69.3" width="3.2" height="3.2" rx=".8"/>
<rect x="450.5" y="64.0" width="3.2" height="3.2" rx=".8"/>
<rect x="456.1" y="69.8" width="3.2" height="3.2" rx=".8"/>
<rect x="453.8" y="66.1" width="3.2" height="3.2" rx=".8"/>
<rect x="450.8" y="68.9" width="3.2" height="3.2" rx=".8"/>
<rect x="453.3" y="68.1" width="3.2" height="3.2" rx=".8"/>
<rect x="453.9" y="69.5" width="3.2" height="3.2" rx=".8"/>
<rect x="450.0" y="65.1" width="3.2" height="3.2" rx=".8"/>
<rect x="456.9" y="70.9" width="3.2" height="3.2" rx=".8"/>
<rect x="456.0" y="63.3" width="3.2" height="3.2" rx=".8"/>
<rect x="448.9" y="65.3" width="3.2" height="3.2" rx=".8"/>
<rect x="452.1" y="68.4" width="3.2" height="3.2" rx=".8"/>
<rect x="449.3" y="67.7" width="3.2" height="3.2" rx=".8"/>
<rect x="449.0" y="63.7" width="3.2" height="3.2" rx=".8"/>
<rect x="454.2" y="67.7" width="3.2" height="3.2" rx=".8"/>
<rect x="453.9" y="66.2" width="3.2" height="3.2" rx=".8"/>
<rect x="452.5" y="64.8" width="3.2" height="3.2" rx=".8"/>
<rect x="461.9" y="70.2" width="3.2" height="3.2" rx=".8"/>
<rect x="456.1" y="64.0" width="3.2" height="3.2" rx=".8"/>
<rect x="462.4" y="68.4" width="3.2" height="3.2" rx=".8"/>
<rect x="462.1" y="64.8" width="3.2" height="3.2" rx=".8"/>
<rect x="459.1" y="65.2" width="3.2" height="3.2" rx=".8"/>
<rect x="465.7" y="68.6" width="3.2" height="3.2" rx=".8"/>
<rect x="471.0" y="65.8" width="3.2" height="3.2" rx=".8"/>
<rect x="467.2" y="69.4" width="3.2" height="3.2" rx=".8"/>
<rect x="470.4" y="66.7" width="3.2" height="3.2" rx=".8"/>
<rect x="465.7" y="63.8" width="3.2" height="3.2" rx=".8"/>
<rect x="470.2" y="63.7" width="3.2" height="3.2" rx=".8"/>
<rect x="474.4" y="67.2" width="3.2" height="3.2" rx=".8"/>
<rect x="475.4" y="65.6" width="3.2" height="3.2" rx=".8"/>
<rect x="476.2" y="63.6" width="3.2" height="3.2" rx=".8"/>
<rect x="471.3" y="68.7" width="3.2" height="3.2" rx=".8"/>
<rect x="470.2" y="65.6" width="3.2" height="3.2" rx=".8"/>
<rect x="475.8" y="69.0" width="3.2" height="3.2" rx=".8"/>
<rect x="477.8" y="66.1" width="3.2" height="3.2" rx=".8"/>
<rect x="482.8" y="66.2" width="3.2" height="3.2" rx=".8"/>
<rect x="477.5" y="69.1" width="3.2" height="3.2" rx=".8"/>
<rect x="481.4" y="70.9" width="3.2" height="3.2" rx=".8"/>
<rect x="484.6" y="70.9" width="3.2" height="3.2" rx=".8"/>
<rect x="480.3" y="69.9" width="3.2" height="3.2" rx=".8"/>
<rect x="479.2" y="65.7" width="3.2" height="3.2" rx=".8"/>
<rect x="480.0" y="71.1" width="3.2" height="3.2" rx=".8"/>
<rect x="484.3" y="65.1" width="3.2" height="3.2" rx=".8"/>
<rect x="479.7" y="66.1" width="3.2" height="3.2" rx=".8"/>
<rect x="479.7" y="66.4" width="3.2" height="3.2" rx=".8"/>
<rect x="479.9" y="64.7" width="3.2" height="3.2" rx=".8"/>
<rect x="481.4" y="69.9" width="3.2" height="3.2" rx=".8"/>
<rect x="481.2" y="70.2" width="3.2" height="3.2" rx=".8"/>
<rect x="481.4" y="64.5" width="3.2" height="3.2" rx=".8"/>
<rect x="491.2" y="65.4" width="3.2" height="3.2" rx=".8"/>
<rect x="483.8" y="67.4" width="3.2" height="3.2" rx=".8"/>
<rect x="488.3" y="67.9" width="3.2" height="3.2" rx=".8"/>
<rect x="491.9" y="68.6" width="3.2" height="3.2" rx=".8"/>
<rect x="490.5" y="63.5" width="3.2" height="3.2" rx=".8"/>
<rect x="406.0" y="70.7" width="3.2" height="3.2" rx=".8"/>
<rect x="407.0" y="70.8" width="3.2" height="3.2" rx=".8"/>
<rect x="407.5" y="76.5" width="3.2" height="3.2" rx=".8"/>
<rect x="411.8" y="72.1" width="3.2" height="3.2" rx=".8"/>
<rect x="408.1" y="76.6" width="3.2" height="3.2" rx=".8"/>
<rect x="410.7" y="76.6" width="3.2" height="3.2" rx=".8"/>
<rect x="416.2" y="78.4" width="3.2" height="3.2" rx=".8"/>
<rect x="424.6" y="74.7" width="3.2" height="3.2" rx=".8"/>
<rect x="426.5" y="76.1" width="3.2" height="3.2" rx=".8"/>
<rect x="428.2" y="73.6" width="3.2" height="3.2" rx=".8"/>
<rect x="427.4" y="75.8" width="3.2" height="3.2" rx=".8"/>
<rect x="427.7" y="77.0" width="3.2" height="3.2" rx=".8"/>
<rect x="435.0" y="78.3" width="3.2" height="3.2" rx=".8"/>
<rect x="432.8" y="74.5" width="3.2" height="3.2" rx=".8"/>
<rect x="433.4" y="76.9" width="3.2" height="3.2" rx=".8"/>
<rect x="431.0" y="73.6" width="3.2" height="3.2" rx=".8"/>
<rect x="428.6" y="76.4" width="3.2" height="3.2" rx=".8"/>
<rect x="437.6" y="71.5" width="3.2" height="3.2" rx=".8"/>
<rect x="436.1" y="73.7" width="3.2" height="3.2" rx=".8"/>
<rect x="436.9" y="78.4" width="3.2" height="3.2" rx=".8"/>
<rect x="434.9" y="72.7" width="3.2" height="3.2" rx=".8"/>
<rect x="435.3" y="75.6" width="3.2" height="3.2" rx=".8"/>
<rect x="441.0" y="71.6" width="3.2" height="3.2" rx=".8"/>
<rect x="434.9" y="74.0" width="3.2" height="3.2" rx=".8"/>
<rect x="439.4" y="77.9" width="3.2" height="3.2" rx=".8"/>
<rect x="434.7" y="71.0" width="3.2" height="3.2" rx=".8"/>
<rect x="435.9" y="71.9" width="3.2" height="3.2" rx=".8"/>
<rect x="436.4" y="76.2" width="3.2" height="3.2" rx=".8"/>
<rect x="439.5" y="72.0" width="3.2" height="3.2" rx=".8"/>
<rect x="435.9" y="72.4" width="3.2" height="3.2" rx=".8"/>
<rect x="435.8" y="76.6" width="3.2" height="3.2" rx=".8"/>
<rect x="437.0" y="74.8" width="3.2" height="3.2" rx=".8"/>
<rect x="441.4" y="74.2" width="3.2" height="3.2" rx=".8"/>
<rect x="436.6" y="77.7" width="3.2" height="3.2" rx=".8"/>
<rect x="444.3" y="74.7" width="3.2" height="3.2" rx=".8"/>
<rect x="449.6" y="74.2" width="3.2" height="3.2" rx=".8"/>
<rect x="443.3" y="70.4" width="3.2" height="3.2" rx=".8"/>
<rect x="449.6" y="76.9" width="3.2" height="3.2" rx=".8"/>
<rect x="444.7" y="74.6" width="3.2" height="3.2" rx=".8"/>
<rect x="445.8" y="72.4" width="3.2" height="3.2" rx=".8"/>
<rect x="449.9" y="75.7" width="3.2" height="3.2" rx=".8"/>
<rect x="443.4" y="70.1" width="3.2" height="3.2" rx=".8"/>
<rect x="445.5" y="73.2" width="3.2" height="3.2" rx=".8"/>
<rect x="448.3" y="76.2" width="3.2" height="3.2" rx=".8"/>
<rect x="446.6" y="71.4" width="3.2" height="3.2" rx=".8"/>
<rect x="442.7" y="72.8" width="3.2" height="3.2" rx=".8"/>
<rect x="455.9" y="74.5" width="3.2" height="3.2" rx=".8"/>
<rect x="453.9" y="78.6" width="3.2" height="3.2" rx=".8"/>
<rect x="450.7" y="74.6" width="3.2" height="3.2" rx=".8"/>
<rect x="449.7" y="76.7" width="3.2" height="3.2" rx=".8"/>
<rect x="448.4" y="77.1" width="3.2" height="3.2" rx=".8"/>
<rect x="455.7" y="77.1" width="3.2" height="3.2" rx=".8"/>
<rect x="449.1" y="72.3" width="3.2" height="3.2" rx=".8"/>
<rect x="456.3" y="74.2" width="3.2" height="3.2" rx=".8"/>
<rect x="459.5" y="78.3" width="3.2" height="3.2" rx=".8"/>
<rect x="469.9" y="72.6" width="3.2" height="3.2" rx=".8"/>
<rect x="469.3" y="73.6" width="3.2" height="3.2" rx=".8"/>
<rect x="470.4" y="70.8" width="3.2" height="3.2" rx=".8"/>
<rect x="469.6" y="71.8" width="3.2" height="3.2" rx=".8"/>
<rect x="467.2" y="74.6" width="3.2" height="3.2" rx=".8"/>
<rect x="476.7" y="72.7" width="3.2" height="3.2" rx=".8"/>
<rect x="472.2" y="70.7" width="3.2" height="3.2" rx=".8"/>
<rect x="472.1" y="74.1" width="3.2" height="3.2" rx=".8"/>
<rect x="475.7" y="73.1" width="3.2" height="3.2" rx=".8"/>
<rect x="477.4" y="73.4" width="3.2" height="3.2" rx=".8"/>
<rect x="480.5" y="78.4" width="3.2" height="3.2" rx=".8"/>
<rect x="483.7" y="75.7" width="3.2" height="3.2" rx=".8"/>
<rect x="476.6" y="73.3" width="3.2" height="3.2" rx=".8"/>
<rect x="482.7" y="72.1" width="3.2" height="3.2" rx=".8"/>
<rect x="481.4" y="74.0" width="3.2" height="3.2" rx=".8"/>
<rect x="476.6" y="78.6" width="3.2" height="3.2" rx=".8"/>
<rect x="483.4" y="71.8" width="3.2" height="3.2" rx=".8"/>
<rect x="481.8" y="72.5" width="3.2" height="3.2" rx=".8"/>
<rect x="479.8" y="74.7" width="3.2" height="3.2" rx=".8"/>
<rect x="479.1" y="72.9" width="3.2" height="3.2" rx=".8"/>
<rect x="479.9" y="75.8" width="3.2" height="3.2" rx=".8"/>
<rect x="485.3" y="76.3" width="3.2" height="3.2" rx=".8"/>
<rect x="486.4" y="78.2" width="3.2" height="3.2" rx=".8"/>
<rect x="488.4" y="76.3" width="3.2" height="3.2" rx=".8"/>
<rect x="486.4" y="77.2" width="3.2" height="3.2" rx=".8"/>
<rect x="491.8" y="70.8" width="3.2" height="3.2" rx=".8"/>
<rect x="407.8" y="80.5" width="3.2" height="3.2" rx=".8"/>
<rect x="418.4" y="77.8" width="3.2" height="3.2" rx=".8"/>
<rect x="415.2" y="78.4" width="3.2" height="3.2" rx=".8"/>
<rect x="423.8" y="77.7" width="3.2" height="3.2" rx=".8"/>
<rect x="428.2" y="80.7" width="3.2" height="3.2" rx=".8"/>
<rect x="424.7" y="82.6" width="3.2" height="3.2" rx=".8"/>
<rect x="426.9" y="84.1" width="3.2" height="3.2" rx=".8"/>
<rect x="430.2" y="80.6" width="3.2" height="3.2" rx=".8"/>
<rect x="427.5" y="80.5" width="3.2" height="3.2" rx=".8"/>
<rect x="433.4" y="85.5" width="3.2" height="3.2" rx=".8"/>
<rect x="434.1" y="82.7" width="3.2" height="3.2" rx=".8"/>
<rect x="432.6" y="77.2" width="3.2" height="3.2" rx=".8"/>
<rect x="430.2" y="80.0" width="3.2" height="3.2" rx=".8"/>
<rect x="432.9" y="78.0" width="3.2" height="3.2" rx=".8"/>
<rect x="430.6" y="81.4" width="3.2" height="3.2" rx=".8"/>
<rect x="434.1" y="84.2" width="3.2" height="3.2" rx=".8"/>
<rect x="435.7" y="83.7" width="3.2" height="3.2" rx=".8"/>
<rect x="442.1" y="81.8" width="3.2" height="3.2" rx=".8"/>
<rect x="437.4" y="81.4" width="3.2" height="3.2" rx=".8"/>
<rect x="435.6" y="83.2" width="3.2" height="3.2" rx=".8"/>
<rect x="442.9" y="81.5" width="3.2" height="3.2" rx=".8"/>
<rect x="440.5" y="84.3" width="3.2" height="3.2" rx=".8"/>
<rect x="436.1" y="85.2" width="3.2" height="3.2" rx=".8"/>
<rect x="439.8" y="78.8" width="3.2" height="3.2" rx=".8"/>
<rect x="435.1" y="79.2" width="3.2" height="3.2" rx=".8"/>
<rect x="439.3" y="83.1" width="3.2" height="3.2" rx=".8"/>
<rect x="437.2" y="85.1" width="3.2" height="3.2" rx=".8"/>
<rect x="437.5" y="81.0" width="3.2" height="3.2" rx=".8"/>
<rect x="435.4" y="85.5" width="3.2" height="3.2" rx=".8"/>
<rect x="435.5" y="84.9" width="3.2" height="3.2" rx=".8"/>
<rect x="439.0" y="81.9" width="3.2" height="3.2" rx=".8"/>
<rect x="439.2" y="79.3" width="3.2" height="3.2" rx=".8"/>
<rect x="442.2" y="85.6" width="3.2" height="3.2" rx=".8"/>
<rect x="446.6" y="78.1" width="3.2" height="3.2" rx=".8"/>
<rect x="448.5" y="79.5" width="3.2" height="3.2" rx=".8"/>
<rect x="449.1" y="79.1" width="3.2" height="3.2" rx=".8"/>
<rect x="446.3" y="84.2" width="3.2" height="3.2" rx=".8"/>
<rect x="443.0" y="81.8" width="3.2" height="3.2" rx=".8"/>
<rect x="442.0" y="77.3" width="3.2" height="3.2" rx=".8"/>
<rect x="442.9" y="85.6" width="3.2" height="3.2" rx=".8"/>
<rect x="449.5" y="82.7" width="3.2" height="3.2" rx=".8"/>
<rect x="444.0" y="82.8" width="3.2" height="3.2" rx=".8"/>
<rect x="447.7" y="80.3" width="3.2" height="3.2" rx=".8"/>
<rect x="446.5" y="84.0" width="3.2" height="3.2" rx=".8"/>
<rect x="441.5" y="78.8" width="3.2" height="3.2" rx=".8"/>
<rect x="449.6" y="80.4" width="3.2" height="3.2" rx=".8"/>
<rect x="453.3" y="78.5" width="3.2" height="3.2" rx=".8"/>
<rect x="452.9" y="79.3" width="3.2" height="3.2" rx=".8"/>
<rect x="453.3" y="79.9" width="3.2" height="3.2" rx=".8"/>
<rect x="453.9" y="77.4" width="3.2" height="3.2" rx=".8"/>
<rect x="454.2" y="78.3" width="3.2" height="3.2" rx=".8"/>
<rect x="456.7" y="82.2" width="3.2" height="3.2" rx=".8"/>
<rect x="459.0" y="82.4" width="3.2" height="3.2" rx=".8"/>
<rect x="461.4" y="83.6" width="3.2" height="3.2" rx=".8"/>
<rect x="461.9" y="81.2" width="3.2" height="3.2" rx=".8"/>
<rect x="464.0" y="84.3" width="3.2" height="3.2" rx=".8"/>
<rect x="466.0" y="80.8" width="3.2" height="3.2" rx=".8"/>
<rect x="467.4" y="84.9" width="3.2" height="3.2" rx=".8"/>
<rect x="467.0" y="81.6" width="3.2" height="3.2" rx=".8"/>
<rect x="466.2" y="84.9" width="3.2" height="3.2" rx=".8"/>
<rect x="465.2" y="77.5" width="3.2" height="3.2" rx=".8"/>
<rect x="468.7" y="84.8" width="3.2" height="3.2" rx=".8"/>
<rect x="468.8" y="82.2" width="3.2" height="3.2" rx=".8"/>
<rect x="472.1" y="82.2" width="3.2" height="3.2" rx=".8"/>
<rect x="470.1" y="78.1" width="3.2" height="3.2" rx=".8"/>
<rect x="473.4" y="81.4" width="3.2" height="3.2" rx=".8"/>
<rect x="472.9" y="77.5" width="3.2" height="3.2" rx=".8"/>
<rect x="481.1" y="79.1" width="3.2" height="3.2" rx=".8"/>
<rect x="479.2" y="80.5" width="3.2" height="3.2" rx=".8"/>
<rect x="478.6" y="77.6" width="3.2" height="3.2" rx=".8"/>
<rect x="484.4" y="85.4" width="3.2" height="3.2" rx=".8"/>
<rect x="482.3" y="84.5" width="3.2" height="3.2" rx=".8"/>
<rect x="480.2" y="84.0" width="3.2" height="3.2" rx=".8"/>
<rect x="478.4" y="83.5" width="3.2" height="3.2" rx=".8"/>
<rect x="491.4" y="77.9" width="3.2" height="3.2" rx=".8"/>
<rect x="490.4" y="78.1" width="3.2" height="3.2" rx=".8"/>
<rect x="488.2" y="85.3" width="3.2" height="3.2" rx=".8"/>
<rect x="483.6" y="79.2" width="3.2" height="3.2" rx=".8"/>
<rect x="486.1" y="79.9" width="3.2" height="3.2" rx=".8"/>
<rect x="498.3" y="84.1" width="3.2" height="3.2" rx=".8"/>
<rect x="494.0" y="80.1" width="3.2" height="3.2" rx=".8"/>
<rect x="406.6" y="84.3" width="3.2" height="3.2" rx=".8"/>
<rect x="414.0" y="86.7" width="3.2" height="3.2" rx=".8"/>
<rect x="410.5" y="92.1" width="3.2" height="3.2" rx=".8"/>
<rect x="414.7" y="88.2" width="3.2" height="3.2" rx=".8"/>
<rect x="408.0" y="86.6" width="3.2" height="3.2" rx=".8"/>
<rect x="421.0" y="85.8" width="3.2" height="3.2" rx=".8"/>
<rect x="423.3" y="88.2" width="3.2" height="3.2" rx=".8"/>
<rect x="421.8" y="91.7" width="3.2" height="3.2" rx=".8"/>
<rect x="429.1" y="89.5" width="3.2" height="3.2" rx=".8"/>
<rect x="429.0" y="91.7" width="3.2" height="3.2" rx=".8"/>
<rect x="427.8" y="85.0" width="3.2" height="3.2" rx=".8"/>
<rect x="437.1" y="91.8" width="3.2" height="3.2" rx=".8"/>
<rect x="441.9" y="90.2" width="3.2" height="3.2" rx=".8"/>
<rect x="435.5" y="90.1" width="3.2" height="3.2" rx=".8"/>
<rect x="442.4" y="87.9" width="3.2" height="3.2" rx=".8"/>
<rect x="435.0" y="86.0" width="3.2" height="3.2" rx=".8"/>
<rect x="437.0" y="90.2" width="3.2" height="3.2" rx=".8"/>
<rect x="436.0" y="85.6" width="3.2" height="3.2" rx=".8"/>
<rect x="436.4" y="89.8" width="3.2" height="3.2" rx=".8"/>
<rect x="441.2" y="87.3" width="3.2" height="3.2" rx=".8"/>
<rect x="449.0" y="89.2" width="3.2" height="3.2" rx=".8"/>
<rect x="443.4" y="86.7" width="3.2" height="3.2" rx=".8"/>
<rect x="449.4" y="89.8" width="3.2" height="3.2" rx=".8"/>
<rect x="443.8" y="89.6" width="3.2" height="3.2" rx=".8"/>
<rect x="442.2" y="92.6" width="3.2" height="3.2" rx=".8"/>
<rect x="453.0" y="88.7" width="3.2" height="3.2" rx=".8"/>
<rect x="448.8" y="89.3" width="3.2" height="3.2" rx=".8"/>
<rect x="450.9" y="86.2" width="3.2" height="3.2" rx=".8"/>
<rect x="455.3" y="84.8" width="3.2" height="3.2" rx=".8"/>
<rect x="450.9" y="90.6" width="3.2" height="3.2" rx=".8"/>
<rect x="450.5" y="86.5" width="3.2" height="3.2" rx=".8"/>
<rect x="453.1" y="85.7" width="3.2" height="3.2" rx=".8"/>
<rect x="456.2" y="92.6" width="3.2" height="3.2" rx=".8"/>
<rect x="448.7" y="88.1" width="3.2" height="3.2" rx=".8"/>
<rect x="454.9" y="87.4" width="3.2" height="3.2" rx=".8"/>
<rect x="456.4" y="88.4" width="3.2" height="3.2" rx=".8"/>
<rect x="450.0" y="88.9" width="3.2" height="3.2" rx=".8"/>
<rect x="458.5" y="89.8" width="3.2" height="3.2" rx=".8"/>
<rect x="462.2" y="88.5" width="3.2" height="3.2" rx=".8"/>
<rect x="459.8" y="91.4" width="3.2" height="3.2" rx=".8"/>
<rect x="461.3" y="88.6" width="3.2" height="3.2" rx=".8"/>
<rect x="463.7" y="85.6" width="3.2" height="3.2" rx=".8"/>
<rect x="462.2" y="85.5" width="3.2" height="3.2" rx=".8"/>
<rect x="460.7" y="86.1" width="3.2" height="3.2" rx=".8"/>
<rect x="459.2" y="90.8" width="3.2" height="3.2" rx=".8"/>
<rect x="462.2" y="90.9" width="3.2" height="3.2" rx=".8"/>
<rect x="457.5" y="88.3" width="3.2" height="3.2" rx=".8"/>
<rect x="457.3" y="89.1" width="3.2" height="3.2" rx=".8"/>
<rect x="459.7" y="84.4" width="3.2" height="3.2" rx=".8"/>
<rect x="468.6" y="89.0" width="3.2" height="3.2" rx=".8"/>
<rect x="470.0" y="85.6" width="3.2" height="3.2" rx=".8"/>
<rect x="463.8" y="84.2" width="3.2" height="3.2" rx=".8"/>
<rect x="466.8" y="87.8" width="3.2" height="3.2" rx=".8"/>
<rect x="466.3" y="86.3" width="3.2" height="3.2" rx=".8"/>
<rect x="469.4" y="84.7" width="3.2" height="3.2" rx=".8"/>
<rect x="470.3" y="89.0" width="3.2" height="3.2" rx=".8"/>
<rect x="467.2" y="90.9" width="3.2" height="3.2" rx=".8"/>
<rect x="464.5" y="85.3" width="3.2" height="3.2" rx=".8"/>
<rect x="469.9" y="86.8" width="3.2" height="3.2" rx=".8"/>
<rect x="474.9" y="88.6" width="3.2" height="3.2" rx=".8"/>
<rect x="471.8" y="89.2" width="3.2" height="3.2" rx=".8"/>
<rect x="483.6" y="85.6" width="3.2" height="3.2" rx=".8"/>
<rect x="478.7" y="85.5" width="3.2" height="3.2" rx=".8"/>
<rect x="482.5" y="91.3" width="3.2" height="3.2" rx=".8"/>
<rect x="406.8" y="94.7" width="3.2" height="3.2" rx=".8"/>
<rect x="415.1" y="99.5" width="3.2" height="3.2" rx=".8"/>
<rect x="413.6" y="95.3" width="3.2" height="3.2" rx=".8"/>
<rect x="419.8" y="99.6" width="3.2" height="3.2" rx=".8"/>
<rect x="438.3" y="97.5" width="3.2" height="3.2" rx=".8"/>
<rect x="434.7" y="93.2" width="3.2" height="3.2" rx=".8"/>
<rect x="442.0" y="92.3" width="3.2" height="3.2" rx=".8"/>
<rect x="437.7" y="93.7" width="3.2" height="3.2" rx=".8"/>
<rect x="442.0" y="91.4" width="3.2" height="3.2" rx=".8"/>
<rect x="450.0" y="97.7" width="3.2" height="3.2" rx=".8"/>
<rect x="447.7" y="93.1" width="3.2" height="3.2" rx=".8"/>
<rect x="443.6" y="95.9" width="3.2" height="3.2" rx=".8"/>
<rect x="443.5" y="95.1" width="3.2" height="3.2" rx=".8"/>
<rect x="449.4" y="94.3" width="3.2" height="3.2" rx=".8"/>
<rect x="444.3" y="99.6" width="3.2" height="3.2" rx=".8"/>
<rect x="446.7" y="91.5" width="3.2" height="3.2" rx=".8"/>
<rect x="444.9" y="96.7" width="3.2" height="3.2" rx=".8"/>
<rect x="441.9" y="94.1" width="3.2" height="3.2" rx=".8"/>
<rect x="447.4" y="98.6" width="3.2" height="3.2" rx=".8"/>
<rect x="446.5" y="98.8" width="3.2" height="3.2" rx=".8"/>
<rect x="451.8" y="98.4" width="3.2" height="3.2" rx=".8"/>
<rect x="451.7" y="97.9" width="3.2" height="3.2" rx=".8"/>
<rect x="450.3" y="94.1" width="3.2" height="3.2" rx=".8"/>
<rect x="450.0" y="95.9" width="3.2" height="3.2" rx=".8"/>
<rect x="449.8" y="92.9" width="3.2" height="3.2" rx=".8"/>
<rect x="450.3" y="95.1" width="3.2" height="3.2" rx=".8"/>
<rect x="451.1" y="95.0" width="3.2" height="3.2" rx=".8"/>
<rect x="457.0" y="97.0" width="3.2" height="3.2" rx=".8"/>
<rect x="455.9" y="92.9" width="3.2" height="3.2" rx=".8"/>
<rect x="456.1" y="97.1" width="3.2" height="3.2" rx=".8"/>
<rect x="458.6" y="93.5" width="3.2" height="3.2" rx=".8"/>
<rect x="455.6" y="92.7" width="3.2" height="3.2" rx=".8"/>
<rect x="457.7" y="94.5" width="3.2" height="3.2" rx=".8"/>
<rect x="463.4" y="97.3" width="3.2" height="3.2" rx=".8"/>
<rect x="457.8" y="94.2" width="3.2" height="3.2" rx=".8"/>
<rect x="456.8" y="99.2" width="3.2" height="3.2" rx=".8"/>
<rect x="458.5" y="97.7" width="3.2" height="3.2" rx=".8"/>
<rect x="461.7" y="98.9" width="3.2" height="3.2" rx=".8"/>
<rect x="455.6" y="93.9" width="3.2" height="3.2" rx=".8"/>
<rect x="458.8" y="91.8" width="3.2" height="3.2" rx=".8"/>
<rect x="463.1" y="93.9" width="3.2" height="3.2" rx=".8"/>
<rect x="467.0" y="91.6" width="3.2" height="3.2" rx=".8"/>
<rect x="465.9" y="93.2" width="3.2" height="3.2" rx=".8"/>
<rect x="462.8" y="92.4" width="3.2" height="3.2" rx=".8"/>
<rect x="467.6" y="91.4" width="3.2" height="3.2" rx=".8"/>
<rect x="465.2" y="94.8" width="3.2" height="3.2" rx=".8"/>
<rect x="467.2" y="92.3" width="3.2" height="3.2" rx=".8"/>
<rect x="468.6" y="93.4" width="3.2" height="3.2" rx=".8"/>
<rect x="468.7" y="96.9" width="3.2" height="3.2" rx=".8"/>
<rect x="463.7" y="92.9" width="3.2" height="3.2" rx=".8"/>
<rect x="475.7" y="94.6" width="3.2" height="3.2" rx=".8"/>
<rect x="472.8" y="98.6" width="3.2" height="3.2" rx=".8"/>
<rect x="482.5" y="199.3" width="3.2" height="3.2" rx=".8"/>
<rect x="480.3" y="196.3" width="3.2" height="3.2" rx=".8"/>
<rect x="482.9" y="194.3" width="3.2" height="3.2" rx=".8"/>
<rect x="478.2" y="184.7" width="3.2" height="3.2" rx=".8"/>
<rect x="486.2" y="178.5" width="3.2" height="3.2" rx=".8"/>
<rect x="480.1" y="202.0" width="3.2" height="3.2" rx=".8"/>
<rect x="484.6" y="192.6" width="3.2" height="3.2" rx=".8"/>
<rect x="479.6" y="182.6" width="3.2" height="3.2" rx=".8"/>
<rect x="490.3" y="194.5" width="3.2" height="3.2" rx=".8"/>
<rect x="482.6" y="203.4" width="3.2" height="3.2" rx=".8"/>
<rect x="485.8" y="199.5" width="3.2" height="3.2" rx=".8"/>
<rect x="480.8" y="194.2" width="3.2" height="3.2" rx=".8"/>
<rect x="479.1" y="195.8" width="3.2" height="3.2" rx=".8"/>
<rect x="478.5" y="191.4" width="3.2" height="3.2" rx=".8"/>
<rect x="484.4" y="200.6" width="3.2" height="3.2" rx=".8"/>
<rect x="479.4" y="192.5" width="3.2" height="3.2" rx=".8"/>
<rect x="480.4" y="188.1" width="3.2" height="3.2" rx=".8"/>
<rect x="485.3" y="198.8" width="3.2" height="3.2" rx=".8"/>
<rect x="479.8" y="193.9" width="3.2" height="3.2" rx=".8"/>
<rect x="476.2" y="184.7" width="3.2" height="3.2" rx=".8"/>
<rect x="475.7" y="186.2" width="3.2" height="3.2" rx=".8"/>
<rect x="486.2" y="196.9" width="3.2" height="3.2" rx=".8"/>
<rect x="481.0" y="194.7" width="3.2" height="3.2" rx=".8"/>
<rect x="480.8" y="194.0" width="3.2" height="3.2" rx=".8"/>
<rect x="476.3" y="190.3" width="3.2" height="3.2" rx=".8"/>
<rect x="478.3" y="192.4" width="3.2" height="3.2" rx=".8"/>
<rect x="482.0" y="194.9" width="3.2" height="3.2" rx=".8"/>
<rect x="476.8" y="202.1" width="3.2" height="3.2" rx=".8"/>
<rect x="478.9" y="189.4" width="3.2" height="3.2" rx=".8"/>
<rect x="480.6" y="188.8" width="3.2" height="3.2" rx=".8"/>
<rect x="476.2" y="191.7" width="3.2" height="3.2" rx=".8"/>
<rect x="485.9" y="193.9" width="3.2" height="3.2" rx=".8"/>
<rect x="472.9" y="180.5" width="3.2" height="3.2" rx=".8"/>
<rect x="482.8" y="184.4" width="3.2" height="3.2" rx=".8"/>
<rect x="478.8" y="186.7" width="3.2" height="3.2" rx=".8"/>
<rect x="479.0" y="194.4" width="3.2" height="3.2" rx=".8"/>
<rect x="486.2" y="183.6" width="3.2" height="3.2" rx=".8"/>
<rect x="475.1" y="199.4" width="3.2" height="3.2" rx=".8"/>
<rect x="484.3" y="195.6" width="3.2" height="3.2" rx=".8"/>
<rect x="478.3" y="190.9" width="3.2" height="3.2" rx=".8"/>
<rect x="474.4" y="203.4" width="3.2" height="3.2" rx=".8"/>
<rect x="483.7" y="198.0" width="3.2" height="3.2" rx=".8"/>
<rect x="482.9" y="204.2" width="3.2" height="3.2" rx=".8"/>
<rect x="482.0" y="193.7" width="3.2" height="3.2" rx=".8"/>
<rect x="477.9" y="189.1" width="3.2" height="3.2" rx=".8"/>
<rect x="482.3" y="201.6" width="3.2" height="3.2" rx=".8"/>
<rect x="478.8" y="184.5" width="3.2" height="3.2" rx=".8"/>
<rect x="478.1" y="184.9" width="3.2" height="3.2" rx=".8"/>
<rect x="487.5" y="181.0" width="3.2" height="3.2" rx=".8"/>
<rect x="480.0" y="197.7" width="3.2" height="3.2" rx=".8"/>
<rect x="484.8" y="191.2" width="3.2" height="3.2" rx=".8"/>
<rect x="480.6" y="182.3" width="3.2" height="3.2" rx=".8"/>
<rect x="477.7" y="174.6" width="3.2" height="3.2" rx=".8"/>
<rect x="483.1" y="190.5" width="3.2" height="3.2" rx=".8"/>
<rect x="478.4" y="185.8" width="3.2" height="3.2" rx=".8"/>
<rect x="478.2" y="188.6" width="3.2" height="3.2" rx=".8"/>
<rect x="480.4" y="203.5" width="3.2" height="3.2" rx=".8"/>
<rect x="478.9" y="190.5" width="3.2" height="3.2" rx=".8"/>
<rect x="482.0" y="199.5" width="3.2" height="3.2" rx=".8"/>
<rect x="484.3" y="202.1" width="3.2" height="3.2" rx=".8"/>
<rect x="483.1" y="195.8" width="3.2" height="3.2" rx=".8"/>
<rect x="483.8" y="195.8" width="3.2" height="3.2" rx=".8"/>
<rect x="481.4" y="189.8" width="3.2" height="3.2" rx=".8"/>
<rect x="474.9" y="192.7" width="3.2" height="3.2" rx=".8"/>
<rect x="479.5" y="192.4" width="3.2" height="3.2" rx=".8"/>
<rect x="487.8" y="186.6" width="3.2" height="3.2" rx=".8"/>
<rect x="485.1" y="197.0" width="3.2" height="3.2" rx=".8"/>
<rect x="474.3" y="188.3" width="3.2" height="3.2" rx=".8"/>
<rect x="476.7" y="197.0" width="3.2" height="3.2" rx=".8"/>
<rect x="481.9" y="204.2" width="3.2" height="3.2" rx=".8"/>
<rect x="480.2" y="197.8" width="3.2" height="3.2" rx=".8"/>
<rect x="482.5" y="180.6" width="3.2" height="3.2" rx=".8"/>
<rect x="484.6" y="187.2" width="3.2" height="3.2" rx=".8"/>
<rect x="476.1" y="195.0" width="3.2" height="3.2" rx=".8"/>
<rect x="476.2" y="180.9" width="3.2" height="3.2" rx=".8"/>
<rect x="482.7" y="190.5" width="3.2" height="3.2" rx=".8"/>
<rect x="477.4" y="197.8" width="3.2" height="3.2" rx=".8"/>
<rect x="482.3" y="197.9" width="3.2" height="3.2" rx=".8"/>
<rect x="487.7" y="197.6" width="3.2" height="3.2" rx=".8"/>
<rect x="492.6" y="193.1" width="3.2" height="3.2" rx=".8"/>
<rect x="486.4" y="203.8" width="3.2" height="3.2" rx=".8"/>
<rect x="476.7" y="194.9" width="3.2" height="3.2" rx=".8"/>
<rect x="474.0" y="198.3" width="3.2" height="3.2" rx=".8"/>
<rect x="483.4" y="194.1" width="3.2" height="3.2" rx=".8"/>
<rect x="481.5" y="189.8" width="3.2" height="3.2" rx=".8"/>
<rect x="485.4" y="196.9" width="3.2" height="3.2" rx=".8"/>
<rect x="480.4" y="170.9" width="3.2" height="3.2" rx=".8"/>
<rect x="484.8" y="199.3" width="3.2" height="3.2" rx=".8"/>
<rect x="487.3" y="198.0" width="3.2" height="3.2" rx=".8"/>
<rect x="477.9" y="191.6" width="3.2" height="3.2" rx=".8"/>
<rect x="479.2" y="203.2" width="3.2" height="3.2" rx=".8"/>
<rect x="483.9" y="189.8" width="3.2" height="3.2" rx=".8"/>
<rect x="477.4" y="196.6" width="3.2" height="3.2" rx=".8"/>
<rect x="483.2" y="174.9" width="3.2" height="3.2" rx=".8"/>
<rect x="476.9" y="197.1" width="3.2" height="3.2" rx=".8"/>
<rect x="474.6" y="185.5" width="3.2" height="3.2" rx=".8"/>
<rect x="483.6" y="197.7" width="3.2" height="3.2" rx=".8"/>
<rect x="489.8" y="208.0" width="3.2" height="3.2" rx=".8"/>
<rect x="482.0" y="201.3" width="3.2" height="3.2" rx=".8"/>
<rect x="484.8" y="199.2" width="3.2" height="3.2" rx=".8"/>
<rect x="487.5" y="197.7" width="3.2" height="3.2" rx=".8"/>
<rect x="485.7" y="203.1" width="3.2" height="3.2" rx=".8"/>
<rect x="481.5" y="198.0" width="3.2" height="3.2" rx=".8"/>
<rect x="477.9" y="191.7" width="3.2" height="3.2" rx=".8"/>
<rect x="481.9" y="195.6" width="3.2" height="3.2" rx=".8"/>
<rect x="490.4" y="204.0" width="3.2" height="3.2" rx=".8"/>
<rect x="481.4" y="195.6" width="3.2" height="3.2" rx=".8"/>
<rect x="484.0" y="201.8" width="3.2" height="3.2" rx=".8"/>
<rect x="484.9" y="195.0" width="3.2" height="3.2" rx=".8"/>
<rect x="485.3" y="189.5" width="3.2" height="3.2" rx=".8"/>
<rect x="475.3" y="195.8" width="3.2" height="3.2" rx=".8"/>
<rect x="480.8" y="194.1" width="3.2" height="3.2" rx=".8"/>
<rect x="476.0" y="186.7" width="3.2" height="3.2" rx=".8"/>
<rect x="479.5" y="188.1" width="3.2" height="3.2" rx=".8"/>
<rect x="490.0" y="193.0" width="3.2" height="3.2" rx=".8"/>
<rect x="486.7" y="195.9" width="3.2" height="3.2" rx=".8"/>
<rect x="485.5" y="186.0" width="3.2" height="3.2" rx=".8"/>
<rect x="482.5" y="195.1" width="3.2" height="3.2" rx=".8"/>
<rect x="483.1" y="197.0" width="3.2" height="3.2" rx=".8"/>
<rect x="485.6" y="198.5" width="3.2" height="3.2" rx=".8"/>
<rect x="482.1" y="187.6" width="3.2" height="3.2" rx=".8"/>
<rect x="481.4" y="192.9" width="3.2" height="3.2" rx=".8"/>
<rect x="484.7" y="211.8" width="3.2" height="3.2" rx=".8"/>
<rect x="487.3" y="197.1" width="3.2" height="3.2" rx=".8"/>
<rect x="484.8" y="183.8" width="3.2" height="3.2" rx=".8"/>
<rect x="481.6" y="186.3" width="3.2" height="3.2" rx=".8"/>
<rect x="484.6" y="182.9" width="3.2" height="3.2" rx=".8"/>
<rect x="483.4" y="174.4" width="3.2" height="3.2" rx=".8"/>
<rect x="490.5" y="208.4" width="3.2" height="3.2" rx=".8"/>
<rect x="476.5" y="196.3" width="3.2" height="3.2" rx=".8"/>
<rect x="482.0" y="208.4" width="3.2" height="3.2" rx=".8"/>
<rect x="487.6" y="198.0" width="3.2" height="3.2" rx=".8"/>
<rect x="482.6" y="200.5" width="3.2" height="3.2" rx=".8"/>
<rect x="477.7" y="198.2" width="3.2" height="3.2" rx=".8"/>
<rect x="483.5" y="188.3" width="3.2" height="3.2" rx=".8"/>
<rect x="479.4" y="187.0" width="3.2" height="3.2" rx=".8"/>
<rect x="480.3" y="207.0" width="3.2" height="3.2" rx=".8"/>
<rect x="481.2" y="195.6" width="3.2" height="3.2" rx=".8"/>
<rect x="478.4" y="201.0" width="3.2" height="3.2" rx=".8"/>
<rect x="483.7" y="205.4" width="3.2" height="3.2" rx=".8"/>
<rect x="475.8" y="186.7" width="3.2" height="3.2" rx=".8"/>
<rect x="482.9" y="196.8" width="3.2" height="3.2" rx=".8"/>
<rect x="484.5" y="199.8" width="3.2" height="3.2" rx=".8"/>
<rect x="481.5" y="193.5" width="3.2" height="3.2" rx=".8"/>
<rect x="477.6" y="190.7" width="3.2" height="3.2" rx=".8"/>
<rect x="479.7" y="199.7" width="3.2" height="3.2" rx=".8"/>
<rect x="484.8" y="193.7" width="3.2" height="3.2" rx=".8"/>
<rect x="484.8" y="190.9" width="3.2" height="3.2" rx=".8"/>
<rect x="482.1" y="190.2" width="3.2" height="3.2" rx=".8"/>
<rect x="486.5" y="195.5" width="3.2" height="3.2" rx=".8"/>
<rect x="484.9" y="194.0" width="3.2" height="3.2" rx=".8"/>
<rect x="476.4" y="195.9" width="3.2" height="3.2" rx=".8"/>
<rect x="483.5" y="199.2" width="3.2" height="3.2" rx=".8"/>
<rect x="477.4" y="175.8" width="3.2" height="3.2" rx=".8"/>
<rect x="480.8" y="196.6" width="3.2" height="3.2" rx=".8"/>
<rect x="473.9" y="204.7" width="3.2" height="3.2" rx=".8"/>
<rect x="485.6" y="203.3" width="3.2" height="3.2" rx=".8"/>
<rect x="477.5" y="197.6" width="3.2" height="3.2" rx=".8"/>
<rect x="483.4" y="203.4" width="3.2" height="3.2" rx=".8"/>
<rect x="488.4" y="188.5" width="3.2" height="3.2" rx=".8"/>
<rect x="478.5" y="185.4" width="3.2" height="3.2" rx=".8"/>
<rect x="480.1" y="190.9" width="3.2" height="3.2" rx=".8"/>
<rect x="485.4" y="186.5" width="3.2" height="3.2" rx=".8"/>
<rect x="475.9" y="192.7" width="3.2" height="3.2" rx=".8"/>
<rect x="478.3" y="194.5" width="3.2" height="3.2" rx=".8"/>
<rect x="482.7" y="203.0" width="3.2" height="3.2" rx=".8"/>
<rect x="477.4" y="187.0" width="3.2" height="3.2" rx=".8"/>
<rect x="487.9" y="198.8" width="3.2" height="3.2" rx=".8"/>
<rect x="476.6" y="193.2" width="3.2" height="3.2" rx=".8"/>
<rect x="473.7" y="179.6" width="3.2" height="3.2" rx=".8"/>
<rect x="484.8" y="201.3" width="3.2" height="3.2" rx=".8"/>
<rect x="489.0" y="197.1" width="3.2" height="3.2" rx=".8"/>
<rect x="479.3" y="202.1" width="3.2" height="3.2" rx=".8"/>
<rect x="486.4" y="195.5" width="3.2" height="3.2" rx=".8"/>
<rect x="483.5" y="191.7" width="3.2" height="3.2" rx=".8"/>
<rect x="487.0" y="195.9" width="3.2" height="3.2" rx=".8"/>
<rect x="482.8" y="206.9" width="3.2" height="3.2" rx=".8"/>
<rect x="476.0" y="176.8" width="3.2" height="3.2" rx=".8"/>
<rect x="485.7" y="184.8" width="3.2" height="3.2" rx=".8"/>
<rect x="468.4" y="183.7" width="3.2" height="3.2" rx=".8"/>
<rect x="490.0" y="203.6" width="3.2" height="3.2" rx=".8"/>
<rect x="481.2" y="187.9" width="3.2" height="3.2" rx=".8"/>
<rect x="483.7" y="187.3" width="3.2" height="3.2" rx=".8"/>
<rect x="473.6" y="185.3" width="3.2" height="3.2" rx=".8"/>
<rect x="483.2" y="199.3" width="3.2" height="3.2" rx=".8"/>
<rect x="476.7" y="183.0" width="3.2" height="3.2" rx=".8"/>
<rect x="469.6" y="182.2" width="3.2" height="3.2" rx=".8"/>
<rect x="474.2" y="184.0" width="3.2" height="3.2" rx=".8"/>
<rect x="480.9" y="178.7" width="3.2" height="3.2" rx=".8"/>
<rect x="478.7" y="180.4" width="3.2" height="3.2" rx=".8"/>
<rect x="485.3" y="181.1" width="3.2" height="3.2" rx=".8"/>
<rect x="480.7" y="186.1" width="3.2" height="3.2" rx=".8"/>
<rect x="479.0" y="184.4" width="3.2" height="3.2" rx=".8"/>
<rect x="472.2" y="188.5" width="3.2" height="3.2" rx=".8"/>
<rect x="479.2" y="182.7" width="3.2" height="3.2" rx=".8"/>
<rect x="480.0" y="186.4" width="3.2" height="3.2" rx=".8"/>
<rect x="481.9" y="180.7" width="3.2" height="3.2" rx=".8"/>
<rect x="479.5" y="183.3" width="3.2" height="3.2" rx=".8"/>
<rect x="481.3" y="183.8" width="3.2" height="3.2" rx=".8"/>
<rect x="470.9" y="179.7" width="3.2" height="3.2" rx=".8"/>
<rect x="477.4" y="182.1" width="3.2" height="3.2" rx=".8"/>
<rect x="475.3" y="181.3" width="3.2" height="3.2" rx=".8"/>
<rect x="482.4" y="184.1" width="3.2" height="3.2" rx=".8"/>
<rect x="475.1" y="187.5" width="3.2" height="3.2" rx=".8"/>
<rect x="476.7" y="187.6" width="3.2" height="3.2" rx=".8"/>
<rect x="476.8" y="182.2" width="3.2" height="3.2" rx=".8"/>
<rect x="483.2" y="187.0" width="3.2" height="3.2" rx=".8"/>
<rect x="475.3" y="184.2" width="3.2" height="3.2" rx=".8"/>
<rect x="486.8" y="188.3" width="3.2" height="3.2" rx=".8"/>
<rect x="474.3" y="182.2" width="3.2" height="3.2" rx=".8"/>
<rect x="483.3" y="192.5" width="3.2" height="3.2" rx=".8"/>
<rect x="475.0" y="179.6" width="3.2" height="3.2" rx=".8"/>
<rect x="475.1" y="185.8" width="3.2" height="3.2" rx=".8"/>
<rect x="475.5" y="184.8" width="3.2" height="3.2" rx=".8"/>
<rect x="474.3" y="181.7" width="3.2" height="3.2" rx=".8"/>
<rect x="497.5" y="195.3" width="3.2" height="3.2" rx=".8"/>
<rect x="494.6" y="196.2" width="3.2" height="3.2" rx=".8"/>
<rect x="498.4" y="194.7" width="3.2" height="3.2" rx=".8"/>
<rect x="496.5" y="193.6" width="3.2" height="3.2" rx=".8"/>
<rect x="495.5" y="194.1" width="3.2" height="3.2" rx=".8"/>
<rect x="497.9" y="194.1" width="3.2" height="3.2" rx=".8"/>
<rect x="497.7" y="197.8" width="3.2" height="3.2" rx=".8"/>
<rect x="494.5" y="200.3" width="3.2" height="3.2" rx=".8"/>
<rect x="494.0" y="198.5" width="3.2" height="3.2" rx=".8"/>
<rect x="495.7" y="195.7" width="3.2" height="3.2" rx=".8"/>
<rect x="435.1" y="109.1" width="2.8" height="2.8" rx=".8"/>
<rect x="437.6" y="110.6" width="2.8" height="2.8" rx=".8"/>
<rect x="440.4" y="108.9" width="2.8" height="2.8" rx=".8"/>
<rect x="438.1" y="107.6" width="2.8" height="2.8" rx=".8"/>
<rect x="445.2" y="103.1" width="2.8" height="2.8" rx=".8"/>
<rect x="447.6" y="105.6" width="2.8" height="2.8" rx=".8"/>
<rect x="450.6" y="103.6" width="2.8" height="2.8" rx=".8"/>
<rect x="453.1" y="106.6" width="2.8" height="2.8" rx=".8"/>
<rect x="454.6" y="103.1" width="2.8" height="2.8" rx=".8"/>
<rect x="460.4" y="101.6" width="2.8" height="2.8" rx=".8"/>
<rect x="462.6" y="104.1" width="2.8" height="2.8" rx=".8"/>
<rect x="465.1" y="102.1" width="2.8" height="2.8" rx=".8"/>
<rect x="467.1" y="105.6" width="2.8" height="2.8" rx=".8"/>
<rect x="469.1" y="103.1" width="2.8" height="2.8" rx=".8"/>
<rect x="470.9" y="107.1" width="2.8" height="2.8" rx=".8"/>
<rect x="465.6" y="108.1" width="2.8" height="2.8" rx=".8"/>
<rect x="456.6" y="115.7" width="2.8" height="2.8" rx=".8"/>
<rect x="440.5" y="120.1" width="2.8" height="2.8" rx=".8"/>
<rect x="442.4" y="122.6" width="2.8" height="2.8" rx=".8"/>
<rect x="440.6" y="124.1" width="2.8" height="2.8" rx=".8"/>
<rect x="468.0" y="127.5" width="2.8" height="2.8" rx=".8"/>
<rect x="472.8" y="127.5" width="2.8" height="2.8" rx=".8"/>
<rect x="451.9" y="138.9" width="2.8" height="2.8" rx=".8"/>
<rect x="435.7" y="144.2" width="2.8" height="2.8" rx=".8"/>
<rect x="437.8" y="145.0" width="2.8" height="2.8" rx=".8"/>
<rect x="439.5" y="149.9" width="2.8" height="2.8" rx=".8"/>
<rect x="447.1" y="146.1" width="2.8" height="2.8" rx=".8"/>
<rect x="448.6" y="148.4" width="2.8" height="2.8" rx=".8"/>
<rect x="450.0" y="150.1" width="2.8" height="2.8" rx=".8"/>
<rect x="454.7" y="150.9" width="2.8" height="2.8" rx=".8"/>
<rect x="455.7" y="155.6" width="2.8" height="2.8" rx=".8"/>
<rect x="460.4" y="156.6" width="2.8" height="2.8" rx=".8"/>
<rect x="465.2" y="155.6" width="2.8" height="2.8" rx=".8"/>
<rect x="470.9" y="158.5" width="2.8" height="2.8" rx=".8"/>
<rect x="438.6" y="159.8" width="2.8" height="2.8" rx=".8"/>
<rect x="440.5" y="161.3" width="2.8" height="2.8" rx=".8"/>
<rect x="456.6" y="159.4" width="2.8" height="2.8" rx=".8"/>
<rect x="437.9" y="161.3" width="2.8" height="2.8" rx=".8"/>
<rect x="440.3" y="160.1" width="2.8" height="2.8" rx=".8"/>
<rect x="438.5" y="164.9" width="2.8" height="2.8" rx=".8"/>
<rect x="440.3" y="166.0" width="2.8" height="2.8" rx=".8"/>
<rect x="444.4" y="169.6" width="2.8" height="2.8" rx=".8"/>
<rect x="448.0" y="167.8" width="2.8" height="2.8" rx=".8"/>
<rect x="449.1" y="164.9" width="2.8" height="2.8" rx=".8"/>
<rect x="448.6" y="162.5" width="2.8" height="2.8" rx=".8"/>
<rect x="451.5" y="166.0" width="2.8" height="2.8" rx=".8"/>
<rect x="454.5" y="165.4" width="2.8" height="2.8" rx=".8"/>
<rect x="455.7" y="164.9" width="2.8" height="2.8" rx=".8"/>
<rect x="452.7" y="169.0" width="2.8" height="2.8" rx=".8"/>
<rect x="455.1" y="170.8" width="2.8" height="2.8" rx=".8"/>
<rect x="456.3" y="173.1" width="2.8" height="2.8" rx=".8"/>
<rect x="453.3" y="172.6" width="2.8" height="2.8" rx=".8"/>
<rect x="460.4" y="167.2" width="2.8" height="2.8" rx=".8"/>
<rect x="463.4" y="164.9" width="2.8" height="2.8" rx=".8"/>
<rect x="465.1" y="166.6" width="2.8" height="2.8" rx=".8"/>
<rect x="461.6" y="169.6" width="2.8" height="2.8" rx=".8"/>
<rect x="459.8" y="172.6" width="2.8" height="2.8" rx=".8"/>
<rect x="462.8" y="174.3" width="2.8" height="2.8" rx=".8"/>
<rect x="465.1" y="173.1" width="2.8" height="2.8" rx=".8"/>
<rect x="467.5" y="170.2" width="2.8" height="2.8" rx=".8"/>
<rect x="469.3" y="169.0" width="2.8" height="2.8" rx=".8"/>
<rect x="470.5" y="171.4" width="2.8" height="2.8" rx=".8"/>
<rect x="472.8" y="172.6" width="2.8" height="2.8" rx=".8"/>
<rect x="470.5" y="174.9" width="2.8" height="2.8" rx=".8"/>
<rect x="467.5" y="176.1" width="2.8" height="2.8" rx=".8"/>
<rect x="475.8" y="173.7" width="2.8" height="2.8" rx=".8"/>
<rect x="478.2" y="175.5" width="2.8" height="2.8" rx=".8"/>
<rect x="477.0" y="177.3" width="2.8" height="2.8" rx=".8"/>
<rect x="474.6" y="177.9" width="2.8" height="2.8" rx=".8"/>
<rect x="479.4" y="178.5" width="2.8" height="2.8" rx=".8"/>
<rect x="456.3" y="156.0" width="2.8" height="2.8" rx=".8"/>
<rect x="456.3" y="159.5" width="2.8" height="2.8" rx=".8"/>
<rect x="460.4" y="158.3" width="2.8" height="2.8" rx=".8"/>
<rect x="464.6" y="156.6" width="2.8" height="2.8" rx=".8"/>
<rect x="470.5" y="158.3" width="2.8" height="2.8" rx=".8"/>
<rect x="471.1" y="160.1" width="2.8" height="2.8" rx=".8"/>
<rect x="447.4" y="177.3" width="2.8" height="2.8" rx=".8"/>
<rect x="446.8" y="179.1" width="2.8" height="2.8" rx=".8"/>
<rect x="451.5" y="179.1" width="2.8" height="2.8" rx=".8"/>
<rect x="448.6" y="183.2" width="2.8" height="2.8" rx=".8"/>
<rect x="450.3" y="185.6" width="2.8" height="2.8" rx=".8"/>
<rect x="452.1" y="182.6" width="2.8" height="2.8" rx=".8"/>
<rect x="455.1" y="183.2" width="2.8" height="2.8" rx=".8"/>
<rect x="456.3" y="182.6" width="2.8" height="2.8" rx=".8"/>
<rect x="461.0" y="183.8" width="2.8" height="2.8" rx=".8"/>
<rect x="462.2" y="182.6" width="2.8" height="2.8" rx=".8"/>
<rect x="458.8" y="176.4" width="2.8" height="2.8" rx=".8"/>
<rect x="461.8" y="183.5" width="2.8" height="2.8" rx=".8"/>
<rect x="445.8" y="198.3" width="2.8" height="2.8" rx=".8"/>
<rect x="445.2" y="206.0" width="2.8" height="2.8" rx=".8"/>
<rect x="462.4" y="195.9" width="2.8" height="2.8" rx=".8"/>
<rect x="466.5" y="193.0" width="2.8" height="2.8" rx=".8"/>
<rect x="464.7" y="194.7" width="2.8" height="2.8" rx=".8"/>
<rect x="470.1" y="199.5" width="2.8" height="2.8" rx=".8"/>
<rect x="472.4" y="203.0" width="2.8" height="2.8" rx=".8"/>
<rect x="472.4" y="208.4" width="2.8" height="2.8" rx=".8"/>
<rect x="481.9" y="210.1" width="2.8" height="2.8" rx=".8"/>
<rect x="482.6" y="212.1" width="2.8" height="2.8" rx=".8"/>
<rect x="444.8" y="198.2" width="2.8" height="2.8" rx=".8"/>
<rect x="445.7" y="201.5" width="2.8" height="2.8" rx=".8"/>
<rect x="442.1" y="204.4" width="2.8" height="2.8" rx=".8"/>
<rect x="443.6" y="206.5" width="2.8" height="2.8" rx=".8"/>
<rect x="459.8" y="217.5" width="2.8" height="2.8" rx=".8"/>
<rect x="460.4" y="220.2" width="2.8" height="2.8" rx=".8"/>
<rect x="461.2" y="230.7" width="2.8" height="2.8" rx=".8"/>
<rect x="452.5" y="239.9" width="2.8" height="2.8" rx=".8"/>
<rect x="455.4" y="240.8" width="2.8" height="2.8" rx=".8"/>
<rect x="455.8" y="244.6" width="2.8" height="2.8" rx=".8"/>
<rect x="457.3" y="270.8" width="2.8" height="2.8" rx=".8"/>
<rect x="455.2" y="273.3" width="2.8" height="2.8" rx=".8"/>
<rect x="431.1" y="275.6" width="2.8" height="2.8" rx=".8"/>
<rect x="441.1" y="279.5" width="2.8" height="2.8" rx=".8"/>
<rect x="441.7" y="281.6" width="2.8" height="2.8" rx=".8"/>
<rect x="440.7" y="283.6" width="2.8" height="2.8" rx=".8"/>
<rect x="482.2" y="277.0" width="2.8" height="2.8" rx=".8"/>
<rect x="415.2" y="284.7" width="2.8" height="2.8" rx=".8"/>
<rect x="445.7" y="291.5" width="2.8" height="2.8" rx=".8"/>
<rect x="454.0" y="291.3" width="2.8" height="2.8" rx=".8"/>
<rect x="455.6" y="292.6" width="2.8" height="2.8" rx=".8"/>
<rect x="457.7" y="292.2" width="2.8" height="2.8" rx=".8"/>
<rect x="474.7" y="291.0" width="2.8" height="2.8" rx=".8"/>
<rect x="473.3" y="292.2" width="2.8" height="2.8" rx=".8"/>
<rect x="411.6" y="289.6" width="2.8" height="2.8" rx=".8"/>
<rect x="414.1" y="291.6" width="2.8" height="2.8" rx=".8"/>
<rect x="417.1" y="290.9" width="2.8" height="2.8" rx=".8"/>
<rect x="573.0" y="111.0" width="2.8" height="2.8" rx=".8"/>
<rect x="562.9" y="126.7" width="2.8" height="2.8" rx=".8"/>
<rect x="563.6" y="139.6" width="2.8" height="2.8" rx=".8"/>
<rect x="566.1" y="142.1" width="2.8" height="2.8" rx=".8"/>
<rect x="569.1" y="140.1" width="2.8" height="2.8" rx=".8"/>
<rect x="571.1" y="143.1" width="2.8" height="2.8" rx=".8"/>
<rect x="567.6" y="145.1" width="2.8" height="2.8" rx=".8"/>
<rect x="564.6" y="146.1" width="2.8" height="2.8" rx=".8"/>
<rect x="570.6" y="147.1" width="2.8" height="2.8" rx=".8"/>
<rect x="573.6" y="145.1" width="2.8" height="2.8" rx=".8"/>
<rect x="570.1" y="149.6" width="2.8" height="2.8" rx=".8"/>
<rect x="573.1" y="151.1" width="2.8" height="2.8" rx=".8"/>
<rect x="576.1" y="149.1" width="2.8" height="2.8" rx=".8"/>
<rect x="566.6" y="137.9" width="2.8" height="2.8" rx=".8"/>
<rect x="570.1" y="137.1" width="2.8" height="2.8" rx=".8"/>
<rect x="579.5" y="150.2" width="2.8" height="2.8" rx=".8"/>
<rect x="574.6" y="156.1" width="2.8" height="2.8" rx=".8"/>
<rect x="578.9" y="159.1" width="2.8" height="2.8" rx=".8"/>
<rect x="581.5" y="163.0" width="2.8" height="2.8" rx=".8"/>
<rect x="574.6" y="169.8" width="2.8" height="2.8" rx=".8"/>
<rect x="576.6" y="170.8" width="2.8" height="2.8" rx=".8"/>
<rect x="586.7" y="172.4" width="2.8" height="2.8" rx=".8"/>
<rect x="637.9" y="48.2" width="2.8" height="2.8" rx=".8"/>
<rect x="639.1" y="47.0" width="2.8" height="2.8" rx=".8"/>
<rect x="651.8" y="46.4" width="2.8" height="2.8" rx=".8"/>
<rect x="646.9" y="57.1" width="2.8" height="2.8" rx=".8"/>
<rect x="648.8" y="56.9" width="2.8" height="2.8" rx=".8"/>
<rect x="652.9" y="72.8" width="2.8" height="2.8" rx=".8"/>
<rect x="573.2" y="261.0" width="2.8" height="2.8" rx=".8"/>
<rect x="575.2" y="261.0" width="2.8" height="2.8" rx=".8"/>
<path d="M434.3 132.2L435.8 134.8L432.9 134.8Z"/>
<path d="M522.7 107.5L524.2 110.1L521.2 110.1Z"/>
<path d="M460.1 227.9L461.6 230.5L458.7 230.5Z"/>
<path d="M464.6 228.8L466.1 231.4L463.2 231.4Z"/>
<path d="M441.7 242.9L443.1 245.5L440.2 245.5Z"/>
<path d="M437.6 248.9L439.1 251.5L436.2 251.5Z"/>
<path d="M441.5 249.3L442.9 251.9L440.1 251.9Z"/>
<path d="M437.9 253.1L439.3 255.7L436.4 255.7Z"/>
<path d="M474.7 276.8L476.1 279.4L473.2 279.4Z"/>
<path d="M477.3 278.9L478.8 281.5L475.9 281.5Z"/>
<path d="M404.1 278.7L405.6 281.3L402.7 281.3Z"/>
<path d="M408.9 278.3L410.3 280.9L407.4 280.9Z"/>
<path d="M411.6 287.9L413.1 290.5L410.2 290.5Z"/>
<path d="M416.5 287.7L417.9 290.3L415.1 290.3Z"/>
<path d="M419.5 291.8L420.9 294.4L418.1 294.4Z"/>
<path d="M474.7 288.6L476.1 291.2L473.2 291.2Z"/>
<path d="M603.0 119.6L604.5 122.2L601.5 122.2Z"/>
<path d="M605.0 127.8L606.5 130.4L603.5 130.4Z"/>
<path d="M597.5 143.4L599.0 146.0L596.0 146.0Z"/>
<path d="M601.0 143.9L602.5 146.5L599.5 146.5Z"/>
<path d="M646.7 44.8L648.2 47.4L645.2 47.4Z"/>
<path d="M648.9 279.7L650.4 282.3L647.4 282.3Z"/>
<rect x="646.0" y="290.8" width="1.7" height="3.2" fill="#161616"/>
</g>
<text x="69.50" y="52.60" font-size="6.2" font-family="Liberation Sans, sans-serif" text-anchor="middle" fill="#555" fill-opacity="0.75">B</text>
<text x="174.50" y="81.50" font-size="6.2" font-family="Liberation Sans, sans-serif" text-anchor="middle" fill="#555" fill-opacity="0.75">~b</text>
<text x="70.00" y="152.50" font-size="6.2" font-family="Liberation Sans, sans-serif" text-anchor="middle" fill="#555" fill-opacity="0.75">a</text>
<text x="105.20" y="165.80" font-size="6.2" font-family="Liberation Sans, sans-serif" text-anchor="middle" fill="#555" fill-opacity="0.75">A</text>
<text x="173.50" y="183.00" font-size="6.2" font-family="Liberation Sans, sans-serif" text-anchor="middle" fill="#555" fill-opacity="0.75">~a</text>
<text x="208.50" y="117.00" font-size="6.2" font-family="Liberation Sans, sans-serif" text-anchor="middle" fill="#555" fill-opacity="0.75">l</text>
<text x="216.00" y="95.50" font-size="6.2" font-family="Liberation Sans, sans-serif" text-anchor="middle" fill="#555" fill-opacity="0.75">~l</text>
<text x="281.00" y="54.30" font-size="6.2" font-family="Liberation Sans, sans-serif" text-anchor="middle" fill="#555" fill-opacity="0.75">~b</text>
<text x="305.00" y="61.20" font-size="6.2" font-family="Liberation Sans, sans-serif" text-anchor="middle" fill="#555" fill-opacity="0.75">b</text>
<text x="209.80" y="263.60" font-size="6.2" font-family="Liberation Sans, sans-serif" text-anchor="middle" fill="#555" fill-opacity="0.75">~p</text>
<text x="223.20" y="277.60" font-size="6.2" font-family="Liberation Sans, sans-serif" text-anchor="middle" fill="#555" fill-opacity="0.75">p</text>
<text x="295.00" y="284.30" font-size="6.2" font-family="Liberation Sans, sans-serif" text-anchor="middle" fill="#555" fill-opacity="0.75">~b</text>
<text x="61.00" y="262.80" font-size="6.2" font-family="Liberation Sans, sans-serif" text-anchor="middle" fill="#555" fill-opacity="0.75">~b</text>
<text x="70.50" y="276.70" font-size="6.2" font-family="Liberation Sans, sans-serif" text-anchor="middle" fill="#555" fill-opacity="0.75">b</text><text x="415.00" y="52.57" font-size="6.2" font-family="Liberation Sans, sans-serif" text-anchor="middle" fill="#555" fill-opacity="0.75">B</text>
<text x="520.00" y="81.35" font-size="6.2" font-family="Liberation Sans, sans-serif" text-anchor="middle" fill="#555" fill-opacity="0.75">~b</text>
<text x="415.50" y="152.07" font-size="6.2" font-family="Liberation Sans, sans-serif" text-anchor="middle" fill="#555" fill-opacity="0.75">a</text>
<text x="450.70" y="165.32" font-size="6.2" font-family="Liberation Sans, sans-serif" text-anchor="middle" fill="#555" fill-opacity="0.75">A</text>
<text x="519.00" y="182.45" font-size="6.2" font-family="Liberation Sans, sans-serif" text-anchor="middle" fill="#555" fill-opacity="0.75">~a</text>
<text x="554.00" y="116.71" font-size="6.2" font-family="Liberation Sans, sans-serif" text-anchor="middle" fill="#555" fill-opacity="0.75">l</text>
<text x="561.50" y="95.30" font-size="6.2" font-family="Liberation Sans, sans-serif" text-anchor="middle" fill="#555" fill-opacity="0.75">~l</text>
<text x="626.50" y="54.26" font-size="6.2" font-family="Liberation Sans, sans-serif" text-anchor="middle" fill="#555" fill-opacity="0.75">~b</text>
<text x="650.50" y="61.13" font-size="6.2" font-family="Liberation Sans, sans-serif" text-anchor="middle" fill="#555" fill-opacity="0.75">b</text>
<text x="555.30" y="262.73" font-size="6.2" font-family="Liberation Sans, sans-serif" text-anchor="middle" fill="#555" fill-opacity="0.75">~p</text>
<text x="568.70" y="276.67" font-size="6.2" font-family="Liberation Sans, sans-serif" text-anchor="middle" fill="#555" fill-opacity="0.75">p</text>
<text x="640.50" y="283.34" font-size="6.2" font-family="Liberation Sans, sans-serif" text-anchor="middle" fill="#555" fill-opacity="0.75">~b</text>
<text x="406.50" y="261.93" font-size="6.2" font-family="Liberation Sans, sans-serif" text-anchor="middle" fill="#555" fill-opacity="0.75">~b</text>
<text x="416.00" y="275.77" font-size="6.2" font-family="Liberation Sans, sans-serif" text-anchor="middle" fill="#555" fill-opacity="0.75">b</text><text transform="translate(7.5,22.7) scale(1.15,1)" font-size="30.5" font-family="Liberation Sans, sans-serif" fill="#111" stroke="#111" stroke-width="0.8">a</text>
<text transform="translate(352.1,26.2) scale(1.07,1)" font-size="32.3" font-family="Liberation Sans, sans-serif" fill="#111" stroke="#111" stroke-width="0.8">b</text>
<text transform="translate(106.9,25.9) scale(0.935,1)" font-size="18.5" font-family="Liberation Sans, sans-serif" fill="#1a1a1a" stroke="#1a1a1a" stroke-width="0.45">Ramachandran Plot</text>
<text transform="translate(456.6,25.9) scale(0.935,1)" font-size="18.5" font-family="Liberation Sans, sans-serif" fill="#1a1a1a" stroke="#1a1a1a" stroke-width="0.45">Ramachandran Plot</text>
<text x="46.60" y="50.20" font-size="13" font-family="Liberation Sans, sans-serif" text-anchor="end" font-weight="bold" stroke="#111" stroke-width="0.25" fill="#111">180</text>
<text x="46.60" y="80.70" font-size="13" font-family="Liberation Sans, sans-serif" text-anchor="end" font-weight="bold" stroke="#111" stroke-width="0.25" fill="#111">135</text>
<text x="46.60" y="110.90" font-size="13" font-family="Liberation Sans, sans-serif" text-anchor="end" font-weight="bold" stroke="#111" stroke-width="0.25" fill="#111">90</text>
<text x="46.60" y="143.10" font-size="13" font-family="Liberation Sans, sans-serif" text-anchor="end" font-weight="bold" stroke="#111" stroke-width="0.25" fill="#111">45</text>
<text x="39.10" y="172.90" font-size="13" font-family="Liberation Sans, sans-serif" text-anchor="middle" font-weight="bold" stroke="#111" stroke-width="0.25" fill="#111">0</text>
<text x="37.70" y="205.00" font-size="13" font-family="Liberation Sans, sans-serif" text-anchor="middle" font-weight="bold" stroke="#111" stroke-width="0.25" fill="#111">-45</text>
<text x="37.70" y="234.60" font-size="13" font-family="Liberation Sans, sans-serif" text-anchor="middle" font-weight="bold" stroke="#111" stroke-width="0.25" fill="#111">-90</text>
<text x="37.70" y="267.10" font-size="13" font-family="Liberation Sans, sans-serif" text-anchor="middle" font-weight="bold" stroke="#111" stroke-width="0.25" fill="#111">-135</text>
<text x="54.00" y="314.30" font-size="13" font-family="Liberation Sans, sans-serif" text-anchor="middle" font-weight="bold" stroke="#111" stroke-width="0.25" fill="#111">-180</text>
<text x="86.70" y="314.30" font-size="13" font-family="Liberation Sans, sans-serif" text-anchor="middle" font-weight="bold" stroke="#111" stroke-width="0.25" fill="#111">-135</text>
<text x="122.20" y="314.30" font-size="13" font-family="Liberation Sans, sans-serif" text-anchor="middle" font-weight="bold" stroke="#111" stroke-width="0.25" fill="#111">-90</text>
<text x="150.00" y="314.30" font-size="13" font-family="Liberation Sans, sans-serif" text-anchor="middle" font-weight="bold" stroke="#111" stroke-width="0.25" fill="#111">-45</text>
<text x="184.00" y="314.30" font-size="13" font-family="Liberation Sans, sans-serif" text-anchor="middle" font-weight="bold" stroke="#111" stroke-width="0.25" fill="#111">0</text>
<text x="215.80" y="314.30" font-size="13" font-family="Liberation Sans, sans-serif" text-anchor="middle" font-weight="bold" stroke="#111" stroke-width="0.25" fill="#111">45</text>
<text x="246.40" y="314.30" font-size="13" font-family="Liberation Sans, sans-serif" text-anchor="middle" font-weight="bold" stroke="#111" stroke-width="0.25" fill="#111">90</text>
<text x="280.90" y="314.30" font-size="13" font-family="Liberation Sans, sans-serif" text-anchor="middle" font-weight="bold" stroke="#111" stroke-width="0.25" fill="#111">135</text>
<text x="311.50" y="314.30" font-size="13" font-family="Liberation Sans, sans-serif" text-anchor="middle" font-weight="bold" stroke="#111" stroke-width="0.25" fill="#111">180</text>
<text x="185.40" y="340.80" font-size="13.8" font-family="Liberation Sans, sans-serif" text-anchor="middle" font-weight="bold" stroke="#111" stroke-width="0.25" fill="#111">Phi (degrees)</text>
<text transform="translate(13.20,169.3) rotate(-90)" font-size="13.8" font-family="Liberation Sans, sans-serif" font-weight="bold" stroke="#111" stroke-width="0.25" text-anchor="middle" fill="#111">Psi (degrees)</text>
<text x="392.60" y="50.90" font-size="13" font-family="Liberation Sans, sans-serif" text-anchor="end" font-weight="bold" stroke="#111" stroke-width="0.25" fill="#111">180</text>
<text x="392.60" y="81.40" font-size="13" font-family="Liberation Sans, sans-serif" text-anchor="end" font-weight="bold" stroke="#111" stroke-width="0.25" fill="#111">135</text>
<text x="392.60" y="111.60" font-size="13" font-family="Liberation Sans, sans-serif" text-anchor="end" font-weight="bold" stroke="#111" stroke-width="0.25" fill="#111">90</text>
<text x="392.60" y="143.80" font-size="13" font-family="Liberation Sans, sans-serif" text-anchor="end" font-weight="bold" stroke="#111" stroke-width="0.25" fill="#111">45</text>
<text x="385.10" y="173.60" font-size="13" font-family="Liberation Sans, sans-serif" text-anchor="middle" font-weight="bold" stroke="#111" stroke-width="0.25" fill="#111">0</text>
<text x="383.70" y="205.70" font-size="13" font-family="Liberation Sans, sans-serif" text-anchor="middle" font-weight="bold" stroke="#111" stroke-width="0.25" fill="#111">-45</text>
<text x="383.70" y="235.30" font-size="13" font-family="Liberation Sans, sans-serif" text-anchor="middle" font-weight="bold" stroke="#111" stroke-width="0.25" fill="#111">-90</text>
<text x="383.70" y="267.80" font-size="13" font-family="Liberation Sans, sans-serif" text-anchor="middle" font-weight="bold" stroke="#111" stroke-width="0.25" fill="#111">-135</text>
<text x="404.10" y="314.10" font-size="13" font-family="Liberation Sans, sans-serif" text-anchor="middle" font-weight="bold" stroke="#111" stroke-width="0.25" fill="#111">-180</text>
<text x="436.10" y="314.10" font-size="13" font-family="Liberation Sans, sans-serif" text-anchor="middle" font-weight="bold" stroke="#111" stroke-width="0.25" fill="#111">-135</text>
<text x="471.70" y="314.10" font-size="13" font-family="Liberation Sans, sans-serif" text-anchor="middle" font-weight="bold" stroke="#111" stroke-width="0.25" fill="#111">-90</text>
<text x="500.00" y="314.10" font-size="13" font-family="Liberation Sans, sans-serif" text-anchor="middle" font-weight="bold" stroke="#111" stroke-width="0.25" fill="#111">-45</text>
<text x="534.00" y="314.10" font-size="13" font-family="Liberation Sans, sans-serif" text-anchor="middle" font-weight="bold" stroke="#111" stroke-width="0.25" fill="#111">0</text>
<text x="565.80" y="314.10" font-size="13" font-family="Liberation Sans, sans-serif" text-anchor="middle" font-weight="bold" stroke="#111" stroke-width="0.25" fill="#111">45</text>
<text x="597.20" y="314.10" font-size="13" font-family="Liberation Sans, sans-serif" text-anchor="middle" font-weight="bold" stroke="#111" stroke-width="0.25" fill="#111">90</text>
<text x="631.00" y="314.10" font-size="13" font-family="Liberation Sans, sans-serif" text-anchor="middle" font-weight="bold" stroke="#111" stroke-width="0.25" fill="#111">135</text>
<text x="661.00" y="314.10" font-size="13" font-family="Liberation Sans, sans-serif" text-anchor="middle" font-weight="bold" stroke="#111" stroke-width="0.25" fill="#111">180</text>
<text x="537.50" y="338.60" font-size="13.8" font-family="Liberation Sans, sans-serif" text-anchor="middle" font-weight="bold" stroke="#111" stroke-width="0.25" fill="#111">Phi (degrees)</text>
<text transform="translate(361.00,169.3) rotate(-90)" font-size="13.8" font-family="Liberation Sans, sans-serif" font-weight="bold" stroke="#111" stroke-width="0.25" text-anchor="middle" fill="#111">Psi (degrees)</text></svg>
</body></html>
